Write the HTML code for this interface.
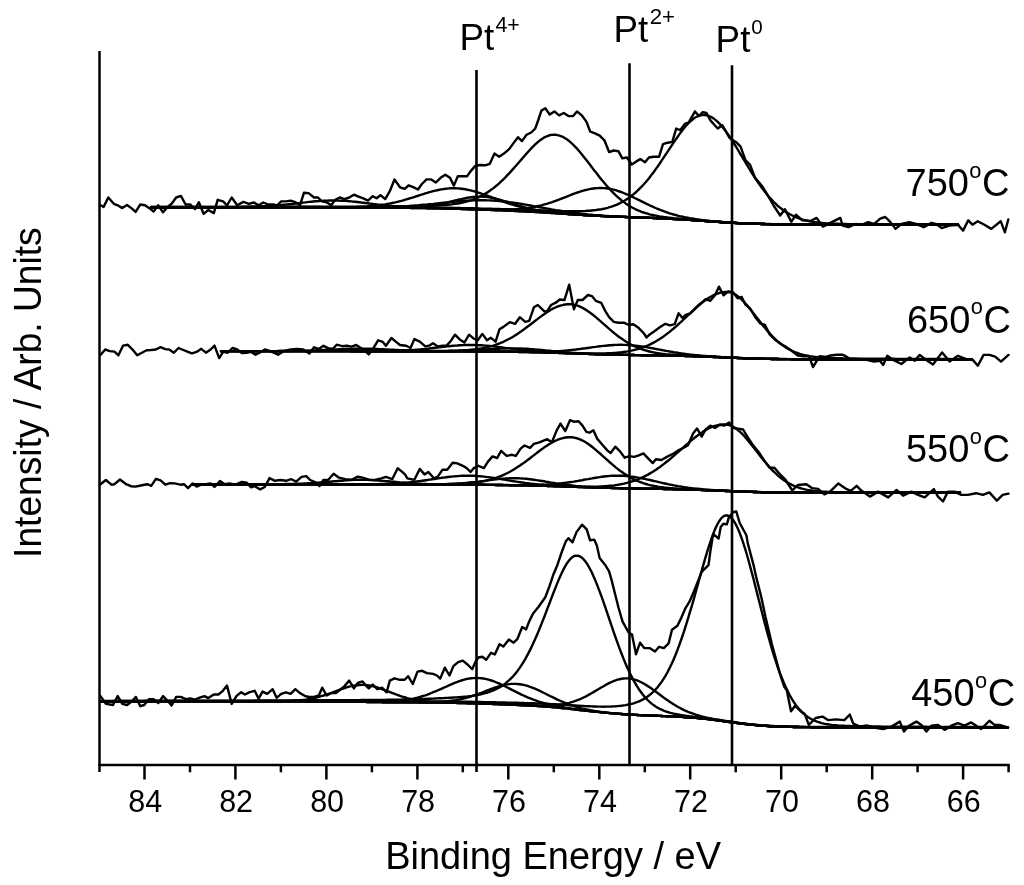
<!DOCTYPE html>
<html><head><meta charset="utf-8"><title>XPS Pt 4f</title>
<style>html,body{margin:0;padding:0;background:#fff;}svg{display:block;will-change:transform;}</style>
</head><body>
<svg width="1024" height="885" viewBox="0 0 1024 885">
<g stroke="#000" stroke-width="2.5" fill="none" stroke-linecap="butt">
<line x1="99.5" y1="51" x2="99.5" y2="772"/>
<line x1="98.3" y1="765" x2="1009.8" y2="765"/>
<line x1="144.5" y1="765" x2="144.5" y2="779.5"/>
<line x1="190.0" y1="765" x2="190.0" y2="772.3"/>
<line x1="235.4" y1="765" x2="235.4" y2="779.5"/>
<line x1="280.9" y1="765" x2="280.9" y2="772.3"/>
<line x1="326.4" y1="765" x2="326.4" y2="779.5"/>
<line x1="371.9" y1="765" x2="371.9" y2="772.3"/>
<line x1="417.4" y1="765" x2="417.4" y2="779.5"/>
<line x1="462.8" y1="765" x2="462.8" y2="772.3"/>
<line x1="508.3" y1="765" x2="508.3" y2="779.5"/>
<line x1="553.8" y1="765" x2="553.8" y2="772.3"/>
<line x1="599.3" y1="765" x2="599.3" y2="779.5"/>
<line x1="644.8" y1="765" x2="644.8" y2="772.3"/>
<line x1="690.2" y1="765" x2="690.2" y2="779.5"/>
<line x1="735.7" y1="765" x2="735.7" y2="772.3"/>
<line x1="781.2" y1="765" x2="781.2" y2="779.5"/>
<line x1="826.7" y1="765" x2="826.7" y2="772.3"/>
<line x1="872.2" y1="765" x2="872.2" y2="779.5"/>
<line x1="917.6" y1="765" x2="917.6" y2="772.3"/>
<line x1="963.1" y1="765" x2="963.1" y2="779.5"/>
<line x1="1008.6" y1="765" x2="1008.6" y2="772.3"/>
</g>
<g stroke="#000" stroke-width="2.6" fill="none">
<line x1="476.5" y1="70" x2="476.5" y2="772"/>
<line x1="629.5" y1="63.2" x2="629.5" y2="765"/>
<line x1="732" y1="65.2" x2="732" y2="765"/>
</g>
<g stroke="#000" stroke-width="2.4" fill="none" stroke-linejoin="round" stroke-linecap="round">
<polyline points="151.0,207.2 153.0,207.2 155.0,207.2 157.0,207.2 159.0,207.2 161.0,207.2 163.0,207.2 165.0,207.2 167.0,207.2 169.0,207.2 171.0,207.2 173.0,207.2 175.0,207.2 177.0,207.2 179.0,207.2 181.0,207.2 183.0,207.2 185.0,207.2 187.0,207.2 189.0,207.2 191.0,207.2 193.1,207.2 195.1,207.2 197.1,207.2 199.1,207.2 201.1,207.2 203.1,207.2 205.1,207.2 207.1,207.2 209.1,207.2 211.1,207.2 213.1,207.2 215.1,207.2 217.1,207.2 219.1,207.2 221.1,207.2 223.1,207.2 225.1,207.2 227.1,207.2 229.1,207.2 231.1,207.2 233.1,207.2 235.1,207.2 237.1,207.2 239.1,207.2 241.1,207.2 243.1,207.2 245.1,207.2 247.1,207.2 249.1,207.2 251.1,207.2 253.1,207.2 255.1,207.2 257.1,207.2 259.1,207.2 261.1,207.2 263.1,207.2 265.1,207.3 267.1,207.3 269.1,207.3 271.1,207.3 273.2,207.3 275.2,207.3 277.2,207.3 279.2,207.3 281.2,207.3 283.2,207.3 285.2,207.3 287.2,207.3 289.2,207.3 291.2,207.3 293.2,207.3 295.2,207.3 297.2,207.3 299.2,207.3 301.2,207.3 303.2,207.3 305.2,207.3 307.2,207.4 309.2,207.4 311.2,207.4 313.2,207.4 315.2,207.4 317.2,207.4 319.2,207.4 321.2,207.4 323.2,207.4 325.2,207.4 327.2,207.5 329.2,207.5 331.2,207.5 333.2,207.5 335.2,207.5 337.2,207.5 339.2,207.5 341.2,207.5 343.2,207.5 345.2,207.6 347.2,207.6 349.2,207.6 351.2,207.6 353.3,207.6 355.3,207.6 357.3,207.6 359.3,207.6 361.3,207.6 363.3,207.6 365.3,207.7 367.3,207.7 369.3,207.7 371.3,207.7 373.3,207.7 375.3,207.7 377.3,207.7 379.3,207.7 381.3,207.7 383.3,207.8 385.3,207.8 387.3,207.8 389.3,207.8 391.3,207.8 393.3,207.8 395.3,207.8 397.3,207.8 399.3,207.9 401.3,207.9 403.3,207.9 405.3,207.9 407.3,207.9 409.3,207.9 411.3,208.0 413.3,208.0 415.3,208.0 417.3,208.0 419.3,208.1 421.3,208.1 423.3,208.1 425.3,208.1 427.3,208.2 429.3,208.2 431.3,208.2 433.3,208.3 435.4,208.3 437.4,208.4 439.4,208.4 441.4,208.4 443.4,208.5 445.4,208.5 447.4,208.6 449.4,208.6 451.4,208.7 453.4,208.7 455.4,208.8 457.4,208.8 459.4,208.9 461.4,209.0 463.4,209.0 465.4,209.1 467.4,209.2 469.4,209.2 471.4,209.3 473.4,209.4 475.4,209.4 477.4,209.5 479.4,209.6 481.4,209.6 483.4,209.7 485.4,209.8 487.4,209.9 489.4,209.9 491.4,210.0 493.4,210.1 495.4,210.2 497.4,210.2 499.4,210.3 501.4,210.4 503.4,210.5 505.4,210.6 507.4,210.6 509.4,210.7 511.4,210.8 513.4,210.9 515.5,211.0 517.5,211.1 519.5,211.2 521.5,211.3 523.5,211.4 525.5,211.5 527.5,211.6 529.5,211.7 531.5,211.8 533.5,211.9 535.5,212.0 537.5,212.1 539.5,212.2 541.5,212.4 543.5,212.5 545.5,212.6 547.5,212.7 549.5,212.9 551.5,213.0 553.5,213.1 555.5,213.2 557.5,213.4 559.5,213.5 561.5,213.6 563.5,213.8 565.5,213.9 567.5,214.0 569.5,214.2 571.5,214.3 573.5,214.4 575.5,214.5 577.5,214.7 579.5,214.8 581.5,214.9 583.5,215.0 585.5,215.2 587.5,215.3 589.5,215.4 591.5,215.5 593.5,215.6 595.6,215.7 597.6,215.8 599.6,215.9 601.6,216.0 603.6,216.1 605.6,216.2 607.6,216.3 609.6,216.4 611.6,216.5 613.6,216.5 615.6,216.6 617.6,216.7 619.6,216.8 621.6,216.9 623.6,216.9 625.6,217.0 627.6,217.1 629.6,217.1 631.6,217.2 633.6,217.3 635.6,217.4 637.6,217.4 639.6,217.5 641.6,217.6 643.6,217.6 645.6,217.7 647.6,217.8 649.6,217.9 651.6,217.9 653.6,218.0 655.6,218.1 657.6,218.2 659.6,218.3 661.6,218.4 663.6,218.4 665.6,218.5 667.6,218.6 669.6,218.7 671.6,218.8 673.6,219.0 675.7,219.1 677.7,219.2 679.7,219.3 681.7,219.4 683.7,219.5 685.7,219.7 687.7,219.8 689.7,219.9 691.7,220.1 693.7,220.2 695.7,220.3 697.7,220.5 699.7,220.6 701.7,220.8 703.7,220.9 705.7,221.1 707.7,221.2 709.7,221.3 711.7,221.5 713.7,221.6 715.7,221.8 717.7,221.9 719.7,222.0 721.7,222.2 723.7,222.3 725.7,222.4 727.7,222.5 729.7,222.7 731.7,222.8 733.7,222.9 735.7,223.0 737.7,223.1 739.7,223.2 741.7,223.3 743.7,223.4 745.7,223.4 747.7,223.5 749.7,223.6 751.7,223.7 753.7,223.7 755.7,223.8 757.8,223.9 759.8,223.9 761.8,224.0 763.8,224.0 765.8,224.1 767.8,224.1 769.8,224.1 771.8,224.2 773.8,224.2 775.8,224.2 777.8,224.3 779.8,224.3 781.8,224.3 783.8,224.3 785.8,224.3 787.8,224.4 789.8,224.4 791.8,224.4 793.8,224.4 795.8,224.4 797.8,224.4 799.8,224.4 801.8,224.4 803.8,224.4 805.8,224.4 807.8,224.4 809.8,224.4 811.8,224.5 813.8,224.5 815.8,224.5 817.8,224.5 819.8,224.5 821.8,224.5 823.8,224.5 825.8,224.5 827.8,224.5 829.8,224.5 831.8,224.5 833.8,224.5 835.8,224.5 837.9,224.5 839.9,224.5 841.9,224.5 843.9,224.5 845.9,224.5 847.9,224.5 849.9,224.5 851.9,224.5 853.9,224.5 855.9,224.5 857.9,224.5 859.9,224.5 861.9,224.5 863.9,224.5 865.9,224.5 867.9,224.5 869.9,224.5 871.9,224.5 873.9,224.5 875.9,224.5 877.9,224.5 879.9,224.5 881.9,224.5 883.9,224.5 885.9,224.5 887.9,224.5 889.9,224.5 891.9,224.5 893.9,224.5 895.9,224.5 897.9,224.5 899.9,224.5 901.9,224.5 903.9,224.5 905.9,224.5 907.9,224.5 909.9,224.5 911.9,224.5 913.9,224.5 915.9,224.5 918.0,224.5 920.0,224.5 922.0,224.5 924.0,224.5 926.0,224.5 928.0,224.5 930.0,224.5 932.0,224.5 934.0,224.5 936.0,224.5 938.0,224.5 940.0,224.5 942.0,224.5 944.0,224.5 946.0,224.5 948.0,224.5 950.0,224.5 952.0,224.5 954.0,224.5 956.0,224.5 958.0,224.5"/>
<polyline points="151.0,207.0 153.0,207.0 155.0,207.0 157.0,207.0 159.0,207.0 161.0,207.0 163.0,207.0 165.0,207.0 167.0,207.0 169.0,207.0 171.0,207.0 173.0,207.0 175.0,207.0 177.0,207.0 179.0,207.0 181.0,207.0 183.0,207.0 185.0,207.0 187.0,207.0 189.0,207.0 191.0,207.0 193.1,207.0 195.1,207.0 197.1,207.0 199.1,207.0 201.1,207.0 203.1,207.0 205.1,207.0 207.1,207.0 209.1,207.0 211.1,207.0 213.1,207.0 215.1,207.0 217.1,207.0 219.1,207.0 221.1,207.0 223.1,207.0 225.1,207.0 227.1,207.0 229.1,207.0 231.1,207.0 233.1,207.0 235.1,207.0 237.1,207.0 239.1,207.0 241.1,207.0 243.1,207.0 245.1,207.0 247.1,207.0 249.1,207.0 251.1,207.0 253.1,207.0 255.1,207.0 257.1,207.0 259.1,207.0 261.1,207.0 263.1,207.0 265.1,207.0 267.1,207.0 269.1,207.0 271.1,207.0 273.2,207.0 275.2,207.0 277.2,207.0 279.2,207.0 281.2,207.0 283.2,207.0 285.2,207.0 287.2,207.0 289.2,207.0 291.2,207.0 293.2,207.0 295.2,207.0 297.2,207.0 299.2,207.0 301.2,207.0 303.2,207.0 305.2,207.0 307.2,207.0 309.2,207.0 311.2,207.0 313.2,207.0 315.2,207.0 317.2,207.0 319.2,207.0 321.2,207.0 323.2,207.1 325.2,207.1 327.2,207.1 329.2,207.1 331.2,207.1 333.2,207.1 335.2,207.1 337.2,207.1 339.2,207.1 341.2,207.1 343.2,207.1 345.2,207.1 347.2,207.1 349.2,207.1 351.2,207.1 353.3,207.2 355.3,207.2 357.3,207.2 359.3,207.2 361.3,207.2 363.3,207.2 365.3,207.2 367.3,207.2 369.3,207.2 371.3,207.2 373.3,207.2 375.3,207.2 377.3,207.2 379.3,207.2 381.3,207.2 383.3,207.2 385.3,207.2 387.3,207.2 389.3,207.2 391.3,207.2 393.3,207.2 395.3,207.3 397.3,207.3 399.3,207.3 401.3,207.3 403.3,207.3 405.3,207.3 407.3,207.3 409.3,207.3 411.3,207.3 413.3,207.3 415.3,207.4 417.3,207.4 419.3,207.4 421.3,207.4 423.3,207.4 425.3,207.4 427.3,207.5 429.3,207.5 431.3,207.5 433.3,207.5 435.4,207.6 437.4,207.6 439.4,207.6 441.4,207.7 443.4,207.7 445.4,207.7 447.4,207.8 449.4,207.8 451.4,207.8 453.4,207.9 455.4,207.9 457.4,208.0 459.4,208.0 461.4,208.1 463.4,208.1 465.4,208.1 467.4,208.2 469.4,208.2 471.4,208.3 473.4,208.3 475.4,208.4 477.4,208.5 479.4,208.5 481.4,208.6 483.4,208.6 485.4,208.7 487.4,208.7 489.4,208.8 491.4,208.8 493.4,208.9 495.4,208.9 497.4,209.0 499.4,209.0 501.4,209.1 503.4,209.2 505.4,209.2 507.4,209.3 509.4,209.3 511.4,209.4 513.4,209.5 515.5,209.5 517.5,209.6 519.5,209.6 521.5,209.7 523.5,209.8 525.5,209.8 527.5,209.9 529.5,210.0 531.5,210.0 533.5,210.1 535.5,210.2 537.5,210.3 539.5,210.3 541.5,210.4 543.5,210.5 545.5,210.5 547.5,210.6 549.5,210.7 551.5,210.8 553.5,210.8 555.5,210.9 557.5,211.0 559.5,211.0 561.5,211.1 563.5,211.1 565.5,211.2 567.5,211.2 569.5,211.2 571.5,211.2 573.5,211.2 575.5,211.2 577.5,211.2 579.5,211.2 581.5,211.1 583.5,211.1 585.5,211.0 587.5,210.8 589.5,210.7 591.5,210.5 593.5,210.3 595.6,210.1 597.6,209.8 599.6,209.5 601.6,209.2 603.6,208.8 605.6,208.3 607.6,207.8 609.6,207.2 611.6,206.6 613.6,205.9 615.6,205.1 617.6,204.3 619.6,203.4 621.6,202.3 623.6,201.2 625.6,200.0 627.6,198.7 629.6,197.3 631.6,195.8 633.6,194.2 635.6,192.5 637.6,190.7 639.6,188.7 641.6,186.7 643.6,184.5 645.6,182.3 647.6,179.9 649.6,177.4 651.6,174.8 653.6,172.2 655.6,169.4 657.6,166.6 659.6,163.7 661.6,160.7 663.6,157.7 665.6,154.7 667.6,151.7 669.6,148.6 671.6,145.6 673.6,142.6 675.7,139.6 677.7,136.7 679.7,133.9 681.7,131.2 683.7,128.6 685.7,126.2 687.7,124.0 689.7,122.0 691.7,120.2 693.7,118.6 695.7,117.3 697.7,116.3 699.7,115.5 701.7,115.1 703.7,114.9 705.7,115.1 707.7,115.6 709.7,116.3 711.7,117.3 713.7,118.6 715.7,120.1 717.7,121.9 719.7,123.9 721.7,126.1 723.7,128.5 725.7,131.1 727.7,133.9 729.7,136.8 731.7,139.8 733.7,143.0 735.7,146.2 737.7,149.5 739.7,152.8 741.7,156.2 743.7,159.5 745.7,162.9 747.7,166.2 749.7,169.5 751.7,172.8 753.7,175.9 755.7,179.0 757.8,182.0 759.8,184.9 761.8,187.7 763.8,190.4 765.8,193.0 767.8,195.4 769.8,197.7 771.8,199.9 773.8,202.0 775.8,203.9 777.8,205.8 779.8,207.5 781.8,209.0 783.8,210.5 785.8,211.9 787.8,213.1 789.8,214.2 791.8,215.3 793.8,216.3 795.8,217.1 797.8,217.9 799.8,218.6 801.8,219.3 803.8,219.9 805.8,220.4 807.8,220.8 809.8,221.3 811.8,221.6 813.8,222.0 815.8,222.2 817.8,222.5 819.8,222.7 821.8,222.9 823.8,223.1 825.8,223.3 827.8,223.4 829.8,223.5 831.8,223.6 833.8,223.7 835.8,223.8 837.9,223.8 839.9,223.9 841.9,224.0 843.9,224.0 845.9,224.0 847.9,224.1 849.9,224.1 851.9,224.1 853.9,224.1 855.9,224.2 857.9,224.2 859.9,224.2 861.9,224.2 863.9,224.2 865.9,224.2 867.9,224.2 869.9,224.2 871.9,224.3 873.9,224.3 875.9,224.3 877.9,224.3 879.9,224.3 881.9,224.3 883.9,224.3 885.9,224.3 887.9,224.3 889.9,224.3 891.9,224.3 893.9,224.3 895.9,224.3 897.9,224.3 899.9,224.3 901.9,224.3 903.9,224.3 905.9,224.3 907.9,224.3 909.9,224.3 911.9,224.3 913.9,224.3 915.9,224.4 918.0,224.4 920.0,224.4 922.0,224.4 924.0,224.4 926.0,224.4 928.0,224.4 930.0,224.4 932.0,224.4 934.0,224.4 936.0,224.4 938.0,224.4 940.0,224.4 942.0,224.4 944.0,224.4 946.0,224.4 948.0,224.4 950.0,224.4 952.0,224.4 954.0,224.4 956.0,224.4 958.0,224.4"/>
<polyline points="151.0,207.0 153.0,207.0 155.0,207.0 157.0,207.0 159.0,207.0 161.0,207.0 163.0,207.0 165.0,207.0 167.0,207.0 169.0,207.0 171.0,206.9 173.0,206.9 175.0,206.9 177.0,206.9 179.0,206.9 181.0,206.9 183.0,206.9 185.0,206.9 187.0,206.9 189.0,206.9 191.0,206.9 193.1,206.9 195.1,206.9 197.1,206.9 199.1,206.9 201.1,206.9 203.1,206.9 205.1,206.9 207.1,206.9 209.1,206.9 211.1,206.9 213.1,206.9 215.1,206.9 217.1,206.9 219.1,206.9 221.1,206.9 223.1,206.9 225.1,206.9 227.1,206.9 229.1,206.9 231.1,206.9 233.1,206.9 235.1,206.9 237.1,206.9 239.1,206.9 241.1,206.9 243.1,206.8 245.1,206.8 247.1,206.8 249.1,206.8 251.1,206.8 253.1,206.8 255.1,206.8 257.1,206.8 259.1,206.8 261.1,206.8 263.1,206.8 265.1,206.8 267.1,206.8 269.1,206.8 271.1,206.8 273.2,206.8 275.2,206.8 277.2,206.8 279.2,206.8 281.2,206.8 283.2,206.8 285.2,206.8 287.2,206.8 289.2,206.8 291.2,206.8 293.2,206.8 295.2,206.8 297.2,206.8 299.2,206.8 301.2,206.8 303.2,206.8 305.2,206.8 307.2,206.8 309.2,206.8 311.2,206.8 313.2,206.8 315.2,206.7 317.2,206.7 319.2,206.7 321.2,206.7 323.2,206.7 325.2,206.7 327.2,206.7 329.2,206.7 331.2,206.7 333.2,206.7 335.2,206.7 337.2,206.7 339.2,206.7 341.2,206.7 343.2,206.7 345.2,206.7 347.2,206.7 349.2,206.7 351.2,206.7 353.3,206.7 355.3,206.7 357.3,206.7 359.3,206.7 361.3,206.7 363.3,206.7 365.3,206.7 367.3,206.6 369.3,206.6 371.3,206.6 373.3,206.6 375.3,206.6 377.3,206.6 379.3,206.6 381.3,206.5 383.3,206.5 385.3,206.5 387.3,206.5 389.3,206.5 391.3,206.5 393.3,206.4 395.3,206.4 397.3,206.4 399.3,206.4 401.3,206.4 403.3,206.3 405.3,206.3 407.3,206.3 409.3,206.3 411.3,206.2 413.3,206.2 415.3,206.2 417.3,206.1 419.3,206.1 421.3,206.0 423.3,206.0 425.3,206.0 427.3,205.9 429.3,205.8 431.3,205.8 433.3,205.7 435.4,205.6 437.4,205.5 439.4,205.4 441.4,205.3 443.4,205.1 445.4,205.0 447.4,204.8 449.4,204.6 451.4,204.4 453.4,204.1 455.4,203.8 457.4,203.5 459.4,203.2 461.4,202.8 463.4,202.4 465.4,201.9 467.4,201.3 469.4,200.7 471.4,200.1 473.4,199.4 475.4,198.6 477.4,197.8 479.4,196.9 481.4,195.9 483.4,194.8 485.4,193.6 487.4,192.4 489.4,191.0 491.4,189.6 493.4,188.1 495.4,186.5 497.4,184.8 499.4,183.1 501.4,181.2 503.4,179.3 505.4,177.3 507.4,175.2 509.4,173.1 511.4,170.9 513.4,168.6 515.5,166.3 517.5,164.0 519.5,161.7 521.5,159.4 523.5,157.0 525.5,154.7 527.5,152.5 529.5,150.3 531.5,148.1 533.5,146.1 535.5,144.2 537.5,142.4 539.5,140.7 541.5,139.2 543.5,137.9 545.5,136.8 547.5,136.0 549.5,135.3 551.5,134.9 553.5,134.7 555.5,134.8 557.5,135.1 559.5,135.6 561.5,136.3 563.5,137.3 565.5,138.5 567.5,139.8 569.5,141.4 571.5,143.1 573.5,145.0 575.5,147.1 577.5,149.2 579.5,151.5 581.5,153.9 583.5,156.4 585.5,158.9 587.5,161.5 589.5,164.1 591.5,166.7 593.5,169.4 595.6,172.0 597.6,174.6 599.6,177.2 601.6,179.7 603.6,182.1 605.6,184.5 607.6,186.8 609.6,189.0 611.6,191.2 613.6,193.2 615.6,195.1 617.6,197.0 619.6,198.7 621.6,200.4 623.6,201.9 625.6,203.4 627.6,204.7 629.6,206.0 631.6,207.2 633.6,208.3 635.6,209.3 637.6,210.2 639.6,211.0 641.6,211.8 643.6,212.5 645.6,213.1 647.6,213.7 649.6,214.3 651.6,214.8 653.6,215.2 655.6,215.6 657.6,216.0 659.6,216.4 661.6,216.7 663.6,217.0 665.6,217.2 667.6,217.5 669.6,217.7 671.6,217.9 673.6,218.2 675.7,218.4 677.7,218.5 679.7,218.7 681.7,218.9 683.7,219.1 685.7,219.3 687.7,219.4 689.7,219.6 691.7,219.7 693.7,219.9 695.7,220.1 697.7,220.2 699.7,220.4 701.7,220.5 703.7,220.7 705.7,220.8 707.7,221.0 709.7,221.2 711.7,221.3 713.7,221.4 715.7,221.6 717.7,221.7 719.7,221.9 721.7,222.0 723.7,222.1 725.7,222.3 727.7,222.4 729.7,222.5 731.7,222.6 733.7,222.7 735.7,222.9 737.7,223.0 739.7,223.1 741.7,223.2 743.7,223.2 745.7,223.3 747.7,223.4 749.7,223.5 751.7,223.6 753.7,223.6 755.7,223.7 757.8,223.8 759.8,223.8 761.8,223.9 763.8,223.9 765.8,224.0 767.8,224.0 769.8,224.0 771.8,224.1 773.8,224.1 775.8,224.1 777.8,224.2 779.8,224.2 781.8,224.2 783.8,224.2 785.8,224.3 787.8,224.3 789.8,224.3 791.8,224.3 793.8,224.3 795.8,224.3 797.8,224.3 799.8,224.3 801.8,224.4 803.8,224.4 805.8,224.4 807.8,224.4 809.8,224.4 811.8,224.4 813.8,224.4 815.8,224.4 817.8,224.4 819.8,224.4 821.8,224.4 823.8,224.4 825.8,224.4 827.8,224.4 829.8,224.4 831.8,224.4 833.8,224.4 835.8,224.4 837.9,224.4 839.9,224.4 841.9,224.4 843.9,224.4 845.9,224.4 847.9,224.4 849.9,224.4 851.9,224.4 853.9,224.4 855.9,224.4 857.9,224.4 859.9,224.4 861.9,224.4 863.9,224.4 865.9,224.4 867.9,224.4 869.9,224.4 871.9,224.4 873.9,224.4 875.9,224.4 877.9,224.4 879.9,224.4 881.9,224.4 883.9,224.4 885.9,224.5 887.9,224.5 889.9,224.5 891.9,224.5 893.9,224.5 895.9,224.5 897.9,224.5 899.9,224.5 901.9,224.5 903.9,224.5 905.9,224.5 907.9,224.5 909.9,224.5 911.9,224.5 913.9,224.5 915.9,224.5 918.0,224.5 920.0,224.5 922.0,224.5 924.0,224.5 926.0,224.5 928.0,224.5 930.0,224.5 932.0,224.5 934.0,224.5 936.0,224.5 938.0,224.5 940.0,224.5 942.0,224.5 944.0,224.5 946.0,224.5 948.0,224.5 950.0,224.5 952.0,224.5 954.0,224.5 956.0,224.5 958.0,224.5"/>
<polyline points="151.0,207.2 153.0,207.2 155.0,207.2 157.0,207.2 159.0,207.2 161.0,207.2 163.0,207.2 165.0,207.2 167.0,207.2 169.0,207.2 171.0,207.2 173.0,207.2 175.0,207.2 177.0,207.2 179.0,207.2 181.0,207.2 183.0,207.2 185.0,207.2 187.0,207.2 189.0,207.2 191.0,207.2 193.1,207.2 195.1,207.2 197.1,207.2 199.1,207.2 201.1,207.2 203.1,207.2 205.1,207.2 207.1,207.2 209.1,207.2 211.1,207.2 213.1,207.2 215.1,207.2 217.1,207.2 219.1,207.2 221.1,207.2 223.1,207.2 225.1,207.2 227.1,207.2 229.1,207.2 231.1,207.2 233.1,207.2 235.1,207.2 237.1,207.2 239.1,207.2 241.1,207.2 243.1,207.2 245.1,207.2 247.1,207.2 249.1,207.2 251.1,207.2 253.1,207.2 255.1,207.2 257.1,207.2 259.1,207.2 261.1,207.2 263.1,207.2 265.1,207.3 267.1,207.3 269.1,207.3 271.1,207.3 273.2,207.3 275.2,207.3 277.2,207.3 279.2,207.3 281.2,207.3 283.2,207.3 285.2,207.3 287.2,207.3 289.2,207.3 291.2,207.3 293.2,207.3 295.2,207.3 297.2,207.3 299.2,207.3 301.2,207.3 303.2,207.3 305.2,207.3 307.2,207.4 309.2,207.4 311.2,207.4 313.2,207.4 315.2,207.4 317.2,207.4 319.2,207.4 321.2,207.4 323.2,207.4 325.2,207.4 327.2,207.5 329.2,207.5 331.2,207.5 333.2,207.5 335.2,207.5 337.2,207.5 339.2,207.5 341.2,207.5 343.2,207.5 345.2,207.6 347.2,207.6 349.2,207.6 351.2,207.6 353.3,207.6 355.3,207.6 357.3,207.6 359.3,207.6 361.3,207.6 363.3,207.6 365.3,207.7 367.3,207.7 369.3,207.7 371.3,207.7 373.3,207.7 375.3,207.7 377.3,207.7 379.3,207.7 381.3,207.7 383.3,207.8 385.3,207.8 387.3,207.8 389.3,207.8 391.3,207.8 393.3,207.8 395.3,207.8 397.3,207.8 399.3,207.9 401.3,207.9 403.3,207.9 405.3,207.9 407.3,207.9 409.3,207.9 411.3,208.0 413.3,208.0 415.3,208.0 417.3,208.0 419.3,208.1 421.3,208.1 423.3,208.1 425.3,208.1 427.3,208.2 429.3,208.2 431.3,208.2 433.3,208.3 435.4,208.3 437.4,208.4 439.4,208.4 441.4,208.4 443.4,208.5 445.4,208.5 447.4,208.6 449.4,208.6 451.4,208.7 453.4,208.7 455.4,208.8 457.4,208.8 459.4,208.9 461.4,208.9 463.4,209.0 465.4,209.1 467.4,209.1 469.4,209.2 471.4,209.2 473.4,209.3 475.4,209.3 477.4,209.4 479.4,209.5 481.4,209.5 483.4,209.6 485.4,209.6 487.4,209.6 489.4,209.7 491.4,209.7 493.4,209.7 495.4,209.7 497.4,209.7 499.4,209.7 501.4,209.7 503.4,209.7 505.4,209.7 507.4,209.6 509.4,209.6 511.4,209.5 513.4,209.4 515.5,209.3 517.5,209.1 519.5,209.0 521.5,208.8 523.5,208.6 525.5,208.3 527.5,208.1 529.5,207.8 531.5,207.4 533.5,207.1 535.5,206.7 537.5,206.2 539.5,205.8 541.5,205.3 543.5,204.7 545.5,204.2 547.5,203.6 549.5,202.9 551.5,202.3 553.5,201.6 555.5,200.9 557.5,200.1 559.5,199.4 561.5,198.6 563.5,197.8 565.5,197.1 567.5,196.3 569.5,195.5 571.5,194.7 573.5,193.9 575.5,193.2 577.5,192.5 579.5,191.8 581.5,191.2 583.5,190.6 585.5,190.0 587.5,189.6 589.5,189.1 591.5,188.8 593.5,188.5 595.6,188.2 597.6,188.1 599.6,188.0 601.6,188.0 603.6,188.1 605.6,188.3 607.6,188.5 609.6,188.8 611.6,189.2 613.6,189.7 615.6,190.2 617.6,190.8 619.6,191.5 621.6,192.2 623.6,193.0 625.6,193.8 627.6,194.7 629.6,195.6 631.6,196.5 633.6,197.5 635.6,198.5 637.6,199.4 639.6,200.4 641.6,201.4 643.6,202.4 645.6,203.4 647.6,204.3 649.6,205.3 651.6,206.2 653.6,207.1 655.6,208.0 657.6,208.8 659.6,209.7 661.6,210.4 663.6,211.2 665.6,211.9 667.6,212.6 669.6,213.3 671.6,213.9 673.6,214.5 675.7,215.0 677.7,215.6 679.7,216.1 681.7,216.5 683.7,217.0 685.7,217.4 687.7,217.8 689.7,218.2 691.7,218.5 693.7,218.8 695.7,219.1 697.7,219.4 699.7,219.7 701.7,220.0 703.7,220.2 705.7,220.5 707.7,220.7 709.7,220.9 711.7,221.1 713.7,221.3 715.7,221.5 717.7,221.7 719.7,221.8 721.7,222.0 723.7,222.2 725.7,222.3 727.7,222.4 729.7,222.6 731.7,222.7 733.7,222.8 735.7,222.9 737.7,223.1 739.7,223.2 741.7,223.3 743.7,223.3 745.7,223.4 747.7,223.5 749.7,223.6 751.7,223.7 753.7,223.7 755.7,223.8 757.8,223.9 759.8,223.9 761.8,224.0 763.8,224.0 765.8,224.1 767.8,224.1 769.8,224.1 771.8,224.2 773.8,224.2 775.8,224.2 777.8,224.3 779.8,224.3 781.8,224.3 783.8,224.3 785.8,224.3 787.8,224.4 789.8,224.4 791.8,224.4 793.8,224.4 795.8,224.4 797.8,224.4 799.8,224.4 801.8,224.4 803.8,224.4 805.8,224.4 807.8,224.4 809.8,224.4 811.8,224.5 813.8,224.5 815.8,224.5 817.8,224.5 819.8,224.5 821.8,224.5 823.8,224.5 825.8,224.5 827.8,224.5 829.8,224.5 831.8,224.5 833.8,224.5 835.8,224.5 837.9,224.5 839.9,224.5 841.9,224.5 843.9,224.5 845.9,224.5 847.9,224.5 849.9,224.5 851.9,224.5 853.9,224.5 855.9,224.5 857.9,224.5 859.9,224.5 861.9,224.5 863.9,224.5 865.9,224.5 867.9,224.5 869.9,224.5 871.9,224.5 873.9,224.5 875.9,224.5 877.9,224.5 879.9,224.5 881.9,224.5 883.9,224.5 885.9,224.5 887.9,224.5 889.9,224.5 891.9,224.5 893.9,224.5 895.9,224.5 897.9,224.5 899.9,224.5 901.9,224.5 903.9,224.5 905.9,224.5 907.9,224.5 909.9,224.5 911.9,224.5 913.9,224.5 915.9,224.5 918.0,224.5 920.0,224.5 922.0,224.5 924.0,224.5 926.0,224.5 928.0,224.5 930.0,224.5 932.0,224.5 934.0,224.5 936.0,224.5 938.0,224.5 940.0,224.5 942.0,224.5 944.0,224.5 946.0,224.5 948.0,224.5 950.0,224.5 952.0,224.5 954.0,224.5 956.0,224.5 958.0,224.5"/>
<polyline points="151.0,207.2 153.0,207.2 155.0,207.2 157.0,207.2 159.0,207.2 161.0,207.2 163.0,207.2 165.0,207.2 167.0,207.2 169.0,207.2 171.0,207.2 173.0,207.2 175.0,207.2 177.0,207.2 179.0,207.2 181.0,207.2 183.0,207.2 185.0,207.2 187.0,207.2 189.0,207.2 191.0,207.2 193.1,207.2 195.1,207.2 197.1,207.2 199.1,207.2 201.1,207.2 203.1,207.2 205.1,207.2 207.1,207.2 209.1,207.2 211.1,207.2 213.1,207.2 215.1,207.2 217.1,207.2 219.1,207.2 221.1,207.2 223.1,207.2 225.1,207.2 227.1,207.2 229.1,207.2 231.1,207.2 233.1,207.2 235.1,207.2 237.1,207.2 239.1,207.2 241.1,207.2 243.1,207.2 245.1,207.2 247.1,207.2 249.1,207.2 251.1,207.2 253.1,207.2 255.1,207.2 257.1,207.2 259.1,207.2 261.1,207.2 263.1,207.2 265.1,207.3 267.1,207.3 269.1,207.3 271.1,207.3 273.2,207.3 275.2,207.3 277.2,207.3 279.2,207.3 281.2,207.3 283.2,207.3 285.2,207.3 287.2,207.3 289.2,207.3 291.2,207.3 293.2,207.3 295.2,207.3 297.2,207.3 299.2,207.3 301.2,207.3 303.2,207.3 305.2,207.3 307.2,207.4 309.2,207.4 311.2,207.4 313.2,207.4 315.2,207.4 317.2,207.4 319.2,207.4 321.2,207.4 323.2,207.4 325.2,207.4 327.2,207.4 329.2,207.4 331.2,207.4 333.2,207.4 335.2,207.4 337.2,207.4 339.2,207.4 341.2,207.4 343.2,207.3 345.2,207.3 347.2,207.3 349.2,207.2 351.2,207.2 353.3,207.1 355.3,207.1 357.3,207.0 359.3,206.9 361.3,206.8 363.3,206.7 365.3,206.6 367.3,206.5 369.3,206.3 371.3,206.2 373.3,206.0 375.3,205.8 377.3,205.5 379.3,205.3 381.3,205.0 383.3,204.7 385.3,204.4 387.3,204.0 389.3,203.6 391.3,203.2 393.3,202.8 395.3,202.4 397.3,201.9 399.3,201.4 401.3,200.9 403.3,200.3 405.3,199.7 407.3,199.1 409.3,198.5 411.3,197.9 413.3,197.3 415.3,196.6 417.3,196.0 419.3,195.3 421.3,194.7 423.3,194.1 425.3,193.4 427.3,192.8 429.3,192.2 431.3,191.7 433.3,191.1 435.4,190.6 437.4,190.2 439.4,189.8 441.4,189.4 443.4,189.1 445.4,188.8 447.4,188.6 449.4,188.4 451.4,188.3 453.4,188.3 455.4,188.3 457.4,188.4 459.4,188.5 461.4,188.7 463.4,189.0 465.4,189.3 467.4,189.7 469.4,190.1 471.4,190.6 473.4,191.1 475.4,191.7 477.4,192.3 479.4,192.9 481.4,193.6 483.4,194.3 485.4,195.0 487.4,195.7 489.4,196.5 491.4,197.2 493.4,198.0 495.4,198.7 497.4,199.4 499.4,200.2 501.4,200.9 503.4,201.6 505.4,202.3 507.4,203.0 509.4,203.6 511.4,204.3 513.4,204.9 515.5,205.5 517.5,206.0 519.5,206.6 521.5,207.1 523.5,207.6 525.5,208.0 527.5,208.5 529.5,208.9 531.5,209.3 533.5,209.7 535.5,210.0 537.5,210.4 539.5,210.7 541.5,211.0 543.5,211.3 545.5,211.5 547.5,211.8 549.5,212.0 551.5,212.3 553.5,212.5 555.5,212.7 557.5,212.9 559.5,213.1 561.5,213.3 563.5,213.5 565.5,213.7 567.5,213.8 569.5,214.0 571.5,214.1 573.5,214.3 575.5,214.4 577.5,214.6 579.5,214.7 581.5,214.9 583.5,215.0 585.5,215.1 587.5,215.2 589.5,215.4 591.5,215.5 593.5,215.6 595.6,215.7 597.6,215.8 599.6,215.9 601.6,216.0 603.6,216.1 605.6,216.2 607.6,216.3 609.6,216.4 611.6,216.5 613.6,216.5 615.6,216.6 617.6,216.7 619.6,216.8 621.6,216.9 623.6,216.9 625.6,217.0 627.6,217.1 629.6,217.1 631.6,217.2 633.6,217.3 635.6,217.4 637.6,217.4 639.6,217.5 641.6,217.6 643.6,217.6 645.6,217.7 647.6,217.8 649.6,217.9 651.6,217.9 653.6,218.0 655.6,218.1 657.6,218.2 659.6,218.3 661.6,218.4 663.6,218.4 665.6,218.5 667.6,218.6 669.6,218.7 671.6,218.8 673.6,219.0 675.7,219.1 677.7,219.2 679.7,219.3 681.7,219.4 683.7,219.5 685.7,219.7 687.7,219.8 689.7,219.9 691.7,220.1 693.7,220.2 695.7,220.3 697.7,220.5 699.7,220.6 701.7,220.8 703.7,220.9 705.7,221.1 707.7,221.2 709.7,221.3 711.7,221.5 713.7,221.6 715.7,221.8 717.7,221.9 719.7,222.0 721.7,222.2 723.7,222.3 725.7,222.4 727.7,222.5 729.7,222.7 731.7,222.8 733.7,222.9 735.7,223.0 737.7,223.1 739.7,223.2 741.7,223.3 743.7,223.4 745.7,223.4 747.7,223.5 749.7,223.6 751.7,223.7 753.7,223.7 755.7,223.8 757.8,223.9 759.8,223.9 761.8,224.0 763.8,224.0 765.8,224.1 767.8,224.1 769.8,224.1 771.8,224.2 773.8,224.2 775.8,224.2 777.8,224.3 779.8,224.3 781.8,224.3 783.8,224.3 785.8,224.3 787.8,224.4 789.8,224.4 791.8,224.4 793.8,224.4 795.8,224.4 797.8,224.4 799.8,224.4 801.8,224.4 803.8,224.4 805.8,224.4 807.8,224.4 809.8,224.4 811.8,224.5 813.8,224.5 815.8,224.5 817.8,224.5 819.8,224.5 821.8,224.5 823.8,224.5 825.8,224.5 827.8,224.5 829.8,224.5 831.8,224.5 833.8,224.5 835.8,224.5 837.9,224.5 839.9,224.5 841.9,224.5 843.9,224.5 845.9,224.5 847.9,224.5 849.9,224.5 851.9,224.5 853.9,224.5 855.9,224.5 857.9,224.5 859.9,224.5 861.9,224.5 863.9,224.5 865.9,224.5 867.9,224.5 869.9,224.5 871.9,224.5 873.9,224.5 875.9,224.5 877.9,224.5 879.9,224.5 881.9,224.5 883.9,224.5 885.9,224.5 887.9,224.5 889.9,224.5 891.9,224.5 893.9,224.5 895.9,224.5 897.9,224.5 899.9,224.5 901.9,224.5 903.9,224.5 905.9,224.5 907.9,224.5 909.9,224.5 911.9,224.5 913.9,224.5 915.9,224.5 918.0,224.5 920.0,224.5 922.0,224.5 924.0,224.5 926.0,224.5 928.0,224.5 930.0,224.5 932.0,224.5 934.0,224.5 936.0,224.5 938.0,224.5 940.0,224.5 942.0,224.5 944.0,224.5 946.0,224.5 948.0,224.5 950.0,224.5 952.0,224.5 954.0,224.5 956.0,224.5 958.0,224.5"/>
<polyline points="151.0,207.2 153.0,207.2 155.0,207.2 157.0,207.2 159.0,207.2 161.0,207.2 163.0,207.2 165.0,207.2 167.0,207.2 169.0,207.2 171.0,207.2 173.0,207.2 175.0,207.2 177.0,207.2 179.0,207.2 181.0,207.2 183.0,207.2 185.0,207.2 187.0,207.2 189.0,207.2 191.0,207.2 193.1,207.2 195.1,207.2 197.1,207.2 199.1,207.2 201.1,207.2 203.1,207.2 205.1,207.2 207.1,207.2 209.1,207.2 211.1,207.2 213.1,207.2 215.1,207.2 217.1,207.2 219.1,207.2 221.1,207.2 223.1,207.2 225.1,207.2 227.1,207.2 229.1,207.2 231.1,207.2 233.1,207.2 235.1,207.2 237.1,207.2 239.1,207.2 241.1,207.2 243.1,207.2 245.1,207.2 247.1,207.2 249.1,207.2 251.1,207.2 253.1,207.2 255.1,207.2 257.1,207.2 259.1,207.2 261.1,207.2 263.1,207.2 265.1,207.3 267.1,207.3 269.1,207.3 271.1,207.3 273.2,207.3 275.2,207.3 277.2,207.3 279.2,207.3 281.2,207.3 283.2,207.3 285.2,207.3 287.2,207.3 289.2,207.3 291.2,207.3 293.2,207.3 295.2,207.3 297.2,207.3 299.2,207.3 301.2,207.3 303.2,207.3 305.2,207.3 307.2,207.4 309.2,207.4 311.2,207.4 313.2,207.4 315.2,207.4 317.2,207.4 319.2,207.4 321.2,207.4 323.2,207.4 325.2,207.4 327.2,207.5 329.2,207.5 331.2,207.5 333.2,207.5 335.2,207.5 337.2,207.5 339.2,207.5 341.2,207.5 343.2,207.5 345.2,207.6 347.2,207.6 349.2,207.6 351.2,207.6 353.3,207.6 355.3,207.6 357.3,207.6 359.3,207.6 361.3,207.6 363.3,207.6 365.3,207.7 367.3,207.7 369.3,207.7 371.3,207.7 373.3,207.7 375.3,207.7 377.3,207.7 379.3,207.7 381.3,207.7 383.3,207.7 385.3,207.7 387.3,207.7 389.3,207.7 391.3,207.7 393.3,207.7 395.3,207.7 397.3,207.7 399.3,207.7 401.3,207.7 403.3,207.6 405.3,207.6 407.3,207.5 409.3,207.5 411.3,207.4 413.3,207.3 415.3,207.2 417.3,207.1 419.3,207.0 421.3,206.8 423.3,206.7 425.3,206.5 427.3,206.2 429.3,206.0 431.3,205.7 433.3,205.4 435.4,205.1 437.4,204.7 439.4,204.3 441.4,203.9 443.4,203.5 445.4,203.0 447.4,202.5 449.4,202.0 451.4,201.5 453.4,201.0 455.4,200.5 457.4,200.0 459.4,199.5 461.4,199.1 463.4,198.6 465.4,198.2 467.4,197.8 469.4,197.5 471.4,197.2 473.4,197.0 475.4,196.8 477.4,196.7 479.4,196.6 481.4,196.6 483.4,196.7 485.4,196.9 487.4,197.1 489.4,197.4 491.4,197.7 493.4,198.1 495.4,198.6 497.4,199.1 499.4,199.6 501.4,200.2 503.4,200.8 505.4,201.4 507.4,202.0 509.4,202.7 511.4,203.3 513.4,204.0 515.5,204.6 517.5,205.3 519.5,205.9 521.5,206.5 523.5,207.0 525.5,207.6 527.5,208.1 529.5,208.6 531.5,209.1 533.5,209.5 535.5,209.9 537.5,210.3 539.5,210.7 541.5,211.0 543.5,211.3 545.5,211.6 547.5,211.9 549.5,212.1 551.5,212.4 553.5,212.6 555.5,212.8 557.5,213.0 559.5,213.2 561.5,213.4 563.5,213.6 565.5,213.8 567.5,213.9 569.5,214.1 571.5,214.2 573.5,214.4 575.5,214.5 577.5,214.6 579.5,214.8 581.5,214.9 583.5,215.0 585.5,215.1 587.5,215.3 589.5,215.4 591.5,215.5 593.5,215.6 595.6,215.7 597.6,215.8 599.6,215.9 601.6,216.0 603.6,216.1 605.6,216.2 607.6,216.3 609.6,216.4 611.6,216.5 613.6,216.5 615.6,216.6 617.6,216.7 619.6,216.8 621.6,216.9 623.6,216.9 625.6,217.0 627.6,217.1 629.6,217.1 631.6,217.2 633.6,217.3 635.6,217.4 637.6,217.4 639.6,217.5 641.6,217.6 643.6,217.6 645.6,217.7 647.6,217.8 649.6,217.9 651.6,217.9 653.6,218.0 655.6,218.1 657.6,218.2 659.6,218.3 661.6,218.4 663.6,218.4 665.6,218.5 667.6,218.6 669.6,218.7 671.6,218.8 673.6,219.0 675.7,219.1 677.7,219.2 679.7,219.3 681.7,219.4 683.7,219.5 685.7,219.7 687.7,219.8 689.7,219.9 691.7,220.1 693.7,220.2 695.7,220.3 697.7,220.5 699.7,220.6 701.7,220.8 703.7,220.9 705.7,221.1 707.7,221.2 709.7,221.3 711.7,221.5 713.7,221.6 715.7,221.8 717.7,221.9 719.7,222.0 721.7,222.2 723.7,222.3 725.7,222.4 727.7,222.5 729.7,222.7 731.7,222.8 733.7,222.9 735.7,223.0 737.7,223.1 739.7,223.2 741.7,223.3 743.7,223.4 745.7,223.4 747.7,223.5 749.7,223.6 751.7,223.7 753.7,223.7 755.7,223.8 757.8,223.9 759.8,223.9 761.8,224.0 763.8,224.0 765.8,224.1 767.8,224.1 769.8,224.1 771.8,224.2 773.8,224.2 775.8,224.2 777.8,224.3 779.8,224.3 781.8,224.3 783.8,224.3 785.8,224.3 787.8,224.4 789.8,224.4 791.8,224.4 793.8,224.4 795.8,224.4 797.8,224.4 799.8,224.4 801.8,224.4 803.8,224.4 805.8,224.4 807.8,224.4 809.8,224.4 811.8,224.5 813.8,224.5 815.8,224.5 817.8,224.5 819.8,224.5 821.8,224.5 823.8,224.5 825.8,224.5 827.8,224.5 829.8,224.5 831.8,224.5 833.8,224.5 835.8,224.5 837.9,224.5 839.9,224.5 841.9,224.5 843.9,224.5 845.9,224.5 847.9,224.5 849.9,224.5 851.9,224.5 853.9,224.5 855.9,224.5 857.9,224.5 859.9,224.5 861.9,224.5 863.9,224.5 865.9,224.5 867.9,224.5 869.9,224.5 871.9,224.5 873.9,224.5 875.9,224.5 877.9,224.5 879.9,224.5 881.9,224.5 883.9,224.5 885.9,224.5 887.9,224.5 889.9,224.5 891.9,224.5 893.9,224.5 895.9,224.5 897.9,224.5 899.9,224.5 901.9,224.5 903.9,224.5 905.9,224.5 907.9,224.5 909.9,224.5 911.9,224.5 913.9,224.5 915.9,224.5 918.0,224.5 920.0,224.5 922.0,224.5 924.0,224.5 926.0,224.5 928.0,224.5 930.0,224.5 932.0,224.5 934.0,224.5 936.0,224.5 938.0,224.5 940.0,224.5 942.0,224.5 944.0,224.5 946.0,224.5 948.0,224.5 950.0,224.5 952.0,224.5 954.0,224.5 956.0,224.5 958.0,224.5"/>
<polyline points="151.0,207.2 153.0,207.2 155.0,207.2 157.0,207.2 159.0,207.2 161.0,207.2 163.0,207.2 165.0,207.2 167.0,207.2 169.0,207.2 171.0,207.2 173.0,207.2 175.0,207.2 177.0,207.2 179.0,207.2 181.0,207.2 183.0,207.2 185.0,207.2 187.0,207.2 189.0,207.2 191.0,207.2 193.1,207.2 195.1,207.2 197.1,207.2 199.1,207.2 201.1,207.2 203.1,207.2 205.1,207.2 207.1,207.2 209.1,207.2 211.1,207.2 213.1,207.2 215.1,207.2 217.1,207.2 219.1,207.2 221.1,207.2 223.1,207.2 225.1,207.2 227.1,207.2 229.1,207.2 231.1,207.2 233.1,207.2 235.1,207.2 237.1,207.2 239.1,207.2 241.1,207.2 243.1,207.2 245.1,207.2 247.1,207.2 249.1,207.2 251.1,207.2 253.1,207.2 255.1,207.2 257.1,207.2 259.1,207.2 261.1,207.2 263.1,207.2 265.1,207.3 267.1,207.3 269.1,207.3 271.1,207.3 273.2,207.3 275.2,207.3 277.2,207.3 279.2,207.3 281.2,207.3 283.2,207.3 285.2,207.3 287.2,207.3 289.2,207.3 291.2,207.3 293.2,207.3 295.2,207.3 297.2,207.3 299.2,207.3 301.2,207.3 303.2,207.3 305.2,207.3 307.2,207.4 309.2,207.4 311.2,207.4 313.2,207.4 315.2,207.4 317.2,207.4 319.2,207.4 321.2,207.4 323.2,207.4 325.2,207.4 327.2,207.4 329.2,207.4 331.2,207.5 333.2,207.5 335.2,207.5 337.2,207.5 339.2,207.5 341.2,207.5 343.2,207.5 345.2,207.5 347.2,207.5 349.2,207.5 351.2,207.5 353.3,207.5 355.3,207.5 357.3,207.5 359.3,207.5 361.3,207.5 363.3,207.5 365.3,207.4 367.3,207.4 369.3,207.4 371.3,207.4 373.3,207.4 375.3,207.3 377.3,207.3 379.3,207.2 381.3,207.2 383.3,207.1 385.3,207.1 387.3,207.0 389.3,207.0 391.3,206.9 393.3,206.8 395.3,206.7 397.3,206.6 399.3,206.5 401.3,206.4 403.3,206.3 405.3,206.2 407.3,206.1 409.3,206.0 411.3,205.8 413.3,205.7 415.3,205.5 417.3,205.4 419.3,205.2 421.3,205.0 423.3,204.8 425.3,204.6 427.3,204.5 429.3,204.3 431.3,204.1 433.3,203.9 435.4,203.6 437.4,203.4 439.4,203.2 441.4,203.0 443.4,202.8 445.4,202.6 447.4,202.4 449.4,202.2 451.4,202.0 453.4,201.8 455.4,201.6 457.4,201.4 459.4,201.3 461.4,201.1 463.4,200.9 465.4,200.8 467.4,200.7 469.4,200.6 471.4,200.5 473.4,200.4 475.4,200.3 477.4,200.3 479.4,200.3 481.4,200.3 483.4,200.3 485.4,200.3 487.4,200.4 489.4,200.4 491.4,200.5 493.4,200.6 495.4,200.8 497.4,200.9 499.4,201.1 501.4,201.2 503.4,201.5 505.4,201.7 507.4,201.9 509.4,202.2 511.4,202.4 513.4,202.7 515.5,203.0 517.5,203.3 519.5,203.6 521.5,203.9 523.5,204.3 525.5,204.6 527.5,205.0 529.5,205.3 531.5,205.7 533.5,206.1 535.5,206.4 537.5,206.8 539.5,207.2 541.5,207.5 543.5,207.9 545.5,208.3 547.5,208.6 549.5,209.0 551.5,209.4 553.5,209.7 555.5,210.1 557.5,210.4 559.5,210.7 561.5,211.0 563.5,211.4 565.5,211.7 567.5,212.0 569.5,212.2 571.5,212.5 573.5,212.8 575.5,213.1 577.5,213.3 579.5,213.5 581.5,213.8 583.5,214.0 585.5,214.2 587.5,214.4 589.5,214.6 591.5,214.8 593.5,215.0 595.6,215.1 597.6,215.3 599.6,215.4 601.6,215.6 603.6,215.7 605.6,215.9 607.6,216.0 609.6,216.1 611.6,216.2 613.6,216.3 615.6,216.4 617.6,216.5 619.6,216.6 621.6,216.7 623.6,216.8 625.6,216.9 627.6,217.0 629.6,217.1 631.6,217.2 633.6,217.2 635.6,217.3 637.6,217.4 639.6,217.5 641.6,217.5 643.6,217.6 645.6,217.7 647.6,217.8 649.6,217.8 651.6,217.9 653.6,218.0 655.6,218.1 657.6,218.2 659.6,218.3 661.6,218.3 663.6,218.4 665.6,218.5 667.6,218.6 669.6,218.7 671.6,218.8 673.6,218.9 675.7,219.1 677.7,219.2 679.7,219.3 681.7,219.4 683.7,219.5 685.7,219.7 687.7,219.8 689.7,219.9 691.7,220.1 693.7,220.2 695.7,220.3 697.7,220.5 699.7,220.6 701.7,220.8 703.7,220.9 705.7,221.1 707.7,221.2 709.7,221.3 711.7,221.5 713.7,221.6 715.7,221.8 717.7,221.9 719.7,222.0 721.7,222.2 723.7,222.3 725.7,222.4 727.7,222.5 729.7,222.7 731.7,222.8 733.7,222.9 735.7,223.0 737.7,223.1 739.7,223.2 741.7,223.3 743.7,223.4 745.7,223.4 747.7,223.5 749.7,223.6 751.7,223.7 753.7,223.7 755.7,223.8 757.8,223.9 759.8,223.9 761.8,224.0 763.8,224.0 765.8,224.1 767.8,224.1 769.8,224.1 771.8,224.2 773.8,224.2 775.8,224.2 777.8,224.3 779.8,224.3 781.8,224.3 783.8,224.3 785.8,224.3 787.8,224.4 789.8,224.4 791.8,224.4 793.8,224.4 795.8,224.4 797.8,224.4 799.8,224.4 801.8,224.4 803.8,224.4 805.8,224.4 807.8,224.4 809.8,224.4 811.8,224.5 813.8,224.5 815.8,224.5 817.8,224.5 819.8,224.5 821.8,224.5 823.8,224.5 825.8,224.5 827.8,224.5 829.8,224.5 831.8,224.5 833.8,224.5 835.8,224.5 837.9,224.5 839.9,224.5 841.9,224.5 843.9,224.5 845.9,224.5 847.9,224.5 849.9,224.5 851.9,224.5 853.9,224.5 855.9,224.5 857.9,224.5 859.9,224.5 861.9,224.5 863.9,224.5 865.9,224.5 867.9,224.5 869.9,224.5 871.9,224.5 873.9,224.5 875.9,224.5 877.9,224.5 879.9,224.5 881.9,224.5 883.9,224.5 885.9,224.5 887.9,224.5 889.9,224.5 891.9,224.5 893.9,224.5 895.9,224.5 897.9,224.5 899.9,224.5 901.9,224.5 903.9,224.5 905.9,224.5 907.9,224.5 909.9,224.5 911.9,224.5 913.9,224.5 915.9,224.5 918.0,224.5 920.0,224.5 922.0,224.5 924.0,224.5 926.0,224.5 928.0,224.5 930.0,224.5 932.0,224.5 934.0,224.5 936.0,224.5 938.0,224.5 940.0,224.5 942.0,224.5 944.0,224.5 946.0,224.5 948.0,224.5 950.0,224.5 952.0,224.5 954.0,224.5 956.0,224.5 958.0,224.5"/>
<polyline points="151.0,207.2 153.0,207.2 155.0,207.2 157.0,207.2 159.0,207.2 161.0,207.2 163.0,207.2 165.0,207.2 167.0,207.2 169.0,207.2 171.0,207.2 173.0,207.2 175.0,207.2 177.0,207.2 179.0,207.2 181.0,207.2 183.0,207.2 185.0,207.2 187.0,207.2 189.0,207.2 191.0,207.2 193.1,207.2 195.1,207.2 197.1,207.2 199.1,207.2 201.1,207.2 203.1,207.2 205.1,207.2 207.1,207.2 209.1,207.2 211.1,207.2 213.1,207.2 215.1,207.2 217.1,207.2 219.1,207.2 221.1,207.2 223.1,207.2 225.1,207.2 227.1,207.2 229.1,207.1 231.1,207.1 233.1,207.1 235.1,207.1 237.1,207.1 239.1,207.1 241.1,207.0 243.1,207.0 245.1,207.0 247.1,206.9 249.1,206.9 251.1,206.8 253.1,206.8 255.1,206.7 257.1,206.6 259.1,206.5 261.1,206.4 263.1,206.3 265.1,206.2 267.1,206.1 269.1,206.0 271.1,205.9 273.2,205.7 275.2,205.6 277.2,205.4 279.2,205.2 281.2,205.0 283.2,204.8 285.2,204.6 287.2,204.4 289.2,204.2 291.2,204.0 293.2,203.8 295.2,203.5 297.2,203.3 299.2,203.1 301.2,202.8 303.2,202.6 305.2,202.4 307.2,202.1 309.2,201.9 311.2,201.7 313.2,201.5 315.2,201.3 317.2,201.2 319.2,201.0 321.2,200.9 323.2,200.8 325.2,200.7 327.2,200.6 329.2,200.5 331.2,200.5 333.2,200.5 335.2,200.5 337.2,200.5 339.2,200.6 341.2,200.7 343.2,200.8 345.2,200.9 347.2,201.0 349.2,201.2 351.2,201.4 353.3,201.6 355.3,201.8 357.3,202.0 359.3,202.2 361.3,202.5 363.3,202.7 365.3,203.0 367.3,203.2 369.3,203.5 371.3,203.7 373.3,204.0 375.3,204.2 377.3,204.5 379.3,204.7 381.3,204.9 383.3,205.2 385.3,205.4 387.3,205.6 389.3,205.8 391.3,206.0 393.3,206.1 395.3,206.3 397.3,206.5 399.3,206.6 401.3,206.8 403.3,206.9 405.3,207.0 407.3,207.1 409.3,207.2 411.3,207.3 413.3,207.4 415.3,207.5 417.3,207.6 419.3,207.7 421.3,207.8 423.3,207.8 425.3,207.9 427.3,208.0 429.3,208.0 431.3,208.1 433.3,208.2 435.4,208.2 437.4,208.3 439.4,208.3 441.4,208.4 443.4,208.4 445.4,208.5 447.4,208.5 449.4,208.6 451.4,208.7 453.4,208.7 455.4,208.8 457.4,208.8 459.4,208.9 461.4,209.0 463.4,209.0 465.4,209.1 467.4,209.1 469.4,209.2 471.4,209.3 473.4,209.4 475.4,209.4 477.4,209.5 479.4,209.6 481.4,209.6 483.4,209.7 485.4,209.8 487.4,209.9 489.4,209.9 491.4,210.0 493.4,210.1 495.4,210.2 497.4,210.2 499.4,210.3 501.4,210.4 503.4,210.5 505.4,210.6 507.4,210.6 509.4,210.7 511.4,210.8 513.4,210.9 515.5,211.0 517.5,211.1 519.5,211.2 521.5,211.3 523.5,211.4 525.5,211.5 527.5,211.6 529.5,211.7 531.5,211.8 533.5,211.9 535.5,212.0 537.5,212.1 539.5,212.2 541.5,212.4 543.5,212.5 545.5,212.6 547.5,212.7 549.5,212.9 551.5,213.0 553.5,213.1 555.5,213.2 557.5,213.4 559.5,213.5 561.5,213.6 563.5,213.8 565.5,213.9 567.5,214.0 569.5,214.2 571.5,214.3 573.5,214.4 575.5,214.5 577.5,214.7 579.5,214.8 581.5,214.9 583.5,215.0 585.5,215.2 587.5,215.3 589.5,215.4 591.5,215.5 593.5,215.6 595.6,215.7 597.6,215.8 599.6,215.9 601.6,216.0 603.6,216.1 605.6,216.2 607.6,216.3 609.6,216.4 611.6,216.5 613.6,216.5 615.6,216.6 617.6,216.7 619.6,216.8 621.6,216.9 623.6,216.9 625.6,217.0 627.6,217.1 629.6,217.1 631.6,217.2 633.6,217.3 635.6,217.4 637.6,217.4 639.6,217.5 641.6,217.6 643.6,217.6 645.6,217.7 647.6,217.8 649.6,217.9 651.6,217.9 653.6,218.0 655.6,218.1 657.6,218.2 659.6,218.3 661.6,218.4 663.6,218.4 665.6,218.5 667.6,218.6 669.6,218.7 671.6,218.8 673.6,219.0 675.7,219.1 677.7,219.2 679.7,219.3 681.7,219.4 683.7,219.5 685.7,219.7 687.7,219.8 689.7,219.9 691.7,220.1 693.7,220.2 695.7,220.3 697.7,220.5 699.7,220.6 701.7,220.8 703.7,220.9 705.7,221.1 707.7,221.2 709.7,221.3 711.7,221.5 713.7,221.6 715.7,221.8 717.7,221.9 719.7,222.0 721.7,222.2 723.7,222.3 725.7,222.4 727.7,222.5 729.7,222.7 731.7,222.8 733.7,222.9 735.7,223.0 737.7,223.1 739.7,223.2 741.7,223.3 743.7,223.4 745.7,223.4 747.7,223.5 749.7,223.6 751.7,223.7 753.7,223.7 755.7,223.8 757.8,223.9 759.8,223.9 761.8,224.0 763.8,224.0 765.8,224.1 767.8,224.1 769.8,224.1 771.8,224.2 773.8,224.2 775.8,224.2 777.8,224.3 779.8,224.3 781.8,224.3 783.8,224.3 785.8,224.3 787.8,224.4 789.8,224.4 791.8,224.4 793.8,224.4 795.8,224.4 797.8,224.4 799.8,224.4 801.8,224.4 803.8,224.4 805.8,224.4 807.8,224.4 809.8,224.4 811.8,224.5 813.8,224.5 815.8,224.5 817.8,224.5 819.8,224.5 821.8,224.5 823.8,224.5 825.8,224.5 827.8,224.5 829.8,224.5 831.8,224.5 833.8,224.5 835.8,224.5 837.9,224.5 839.9,224.5 841.9,224.5 843.9,224.5 845.9,224.5 847.9,224.5 849.9,224.5 851.9,224.5 853.9,224.5 855.9,224.5 857.9,224.5 859.9,224.5 861.9,224.5 863.9,224.5 865.9,224.5 867.9,224.5 869.9,224.5 871.9,224.5 873.9,224.5 875.9,224.5 877.9,224.5 879.9,224.5 881.9,224.5 883.9,224.5 885.9,224.5 887.9,224.5 889.9,224.5 891.9,224.5 893.9,224.5 895.9,224.5 897.9,224.5 899.9,224.5 901.9,224.5 903.9,224.5 905.9,224.5 907.9,224.5 909.9,224.5 911.9,224.5 913.9,224.5 915.9,224.5 918.0,224.5 920.0,224.5 922.0,224.5 924.0,224.5 926.0,224.5 928.0,224.5 930.0,224.5 932.0,224.5 934.0,224.5 936.0,224.5 938.0,224.5 940.0,224.5 942.0,224.5 944.0,224.5 946.0,224.5 948.0,224.5 950.0,224.5 952.0,224.5 954.0,224.5 956.0,224.5 958.0,224.5"/>
<polyline points="100.5,205.3 103.6,206.9 108.3,197.5 113.8,203.8 117.7,205.3 122.3,208.1 127.0,205.0 131.7,208.4 135.6,211.9 140.3,204.5 145.0,205.3 149.7,208.4 153.6,211.6 158.3,205.3 163.0,212.3 167.7,206.9 171.6,203.8 176.2,197.5 180.9,195.9 185.6,204.5 190.3,204.5 195.0,209.2 198.9,202.2 203.6,213.9 208.3,210.0 213.8,213.1 217.7,199.8 223.1,201.4 227.0,205.3 231.7,197.5 237.2,205.3 243.4,201.9 248.9,203.8 253.9,202.5 258.6,205.3 263.3,202.5 268.0,204.5 273.4,204.5 277.0,205.5 281.2,201.4 285.9,201.4 290.6,200.6 295.3,202.2 300.0,205.3 303.9,192.8 308.6,193.1 314.0,197.5 318.0,197.5 321.9,201.4 326.6,202.2 331.2,205.3 335.2,199.8 339.8,197.5 344.5,199.1 349.2,197.5 353.9,194.7 358.6,196.7 363.3,198.3 368.0,200.6 372.7,196.2 376.6,198.3 380.5,195.2 385.2,199.1 389.8,191.2 394.5,179.5 400.0,187.3 404.7,188.9 408.6,185.3 413.3,187.2 418.0,189.5 421.9,184.0 426.6,179.4 431.2,179.4 435.9,182.5 440.6,177.8 445.3,174.7 450.0,177.8 453.9,185.6 457.8,176.2 462.5,176.2 467.2,176.2 470.3,171.6 475.0,166.1 479.7,165.0 485.2,165.3 489.8,163.8 494.5,153.6 499.2,156.7 503.9,153.6 509.4,148.9 513.3,143.4 518.0,137.2 521.9,141.1 526.6,134.8 531.2,132.5 535.2,128.6 538.3,120.0 541.4,110.6 545.3,108.3 549.7,114.5 554.4,111.4 559.1,115.3 563.8,113.0 568.4,116.1 573.1,116.1 577.0,111.4 581.7,115.3 586.4,121.6 590.3,131.7 595.0,133.3 599.7,135.6 604.4,140.3 609.1,152.0 613.8,150.5 618.4,151.2 622.3,158.3 627.0,157.5 631.7,164.5 636.4,161.4 640.3,159.1 645.0,162.2 648.9,157.5 653.6,156.7 659.1,156.7 663.0,144.2 667.7,142.7 672.3,141.9 676.2,128.6 680.2,130.2 684.8,123.9 688.8,122.3 695.0,111.4 698.9,116.1 702.8,112.2 706.5,113.0 710.6,120.6 717.7,128.5 722.4,125.3 729.6,138.0 735.9,141.9 740.6,146.7 745.4,160.1 750.1,164.9 754.9,177.5 762.8,187.0 767.5,194.9 773.9,206.0 780.2,215.5 784.9,209.2 791.3,221.8 796.0,214.7 802.3,220.3 810.3,221.0 816.6,217.9 822.9,226.6 830.8,222.6 840.3,217.9 842.6,225.5 848.5,227.2 855.5,224.0 862.2,224.7 868.2,222.1 874.2,223.8 880.2,218.7 885.3,217.0 890.4,222.1 895.5,228.9 901.5,223.8 909.2,222.1 916.1,223.8 923.7,227.2 931.4,222.9 935.7,223.8 941.7,228.1 949.4,225.5 957.9,224.7 963.1,230.6 968.2,220.4 972.5,224.7 977.6,221.2 984.4,224.7 991.3,228.9 1000.7,221.2 1004.9,232.3 1008.3,219.5"/>
<polyline points="221.0,351.1 223.0,351.1 225.0,351.1 227.0,351.1 229.0,351.1 231.0,351.1 233.0,351.1 235.0,351.1 237.0,351.1 239.0,351.1 241.0,351.1 243.0,351.1 245.0,351.1 247.0,351.1 249.0,351.1 251.0,351.1 253.0,351.1 255.0,351.1 257.0,351.1 259.1,351.1 261.1,351.1 263.1,351.1 265.1,351.1 267.1,351.1 269.1,351.1 271.1,351.1 273.1,351.1 275.1,351.1 277.1,351.1 279.1,351.1 281.1,351.1 283.1,351.1 285.1,351.1 287.1,351.1 289.1,351.1 291.1,351.1 293.1,351.1 295.1,351.1 297.1,351.1 299.1,351.1 301.1,351.1 303.1,351.1 305.1,351.1 307.1,351.1 309.1,351.1 311.1,351.1 313.1,351.1 315.1,351.1 317.1,351.1 319.1,351.1 321.1,351.1 323.1,351.1 325.1,351.1 327.1,351.1 329.1,351.1 331.1,351.1 333.1,351.1 335.2,351.1 337.2,351.1 339.2,351.1 341.2,351.1 343.2,351.1 345.2,351.1 347.2,351.1 349.2,351.1 351.2,351.2 353.2,351.2 355.2,351.2 357.2,351.2 359.2,351.2 361.2,351.2 363.2,351.2 365.2,351.2 367.2,351.2 369.2,351.2 371.2,351.2 373.2,351.2 375.2,351.2 377.2,351.2 379.2,351.2 381.2,351.2 383.2,351.2 385.2,351.2 387.2,351.2 389.2,351.2 391.2,351.2 393.2,351.2 395.2,351.2 397.2,351.2 399.2,351.2 401.2,351.2 403.2,351.2 405.2,351.2 407.2,351.2 409.3,351.2 411.3,351.2 413.3,351.2 415.3,351.3 417.3,351.3 419.3,351.3 421.3,351.3 423.3,351.3 425.3,351.3 427.3,351.3 429.3,351.3 431.3,351.3 433.3,351.3 435.3,351.3 437.3,351.3 439.3,351.3 441.3,351.3 443.3,351.3 445.3,351.3 447.3,351.3 449.3,351.3 451.3,351.3 453.3,351.4 455.3,351.4 457.3,351.4 459.3,351.4 461.3,351.4 463.3,351.4 465.3,351.4 467.3,351.4 469.3,351.4 471.3,351.5 473.3,351.5 475.3,351.5 477.3,351.5 479.3,351.5 481.3,351.5 483.3,351.5 485.4,351.6 487.4,351.6 489.4,351.6 491.4,351.6 493.4,351.6 495.4,351.6 497.4,351.7 499.4,351.7 501.4,351.7 503.4,351.7 505.4,351.7 507.4,351.8 509.4,351.8 511.4,351.8 513.4,351.9 515.4,351.9 517.4,351.9 519.4,352.0 521.4,352.0 523.4,352.0 525.4,352.1 527.4,352.1 529.4,352.1 531.4,352.2 533.4,352.2 535.4,352.3 537.4,352.3 539.4,352.4 541.4,352.4 543.4,352.5 545.4,352.5 547.4,352.6 549.4,352.7 551.4,352.7 553.4,352.8 555.4,352.8 557.4,352.9 559.5,353.0 561.5,353.0 563.5,353.1 565.5,353.2 567.5,353.3 569.5,353.3 571.5,353.4 573.5,353.5 575.5,353.5 577.5,353.6 579.5,353.7 581.5,353.7 583.5,353.8 585.5,353.9 587.5,353.9 589.5,354.0 591.5,354.1 593.5,354.1 595.5,354.2 597.5,354.3 599.5,354.3 601.5,354.4 603.5,354.4 605.5,354.5 607.5,354.5 609.5,354.6 611.5,354.6 613.5,354.7 615.5,354.7 617.5,354.8 619.5,354.8 621.5,354.8 623.5,354.9 625.5,354.9 627.5,354.9 629.5,355.0 631.5,355.0 633.5,355.0 635.6,355.1 637.6,355.1 639.6,355.1 641.6,355.2 643.6,355.2 645.6,355.2 647.6,355.3 649.6,355.3 651.6,355.3 653.6,355.3 655.6,355.4 657.6,355.4 659.6,355.4 661.6,355.5 663.6,355.5 665.6,355.5 667.6,355.6 669.6,355.6 671.6,355.6 673.6,355.7 675.6,355.7 677.6,355.8 679.6,355.8 681.6,355.9 683.6,355.9 685.6,356.0 687.6,356.0 689.6,356.1 691.6,356.1 693.6,356.2 695.6,356.3 697.6,356.3 699.6,356.4 701.6,356.5 703.6,356.6 705.6,356.6 707.6,356.7 709.7,356.8 711.7,356.9 713.7,357.0 715.7,357.0 717.7,357.1 719.7,357.2 721.7,357.3 723.7,357.4 725.7,357.5 727.7,357.6 729.7,357.6 731.7,357.7 733.7,357.8 735.7,357.9 737.7,358.0 739.7,358.1 741.7,358.1 743.7,358.2 745.7,358.3 747.7,358.4 749.7,358.4 751.7,358.5 753.7,358.6 755.7,358.6 757.7,358.7 759.7,358.7 761.7,358.8 763.7,358.8 765.7,358.9 767.7,358.9 769.7,358.9 771.7,359.0 773.7,359.0 775.7,359.0 777.7,359.0 779.7,359.1 781.7,359.1 783.7,359.1 785.8,359.1 787.8,359.1 789.8,359.1 791.8,359.2 793.8,359.2 795.8,359.2 797.8,359.2 799.8,359.2 801.8,359.2 803.8,359.2 805.8,359.2 807.8,359.2 809.8,359.2 811.8,359.2 813.8,359.2 815.8,359.2 817.8,359.2 819.8,359.2 821.8,359.2 823.8,359.2 825.8,359.2 827.8,359.2 829.8,359.3 831.8,359.3 833.8,359.3 835.8,359.3 837.8,359.3 839.8,359.3 841.8,359.3 843.8,359.3 845.8,359.3 847.8,359.3 849.8,359.3 851.8,359.3 853.8,359.3 855.8,359.3 857.8,359.3 859.9,359.3 861.9,359.3 863.9,359.3 865.9,359.3 867.9,359.3 869.9,359.3 871.9,359.3 873.9,359.3 875.9,359.3 877.9,359.3 879.9,359.3 881.9,359.3 883.9,359.3 885.9,359.3 887.9,359.3 889.9,359.3 891.9,359.3 893.9,359.3 895.9,359.3 897.9,359.3 899.9,359.3 901.9,359.3 903.9,359.3 905.9,359.3 907.9,359.3 909.9,359.3 911.9,359.3 913.9,359.3 915.9,359.3 917.9,359.3 919.9,359.3 921.9,359.3 923.9,359.3 925.9,359.3 927.9,359.3 929.9,359.3 931.9,359.3 933.9,359.3 936.0,359.3 938.0,359.3 940.0,359.3 942.0,359.3 944.0,359.3 946.0,359.3 948.0,359.3 950.0,359.3 952.0,359.3 954.0,359.3 956.0,359.3 958.0,359.3 960.0,359.3 962.0,359.3 964.0,359.3 966.0,359.3 968.0,359.3 970.0,359.3 972.0,359.3"/>
<polyline points="221.0,351.1 223.0,351.1 225.0,351.1 227.0,351.1 229.0,351.1 231.0,351.1 233.0,351.1 235.0,351.1 237.0,351.1 239.0,351.1 241.0,351.1 243.0,351.1 245.0,351.1 247.0,351.1 249.0,351.1 251.0,351.1 253.0,351.1 255.0,351.1 257.0,351.1 259.1,351.1 261.1,351.1 263.1,351.1 265.1,351.1 267.1,351.1 269.1,351.1 271.1,351.1 273.1,351.1 275.1,351.1 277.1,351.1 279.1,351.1 281.1,351.1 283.1,351.1 285.1,351.1 287.1,351.1 289.1,351.1 291.1,351.1 293.1,351.1 295.1,351.1 297.1,351.1 299.1,351.1 301.1,351.1 303.1,351.1 305.1,351.1 307.1,351.1 309.1,351.1 311.1,351.1 313.1,351.1 315.1,351.1 317.1,351.1 319.1,351.1 321.1,351.1 323.1,351.1 325.1,351.1 327.1,351.1 329.1,351.1 331.1,351.1 333.1,351.1 335.2,351.1 337.2,351.1 339.2,351.1 341.2,351.1 343.2,351.1 345.2,351.1 347.2,351.1 349.2,351.1 351.2,351.1 353.2,351.1 355.2,351.1 357.2,351.1 359.2,351.1 361.2,351.1 363.2,351.1 365.2,351.1 367.2,351.1 369.2,351.1 371.2,351.1 373.2,351.1 375.2,351.1 377.2,351.1 379.2,351.1 381.2,351.1 383.2,351.1 385.2,351.1 387.2,351.2 389.2,351.2 391.2,351.2 393.2,351.2 395.2,351.2 397.2,351.2 399.2,351.2 401.2,351.2 403.2,351.2 405.2,351.2 407.2,351.2 409.3,351.2 411.3,351.2 413.3,351.2 415.3,351.2 417.3,351.2 419.3,351.2 421.3,351.2 423.3,351.2 425.3,351.2 427.3,351.2 429.3,351.2 431.3,351.2 433.3,351.2 435.3,351.2 437.3,351.2 439.3,351.2 441.3,351.2 443.3,351.2 445.3,351.2 447.3,351.2 449.3,351.2 451.3,351.3 453.3,351.3 455.3,351.3 457.3,351.3 459.3,351.3 461.3,351.3 463.3,351.3 465.3,351.3 467.3,351.3 469.3,351.3 471.3,351.3 473.3,351.4 475.3,351.4 477.3,351.4 479.3,351.4 481.3,351.4 483.3,351.4 485.4,351.4 487.4,351.4 489.4,351.5 491.4,351.5 493.4,351.5 495.4,351.5 497.4,351.5 499.4,351.5 501.4,351.6 503.4,351.6 505.4,351.6 507.4,351.6 509.4,351.7 511.4,351.7 513.4,351.7 515.4,351.7 517.4,351.8 519.4,351.8 521.4,351.8 523.4,351.9 525.4,351.9 527.4,351.9 529.4,352.0 531.4,352.0 533.4,352.0 535.4,352.1 537.4,352.1 539.4,352.2 541.4,352.2 543.4,352.3 545.4,352.3 547.4,352.4 549.4,352.4 551.4,352.5 553.4,352.5 555.4,352.6 557.4,352.7 559.5,352.7 561.5,352.8 563.5,352.8 565.5,352.9 567.5,353.0 569.5,353.0 571.5,353.1 573.5,353.1 575.5,353.2 577.5,353.2 579.5,353.3 581.5,353.3 583.5,353.4 585.5,353.4 587.5,353.5 589.5,353.5 591.5,353.5 593.5,353.5 595.5,353.5 597.5,353.5 599.5,353.5 601.5,353.5 603.5,353.4 605.5,353.4 607.5,353.3 609.5,353.2 611.5,353.1 613.5,353.0 615.5,352.9 617.5,352.7 619.5,352.5 621.5,352.3 623.5,352.0 625.5,351.7 627.5,351.4 629.5,351.0 631.5,350.6 633.5,350.1 635.6,349.6 637.6,349.1 639.6,348.5 641.6,347.8 643.6,347.1 645.6,346.3 647.6,345.5 649.6,344.6 651.6,343.6 653.6,342.6 655.6,341.5 657.6,340.3 659.6,339.1 661.6,337.8 663.6,336.4 665.6,334.9 667.6,333.4 669.6,331.9 671.6,330.2 673.6,328.5 675.6,326.8 677.6,325.0 679.6,323.2 681.6,321.4 683.6,319.5 685.6,317.6 687.6,315.7 689.6,313.8 691.6,312.0 693.6,310.1 695.6,308.3 697.6,306.5 699.6,304.8 701.6,303.1 703.6,301.5 705.6,300.0 707.6,298.6 709.7,297.4 711.7,296.2 713.7,295.1 715.7,294.2 717.7,293.5 719.7,292.8 721.7,292.4 723.7,292.1 725.7,291.9 727.7,292.0 729.7,292.2 731.7,292.8 733.7,293.6 735.7,294.8 737.7,296.1 739.7,297.8 741.7,299.6 743.7,301.6 745.7,303.8 747.7,306.1 749.7,308.5 751.7,311.0 753.7,313.6 755.7,316.2 757.7,318.8 759.7,321.3 761.7,323.9 763.7,326.4 765.7,328.8 767.7,331.2 769.7,333.4 771.7,335.6 773.7,337.6 775.7,339.5 777.7,341.4 779.7,343.0 781.7,344.6 783.7,346.1 785.8,347.4 787.8,348.6 789.8,349.7 791.8,350.8 793.8,351.7 795.8,352.5 797.8,353.2 799.8,353.9 801.8,354.5 803.8,355.0 805.8,355.4 807.8,355.8 809.8,356.2 811.8,356.5 813.8,356.8 815.8,357.0 817.8,357.2 819.8,357.4 821.8,357.5 823.8,357.7 825.8,357.8 827.8,357.9 829.8,358.0 831.8,358.0 833.8,358.1 835.8,358.2 837.8,358.2 839.8,358.3 841.8,358.3 843.8,358.4 845.8,358.4 847.8,358.4 849.8,358.5 851.8,358.5 853.8,358.5 855.8,358.5 857.8,358.6 859.9,358.6 861.9,358.6 863.9,358.6 865.9,358.6 867.9,358.7 869.9,358.7 871.9,358.7 873.9,358.7 875.9,358.7 877.9,358.7 879.9,358.8 881.9,358.8 883.9,358.8 885.9,358.8 887.9,358.8 889.9,358.8 891.9,358.8 893.9,358.8 895.9,358.9 897.9,358.9 899.9,358.9 901.9,358.9 903.9,358.9 905.9,358.9 907.9,358.9 909.9,358.9 911.9,358.9 913.9,358.9 915.9,358.9 917.9,359.0 919.9,359.0 921.9,359.0 923.9,359.0 925.9,359.0 927.9,359.0 929.9,359.0 931.9,359.0 933.9,359.0 936.0,359.0 938.0,359.0 940.0,359.0 942.0,359.0 944.0,359.0 946.0,359.0 948.0,359.0 950.0,359.0 952.0,359.1 954.0,359.1 956.0,359.1 958.0,359.1 960.0,359.1 962.0,359.1 964.0,359.1 966.0,359.1 968.0,359.1 970.0,359.1 972.0,359.1"/>
<polyline points="221.0,351.1 223.0,351.1 225.0,351.1 227.0,351.1 229.0,351.1 231.0,351.1 233.0,351.1 235.0,351.1 237.0,351.1 239.0,351.1 241.0,351.1 243.0,351.1 245.0,351.1 247.0,351.1 249.0,351.1 251.0,351.1 253.0,351.1 255.0,351.1 257.0,351.1 259.1,351.1 261.1,351.1 263.1,351.1 265.1,351.1 267.1,351.1 269.1,351.1 271.1,351.1 273.1,351.1 275.1,351.1 277.1,351.1 279.1,351.0 281.1,351.0 283.1,351.0 285.1,351.0 287.1,351.0 289.1,351.0 291.1,351.0 293.1,351.0 295.1,351.0 297.1,351.0 299.1,351.0 301.1,351.0 303.1,351.0 305.1,351.0 307.1,351.0 309.1,351.0 311.1,351.0 313.1,351.0 315.1,351.0 317.1,351.0 319.1,351.0 321.1,351.0 323.1,351.0 325.1,351.0 327.1,351.0 329.1,351.0 331.1,351.0 333.1,351.0 335.2,351.0 337.2,351.0 339.2,351.1 341.2,351.1 343.2,351.1 345.2,351.1 347.2,351.1 349.2,351.1 351.2,351.1 353.2,351.1 355.2,351.1 357.2,351.1 359.2,351.1 361.2,351.1 363.2,351.1 365.2,351.1 367.2,351.1 369.2,351.1 371.2,351.1 373.2,351.1 375.2,351.1 377.2,351.1 379.2,351.1 381.2,351.1 383.2,351.1 385.2,351.1 387.2,351.1 389.2,351.1 391.2,351.1 393.2,351.1 395.2,351.1 397.2,351.1 399.2,351.1 401.2,351.1 403.2,351.1 405.2,351.1 407.2,351.1 409.3,351.1 411.3,351.1 413.3,351.1 415.3,351.1 417.3,351.1 419.3,351.1 421.3,351.1 423.3,351.0 425.3,351.0 427.3,351.0 429.3,351.0 431.3,351.0 433.3,351.0 435.3,351.0 437.3,351.0 439.3,351.0 441.3,350.9 443.3,350.9 445.3,350.9 447.3,350.9 449.3,350.8 451.3,350.8 453.3,350.7 455.3,350.7 457.3,350.6 459.3,350.5 461.3,350.4 463.3,350.3 465.3,350.2 467.3,350.1 469.3,349.9 471.3,349.7 473.3,349.5 475.3,349.3 477.3,349.0 479.3,348.7 481.3,348.4 483.3,348.0 485.4,347.6 487.4,347.2 489.4,346.7 491.4,346.2 493.4,345.6 495.4,344.9 497.4,344.2 499.4,343.5 501.4,342.6 503.4,341.8 505.4,340.8 507.4,339.8 509.4,338.8 511.4,337.7 513.4,336.5 515.4,335.2 517.4,333.9 519.4,332.6 521.4,331.2 523.4,329.8 525.4,328.3 527.4,326.8 529.4,325.3 531.4,323.7 533.4,322.2 535.4,320.6 537.4,319.1 539.4,317.6 541.4,316.1 543.4,314.7 545.4,313.3 547.4,311.9 549.4,310.7 551.4,309.5 553.4,308.4 555.4,307.5 557.4,306.6 559.5,305.9 561.5,305.3 563.5,304.8 565.5,304.5 567.5,304.3 569.5,304.2 571.5,304.3 573.5,304.6 575.5,305.1 577.5,305.7 579.5,306.4 581.5,307.3 583.5,308.4 585.5,309.6 587.5,310.9 589.5,312.3 591.5,313.7 593.5,315.3 595.5,316.9 597.5,318.6 599.5,320.4 601.5,322.1 603.5,323.9 605.5,325.6 607.5,327.4 609.5,329.1 611.5,330.8 613.5,332.5 615.5,334.1 617.5,335.7 619.5,337.2 621.5,338.6 623.5,340.0 625.5,341.3 627.5,342.5 629.5,343.7 631.5,344.8 633.5,345.8 635.6,346.7 637.6,347.6 639.6,348.4 641.6,349.1 643.6,349.8 645.6,350.4 647.6,351.0 649.6,351.5 651.6,352.0 653.6,352.4 655.6,352.8 657.6,353.1 659.6,353.4 661.6,353.7 663.6,353.9 665.6,354.2 667.6,354.4 669.6,354.5 671.6,354.7 673.6,354.8 675.6,355.0 677.6,355.1 679.6,355.2 681.6,355.3 683.6,355.4 685.6,355.5 687.6,355.6 689.6,355.7 691.6,355.8 693.6,355.9 695.6,356.0 697.6,356.1 699.6,356.2 701.6,356.2 703.6,356.3 705.6,356.4 707.6,356.5 709.7,356.6 711.7,356.7 713.7,356.8 715.7,356.8 717.7,356.9 719.7,357.0 721.7,357.1 723.7,357.2 725.7,357.3 727.7,357.4 729.7,357.5 731.7,357.6 733.7,357.7 735.7,357.8 737.7,357.8 739.7,357.9 741.7,358.0 743.7,358.1 745.7,358.2 747.7,358.2 749.7,358.3 751.7,358.4 753.7,358.4 755.7,358.5 757.7,358.6 759.7,358.6 761.7,358.7 763.7,358.7 765.7,358.8 767.7,358.8 769.7,358.8 771.7,358.9 773.7,358.9 775.7,358.9 777.7,359.0 779.7,359.0 781.7,359.0 783.7,359.0 785.8,359.0 787.8,359.1 789.8,359.1 791.8,359.1 793.8,359.1 795.8,359.1 797.8,359.1 799.8,359.1 801.8,359.1 803.8,359.1 805.8,359.1 807.8,359.1 809.8,359.2 811.8,359.2 813.8,359.2 815.8,359.2 817.8,359.2 819.8,359.2 821.8,359.2 823.8,359.2 825.8,359.2 827.8,359.2 829.8,359.2 831.8,359.2 833.8,359.2 835.8,359.2 837.8,359.2 839.8,359.2 841.8,359.2 843.8,359.2 845.8,359.2 847.8,359.2 849.8,359.2 851.8,359.2 853.8,359.2 855.8,359.2 857.8,359.2 859.9,359.2 861.9,359.2 863.9,359.2 865.9,359.2 867.9,359.2 869.9,359.2 871.9,359.2 873.9,359.2 875.9,359.2 877.9,359.2 879.9,359.2 881.9,359.2 883.9,359.2 885.9,359.2 887.9,359.2 889.9,359.2 891.9,359.2 893.9,359.2 895.9,359.2 897.9,359.2 899.9,359.2 901.9,359.2 903.9,359.2 905.9,359.3 907.9,359.3 909.9,359.3 911.9,359.3 913.9,359.3 915.9,359.3 917.9,359.3 919.9,359.3 921.9,359.3 923.9,359.3 925.9,359.3 927.9,359.3 929.9,359.3 931.9,359.3 933.9,359.3 936.0,359.3 938.0,359.3 940.0,359.3 942.0,359.3 944.0,359.3 946.0,359.3 948.0,359.3 950.0,359.3 952.0,359.3 954.0,359.3 956.0,359.3 958.0,359.3 960.0,359.3 962.0,359.3 964.0,359.3 966.0,359.3 968.0,359.3 970.0,359.3 972.0,359.3"/>
<polyline points="221.0,351.1 223.0,351.1 225.0,351.1 227.0,351.1 229.0,351.1 231.0,351.1 233.0,351.1 235.0,351.1 237.0,351.1 239.0,351.1 241.0,351.1 243.0,351.1 245.0,351.1 247.0,351.1 249.0,351.1 251.0,351.1 253.0,351.1 255.0,351.1 257.0,351.1 259.1,351.1 261.1,351.1 263.1,351.1 265.1,351.1 267.1,351.1 269.1,351.1 271.1,351.1 273.1,351.1 275.1,351.1 277.1,351.1 279.1,351.1 281.1,351.1 283.1,351.1 285.1,351.1 287.1,351.1 289.1,351.1 291.1,351.1 293.1,351.1 295.1,351.1 297.1,351.1 299.1,351.1 301.1,351.1 303.1,351.1 305.1,351.1 307.1,351.1 309.1,351.1 311.1,351.1 313.1,351.1 315.1,351.1 317.1,351.1 319.1,351.1 321.1,351.1 323.1,351.1 325.1,351.1 327.1,351.1 329.1,351.1 331.1,351.1 333.1,351.1 335.2,351.1 337.2,351.1 339.2,351.1 341.2,351.1 343.2,351.1 345.2,351.1 347.2,351.1 349.2,351.1 351.2,351.2 353.2,351.2 355.2,351.2 357.2,351.2 359.2,351.2 361.2,351.2 363.2,351.2 365.2,351.2 367.2,351.2 369.2,351.2 371.2,351.2 373.2,351.2 375.2,351.2 377.2,351.2 379.2,351.2 381.2,351.2 383.2,351.2 385.2,351.2 387.2,351.2 389.2,351.2 391.2,351.2 393.2,351.2 395.2,351.2 397.2,351.2 399.2,351.2 401.2,351.2 403.2,351.2 405.2,351.2 407.2,351.2 409.3,351.2 411.3,351.2 413.3,351.2 415.3,351.3 417.3,351.3 419.3,351.3 421.3,351.3 423.3,351.3 425.3,351.3 427.3,351.3 429.3,351.3 431.3,351.3 433.3,351.3 435.3,351.3 437.3,351.3 439.3,351.3 441.3,351.3 443.3,351.3 445.3,351.3 447.3,351.3 449.3,351.3 451.3,351.3 453.3,351.4 455.3,351.4 457.3,351.4 459.3,351.4 461.3,351.4 463.3,351.4 465.3,351.4 467.3,351.4 469.3,351.4 471.3,351.5 473.3,351.5 475.3,351.5 477.3,351.5 479.3,351.5 481.3,351.5 483.3,351.5 485.4,351.5 487.4,351.6 489.4,351.6 491.4,351.6 493.4,351.6 495.4,351.6 497.4,351.6 499.4,351.7 501.4,351.7 503.4,351.7 505.4,351.7 507.4,351.7 509.4,351.7 511.4,351.8 513.4,351.8 515.4,351.8 517.4,351.8 519.4,351.8 521.4,351.8 523.4,351.8 525.4,351.9 527.4,351.9 529.4,351.9 531.4,351.9 533.4,351.9 535.4,351.8 537.4,351.8 539.4,351.8 541.4,351.8 543.4,351.7 545.4,351.7 547.4,351.6 549.4,351.6 551.4,351.5 553.4,351.4 555.4,351.3 557.4,351.2 559.5,351.1 561.5,350.9 563.5,350.8 565.5,350.6 567.5,350.4 569.5,350.2 571.5,350.0 573.5,349.8 575.5,349.6 577.5,349.3 579.5,349.1 581.5,348.8 583.5,348.5 585.5,348.3 587.5,348.0 589.5,347.7 591.5,347.4 593.5,347.1 595.5,346.9 597.5,346.6 599.5,346.3 601.5,346.1 603.5,345.9 605.5,345.7 607.5,345.5 609.5,345.3 611.5,345.2 613.5,345.0 615.5,344.9 617.5,344.9 619.5,344.8 621.5,344.8 623.5,344.9 625.5,344.9 627.5,345.0 629.5,345.2 631.5,345.3 633.5,345.5 635.6,345.7 637.6,345.9 639.6,346.2 641.6,346.5 643.6,346.8 645.6,347.1 647.6,347.4 649.6,347.8 651.6,348.1 653.6,348.5 655.6,348.9 657.6,349.3 659.6,349.6 661.6,350.0 663.6,350.4 665.6,350.8 667.6,351.1 669.6,351.5 671.6,351.8 673.6,352.2 675.6,352.5 677.6,352.8 679.6,353.1 681.6,353.4 683.6,353.7 685.6,354.0 687.6,354.2 689.6,354.5 691.6,354.7 693.6,354.9 695.6,355.1 697.6,355.3 699.6,355.5 701.6,355.7 703.6,355.9 705.6,356.0 707.6,356.2 709.7,356.3 711.7,356.5 713.7,356.6 715.7,356.7 717.7,356.9 719.7,357.0 721.7,357.1 723.7,357.2 725.7,357.3 727.7,357.4 729.7,357.5 731.7,357.6 733.7,357.7 735.7,357.8 737.7,357.9 739.7,358.0 741.7,358.1 743.7,358.2 745.7,358.3 747.7,358.3 749.7,358.4 751.7,358.5 753.7,358.5 755.7,358.6 757.7,358.7 759.7,358.7 761.7,358.8 763.7,358.8 765.7,358.9 767.7,358.9 769.7,358.9 771.7,359.0 773.7,359.0 775.7,359.0 777.7,359.0 779.7,359.1 781.7,359.1 783.7,359.1 785.8,359.1 787.8,359.1 789.8,359.1 791.8,359.2 793.8,359.2 795.8,359.2 797.8,359.2 799.8,359.2 801.8,359.2 803.8,359.2 805.8,359.2 807.8,359.2 809.8,359.2 811.8,359.2 813.8,359.2 815.8,359.2 817.8,359.2 819.8,359.2 821.8,359.2 823.8,359.2 825.8,359.2 827.8,359.2 829.8,359.3 831.8,359.3 833.8,359.3 835.8,359.3 837.8,359.3 839.8,359.3 841.8,359.3 843.8,359.3 845.8,359.3 847.8,359.3 849.8,359.3 851.8,359.3 853.8,359.3 855.8,359.3 857.8,359.3 859.9,359.3 861.9,359.3 863.9,359.3 865.9,359.3 867.9,359.3 869.9,359.3 871.9,359.3 873.9,359.3 875.9,359.3 877.9,359.3 879.9,359.3 881.9,359.3 883.9,359.3 885.9,359.3 887.9,359.3 889.9,359.3 891.9,359.3 893.9,359.3 895.9,359.3 897.9,359.3 899.9,359.3 901.9,359.3 903.9,359.3 905.9,359.3 907.9,359.3 909.9,359.3 911.9,359.3 913.9,359.3 915.9,359.3 917.9,359.3 919.9,359.3 921.9,359.3 923.9,359.3 925.9,359.3 927.9,359.3 929.9,359.3 931.9,359.3 933.9,359.3 936.0,359.3 938.0,359.3 940.0,359.3 942.0,359.3 944.0,359.3 946.0,359.3 948.0,359.3 950.0,359.3 952.0,359.3 954.0,359.3 956.0,359.3 958.0,359.3 960.0,359.3 962.0,359.3 964.0,359.3 966.0,359.3 968.0,359.3 970.0,359.3 972.0,359.3"/>
<polyline points="221.0,351.1 223.0,351.1 225.0,351.1 227.0,351.1 229.0,351.1 231.0,351.1 233.0,351.1 235.0,351.1 237.0,351.1 239.0,351.1 241.0,351.1 243.0,351.1 245.0,351.1 247.0,351.1 249.0,351.1 251.0,351.1 253.0,351.1 255.0,351.1 257.0,351.1 259.1,351.1 261.1,351.1 263.1,351.1 265.1,351.1 267.1,351.1 269.1,351.1 271.1,351.1 273.1,351.1 275.1,351.1 277.1,351.1 279.1,351.1 281.1,351.1 283.1,351.1 285.1,351.1 287.1,351.1 289.1,351.1 291.1,351.1 293.1,351.1 295.1,351.1 297.1,351.1 299.1,351.1 301.1,351.1 303.1,351.1 305.1,351.1 307.1,351.1 309.1,351.1 311.1,351.1 313.1,351.1 315.1,351.1 317.1,351.1 319.1,351.1 321.1,351.1 323.1,351.1 325.1,351.1 327.1,351.1 329.1,351.1 331.1,351.1 333.1,351.1 335.2,351.1 337.2,351.1 339.2,351.1 341.2,351.1 343.2,351.1 345.2,351.1 347.2,351.1 349.2,351.1 351.2,351.1 353.2,351.1 355.2,351.1 357.2,351.1 359.2,351.1 361.2,351.1 363.2,351.1 365.2,351.1 367.2,351.1 369.2,351.1 371.2,351.1 373.2,351.1 375.2,351.1 377.2,351.1 379.2,351.1 381.2,351.1 383.2,351.0 385.2,351.0 387.2,351.0 389.2,350.9 391.2,350.9 393.2,350.8 395.2,350.8 397.2,350.7 399.2,350.7 401.2,350.6 403.2,350.5 405.2,350.4 407.2,350.3 409.3,350.2 411.3,350.1 413.3,349.9 415.3,349.8 417.3,349.6 419.3,349.4 421.3,349.3 423.3,349.1 425.3,348.9 427.3,348.7 429.3,348.5 431.3,348.2 433.3,348.0 435.3,347.8 437.3,347.6 439.3,347.3 441.3,347.1 443.3,346.9 445.3,346.6 447.3,346.4 449.3,346.2 451.3,346.0 453.3,345.8 455.3,345.6 457.3,345.5 459.3,345.3 461.3,345.2 463.3,345.1 465.3,345.0 467.3,345.0 469.3,345.0 471.3,345.0 473.3,345.0 475.3,345.0 477.3,345.1 479.3,345.2 481.3,345.3 483.3,345.4 485.4,345.6 487.4,345.7 489.4,345.9 491.4,346.1 493.4,346.4 495.4,346.6 497.4,346.8 499.4,347.1 501.4,347.3 503.4,347.6 505.4,347.9 507.4,348.1 509.4,348.4 511.4,348.6 513.4,348.9 515.4,349.1 517.4,349.4 519.4,349.6 521.4,349.9 523.4,350.1 525.4,350.3 527.4,350.5 529.4,350.7 531.4,350.9 533.4,351.1 535.4,351.3 537.4,351.4 539.4,351.6 541.4,351.7 543.4,351.9 545.4,352.0 547.4,352.1 549.4,352.2 551.4,352.4 553.4,352.5 555.4,352.6 557.4,352.7 559.5,352.8 561.5,352.9 563.5,353.0 565.5,353.1 567.5,353.2 569.5,353.2 571.5,353.3 573.5,353.4 575.5,353.5 577.5,353.6 579.5,353.6 581.5,353.7 583.5,353.8 585.5,353.9 587.5,353.9 589.5,354.0 591.5,354.1 593.5,354.1 595.5,354.2 597.5,354.3 599.5,354.3 601.5,354.4 603.5,354.4 605.5,354.5 607.5,354.5 609.5,354.6 611.5,354.6 613.5,354.7 615.5,354.7 617.5,354.8 619.5,354.8 621.5,354.8 623.5,354.9 625.5,354.9 627.5,354.9 629.5,355.0 631.5,355.0 633.5,355.0 635.6,355.1 637.6,355.1 639.6,355.1 641.6,355.2 643.6,355.2 645.6,355.2 647.6,355.3 649.6,355.3 651.6,355.3 653.6,355.3 655.6,355.4 657.6,355.4 659.6,355.4 661.6,355.5 663.6,355.5 665.6,355.5 667.6,355.6 669.6,355.6 671.6,355.6 673.6,355.7 675.6,355.7 677.6,355.8 679.6,355.8 681.6,355.9 683.6,355.9 685.6,356.0 687.6,356.0 689.6,356.1 691.6,356.1 693.6,356.2 695.6,356.3 697.6,356.3 699.6,356.4 701.6,356.5 703.6,356.6 705.6,356.6 707.6,356.7 709.7,356.8 711.7,356.9 713.7,357.0 715.7,357.0 717.7,357.1 719.7,357.2 721.7,357.3 723.7,357.4 725.7,357.5 727.7,357.6 729.7,357.6 731.7,357.7 733.7,357.8 735.7,357.9 737.7,358.0 739.7,358.1 741.7,358.1 743.7,358.2 745.7,358.3 747.7,358.4 749.7,358.4 751.7,358.5 753.7,358.6 755.7,358.6 757.7,358.7 759.7,358.7 761.7,358.8 763.7,358.8 765.7,358.9 767.7,358.9 769.7,358.9 771.7,359.0 773.7,359.0 775.7,359.0 777.7,359.0 779.7,359.1 781.7,359.1 783.7,359.1 785.8,359.1 787.8,359.1 789.8,359.1 791.8,359.2 793.8,359.2 795.8,359.2 797.8,359.2 799.8,359.2 801.8,359.2 803.8,359.2 805.8,359.2 807.8,359.2 809.8,359.2 811.8,359.2 813.8,359.2 815.8,359.2 817.8,359.2 819.8,359.2 821.8,359.2 823.8,359.2 825.8,359.2 827.8,359.2 829.8,359.3 831.8,359.3 833.8,359.3 835.8,359.3 837.8,359.3 839.8,359.3 841.8,359.3 843.8,359.3 845.8,359.3 847.8,359.3 849.8,359.3 851.8,359.3 853.8,359.3 855.8,359.3 857.8,359.3 859.9,359.3 861.9,359.3 863.9,359.3 865.9,359.3 867.9,359.3 869.9,359.3 871.9,359.3 873.9,359.3 875.9,359.3 877.9,359.3 879.9,359.3 881.9,359.3 883.9,359.3 885.9,359.3 887.9,359.3 889.9,359.3 891.9,359.3 893.9,359.3 895.9,359.3 897.9,359.3 899.9,359.3 901.9,359.3 903.9,359.3 905.9,359.3 907.9,359.3 909.9,359.3 911.9,359.3 913.9,359.3 915.9,359.3 917.9,359.3 919.9,359.3 921.9,359.3 923.9,359.3 925.9,359.3 927.9,359.3 929.9,359.3 931.9,359.3 933.9,359.3 936.0,359.3 938.0,359.3 940.0,359.3 942.0,359.3 944.0,359.3 946.0,359.3 948.0,359.3 950.0,359.3 952.0,359.3 954.0,359.3 956.0,359.3 958.0,359.3 960.0,359.3 962.0,359.3 964.0,359.3 966.0,359.3 968.0,359.3 970.0,359.3 972.0,359.3"/>
<polyline points="221.0,351.1 223.0,351.1 225.0,351.1 227.0,351.1 229.0,351.1 231.0,351.1 233.0,351.1 235.0,351.1 237.0,351.1 239.0,351.1 241.0,351.1 243.0,351.1 245.0,351.1 247.0,351.1 249.0,351.1 251.0,351.1 253.0,351.1 255.0,351.1 257.0,351.1 259.1,351.1 261.1,351.1 263.1,351.1 265.1,351.1 267.1,351.1 269.1,351.1 271.1,351.1 273.1,351.1 275.1,351.1 277.1,351.1 279.1,351.1 281.1,351.1 283.1,351.1 285.1,351.1 287.1,351.1 289.1,351.1 291.1,351.1 293.1,351.1 295.1,351.1 297.1,351.1 299.1,351.1 301.1,351.1 303.1,351.1 305.1,351.1 307.1,351.1 309.1,351.1 311.1,351.1 313.1,351.1 315.1,351.1 317.1,351.1 319.1,351.1 321.1,351.1 323.1,351.1 325.1,351.1 327.1,351.1 329.1,351.1 331.1,351.1 333.1,351.1 335.2,351.1 337.2,351.1 339.2,351.1 341.2,351.1 343.2,351.1 345.2,351.1 347.2,351.1 349.2,351.1 351.2,351.2 353.2,351.2 355.2,351.2 357.2,351.2 359.2,351.2 361.2,351.2 363.2,351.2 365.2,351.2 367.2,351.2 369.2,351.2 371.2,351.2 373.2,351.2 375.2,351.2 377.2,351.2 379.2,351.2 381.2,351.2 383.2,351.2 385.2,351.2 387.2,351.2 389.2,351.2 391.2,351.2 393.2,351.2 395.2,351.2 397.2,351.2 399.2,351.2 401.2,351.2 403.2,351.2 405.2,351.2 407.2,351.2 409.3,351.2 411.3,351.2 413.3,351.2 415.3,351.2 417.3,351.2 419.3,351.2 421.3,351.2 423.3,351.2 425.3,351.2 427.3,351.2 429.3,351.2 431.3,351.2 433.3,351.2 435.3,351.2 437.3,351.2 439.3,351.2 441.3,351.2 443.3,351.1 445.3,351.1 447.3,351.1 449.3,351.0 451.3,351.0 453.3,351.0 455.3,350.9 457.3,350.9 459.3,350.8 461.3,350.7 463.3,350.7 465.3,350.6 467.3,350.5 469.3,350.4 471.3,350.3 473.3,350.2 475.3,350.1 477.3,350.0 479.3,349.8 481.3,349.7 483.3,349.6 485.4,349.5 487.4,349.4 489.4,349.2 491.4,349.1 493.4,349.0 495.4,348.9 497.4,348.8 499.4,348.7 501.4,348.6 503.4,348.5 505.4,348.5 507.4,348.4 509.4,348.4 511.4,348.4 513.4,348.4 515.4,348.4 517.4,348.4 519.4,348.5 521.4,348.5 523.4,348.6 525.4,348.7 527.4,348.8 529.4,349.0 531.4,349.1 533.4,349.3 535.4,349.4 537.4,349.6 539.4,349.8 541.4,350.0 543.4,350.2 545.4,350.4 547.4,350.6 549.4,350.8 551.4,351.0 553.4,351.2 555.4,351.4 557.4,351.6 559.5,351.8 561.5,351.9 563.5,352.1 565.5,352.3 567.5,352.4 569.5,352.6 571.5,352.8 573.5,352.9 575.5,353.0 577.5,353.2 579.5,353.3 581.5,353.4 583.5,353.5 585.5,353.6 587.5,353.7 589.5,353.8 591.5,353.9 593.5,354.0 595.5,354.1 597.5,354.2 599.5,354.2 601.5,354.3 603.5,354.4 605.5,354.4 607.5,354.5 609.5,354.6 611.5,354.6 613.5,354.7 615.5,354.7 617.5,354.7 619.5,354.8 621.5,354.8 623.5,354.9 625.5,354.9 627.5,354.9 629.5,355.0 631.5,355.0 633.5,355.0 635.6,355.1 637.6,355.1 639.6,355.1 641.6,355.2 643.6,355.2 645.6,355.2 647.6,355.3 649.6,355.3 651.6,355.3 653.6,355.3 655.6,355.4 657.6,355.4 659.6,355.4 661.6,355.5 663.6,355.5 665.6,355.5 667.6,355.6 669.6,355.6 671.6,355.6 673.6,355.7 675.6,355.7 677.6,355.8 679.6,355.8 681.6,355.9 683.6,355.9 685.6,356.0 687.6,356.0 689.6,356.1 691.6,356.1 693.6,356.2 695.6,356.3 697.6,356.3 699.6,356.4 701.6,356.5 703.6,356.6 705.6,356.6 707.6,356.7 709.7,356.8 711.7,356.9 713.7,357.0 715.7,357.0 717.7,357.1 719.7,357.2 721.7,357.3 723.7,357.4 725.7,357.5 727.7,357.6 729.7,357.6 731.7,357.7 733.7,357.8 735.7,357.9 737.7,358.0 739.7,358.1 741.7,358.1 743.7,358.2 745.7,358.3 747.7,358.4 749.7,358.4 751.7,358.5 753.7,358.6 755.7,358.6 757.7,358.7 759.7,358.7 761.7,358.8 763.7,358.8 765.7,358.9 767.7,358.9 769.7,358.9 771.7,359.0 773.7,359.0 775.7,359.0 777.7,359.0 779.7,359.1 781.7,359.1 783.7,359.1 785.8,359.1 787.8,359.1 789.8,359.1 791.8,359.2 793.8,359.2 795.8,359.2 797.8,359.2 799.8,359.2 801.8,359.2 803.8,359.2 805.8,359.2 807.8,359.2 809.8,359.2 811.8,359.2 813.8,359.2 815.8,359.2 817.8,359.2 819.8,359.2 821.8,359.2 823.8,359.2 825.8,359.2 827.8,359.2 829.8,359.3 831.8,359.3 833.8,359.3 835.8,359.3 837.8,359.3 839.8,359.3 841.8,359.3 843.8,359.3 845.8,359.3 847.8,359.3 849.8,359.3 851.8,359.3 853.8,359.3 855.8,359.3 857.8,359.3 859.9,359.3 861.9,359.3 863.9,359.3 865.9,359.3 867.9,359.3 869.9,359.3 871.9,359.3 873.9,359.3 875.9,359.3 877.9,359.3 879.9,359.3 881.9,359.3 883.9,359.3 885.9,359.3 887.9,359.3 889.9,359.3 891.9,359.3 893.9,359.3 895.9,359.3 897.9,359.3 899.9,359.3 901.9,359.3 903.9,359.3 905.9,359.3 907.9,359.3 909.9,359.3 911.9,359.3 913.9,359.3 915.9,359.3 917.9,359.3 919.9,359.3 921.9,359.3 923.9,359.3 925.9,359.3 927.9,359.3 929.9,359.3 931.9,359.3 933.9,359.3 936.0,359.3 938.0,359.3 940.0,359.3 942.0,359.3 944.0,359.3 946.0,359.3 948.0,359.3 950.0,359.3 952.0,359.3 954.0,359.3 956.0,359.3 958.0,359.3 960.0,359.3 962.0,359.3 964.0,359.3 966.0,359.3 968.0,359.3 970.0,359.3 972.0,359.3"/>
<polyline points="221.0,351.1 223.0,351.1 225.0,351.1 227.0,351.1 229.0,351.1 231.0,351.1 233.0,351.1 235.0,351.1 237.0,351.1 239.0,351.1 241.0,351.1 243.0,351.1 245.0,351.1 247.0,351.1 249.0,351.1 251.0,351.1 253.0,351.1 255.0,351.1 257.0,351.1 259.1,351.1 261.1,351.1 263.1,351.1 265.1,351.1 267.1,351.1 269.1,351.1 271.1,351.1 273.1,351.1 275.1,351.1 277.1,351.1 279.1,351.0 281.1,351.0 283.1,351.0 285.1,351.0 287.1,351.0 289.1,351.0 291.1,351.0 293.1,350.9 295.1,350.9 297.1,350.9 299.1,350.8 301.1,350.8 303.1,350.7 305.1,350.7 307.1,350.6 309.1,350.6 311.1,350.5 313.1,350.4 315.1,350.4 317.1,350.3 319.1,350.2 321.1,350.1 323.1,350.0 325.1,349.9 327.1,349.8 329.1,349.8 331.1,349.7 333.1,349.6 335.2,349.5 337.2,349.4 339.2,349.3 341.2,349.2 343.2,349.1 345.2,349.0 347.2,348.9 349.2,348.9 351.2,348.8 353.2,348.8 355.2,348.7 357.2,348.7 359.2,348.7 361.2,348.7 363.2,348.7 365.2,348.7 367.2,348.7 369.2,348.8 371.2,348.8 373.2,348.9 375.2,348.9 377.2,349.0 379.2,349.1 381.2,349.2 383.2,349.3 385.2,349.4 387.2,349.5 389.2,349.6 391.2,349.7 393.2,349.8 395.2,349.9 397.2,350.0 399.2,350.1 401.2,350.2 403.2,350.3 405.2,350.4 407.2,350.4 409.3,350.5 411.3,350.6 413.3,350.7 415.3,350.7 417.3,350.8 419.3,350.9 421.3,350.9 423.3,351.0 425.3,351.0 427.3,351.0 429.3,351.1 431.3,351.1 433.3,351.1 435.3,351.2 437.3,351.2 439.3,351.2 441.3,351.2 443.3,351.3 445.3,351.3 447.3,351.3 449.3,351.3 451.3,351.3 453.3,351.3 455.3,351.3 457.3,351.4 459.3,351.4 461.3,351.4 463.3,351.4 465.3,351.4 467.3,351.4 469.3,351.4 471.3,351.4 473.3,351.5 475.3,351.5 477.3,351.5 479.3,351.5 481.3,351.5 483.3,351.5 485.4,351.6 487.4,351.6 489.4,351.6 491.4,351.6 493.4,351.6 495.4,351.6 497.4,351.7 499.4,351.7 501.4,351.7 503.4,351.7 505.4,351.7 507.4,351.8 509.4,351.8 511.4,351.8 513.4,351.9 515.4,351.9 517.4,351.9 519.4,352.0 521.4,352.0 523.4,352.0 525.4,352.1 527.4,352.1 529.4,352.1 531.4,352.2 533.4,352.2 535.4,352.3 537.4,352.3 539.4,352.4 541.4,352.4 543.4,352.5 545.4,352.5 547.4,352.6 549.4,352.7 551.4,352.7 553.4,352.8 555.4,352.8 557.4,352.9 559.5,353.0 561.5,353.0 563.5,353.1 565.5,353.2 567.5,353.3 569.5,353.3 571.5,353.4 573.5,353.5 575.5,353.5 577.5,353.6 579.5,353.7 581.5,353.7 583.5,353.8 585.5,353.9 587.5,353.9 589.5,354.0 591.5,354.1 593.5,354.1 595.5,354.2 597.5,354.3 599.5,354.3 601.5,354.4 603.5,354.4 605.5,354.5 607.5,354.5 609.5,354.6 611.5,354.6 613.5,354.7 615.5,354.7 617.5,354.8 619.5,354.8 621.5,354.8 623.5,354.9 625.5,354.9 627.5,354.9 629.5,355.0 631.5,355.0 633.5,355.0 635.6,355.1 637.6,355.1 639.6,355.1 641.6,355.2 643.6,355.2 645.6,355.2 647.6,355.3 649.6,355.3 651.6,355.3 653.6,355.3 655.6,355.4 657.6,355.4 659.6,355.4 661.6,355.5 663.6,355.5 665.6,355.5 667.6,355.6 669.6,355.6 671.6,355.6 673.6,355.7 675.6,355.7 677.6,355.8 679.6,355.8 681.6,355.9 683.6,355.9 685.6,356.0 687.6,356.0 689.6,356.1 691.6,356.1 693.6,356.2 695.6,356.3 697.6,356.3 699.6,356.4 701.6,356.5 703.6,356.6 705.6,356.6 707.6,356.7 709.7,356.8 711.7,356.9 713.7,357.0 715.7,357.0 717.7,357.1 719.7,357.2 721.7,357.3 723.7,357.4 725.7,357.5 727.7,357.6 729.7,357.6 731.7,357.7 733.7,357.8 735.7,357.9 737.7,358.0 739.7,358.1 741.7,358.1 743.7,358.2 745.7,358.3 747.7,358.4 749.7,358.4 751.7,358.5 753.7,358.6 755.7,358.6 757.7,358.7 759.7,358.7 761.7,358.8 763.7,358.8 765.7,358.9 767.7,358.9 769.7,358.9 771.7,359.0 773.7,359.0 775.7,359.0 777.7,359.0 779.7,359.1 781.7,359.1 783.7,359.1 785.8,359.1 787.8,359.1 789.8,359.1 791.8,359.2 793.8,359.2 795.8,359.2 797.8,359.2 799.8,359.2 801.8,359.2 803.8,359.2 805.8,359.2 807.8,359.2 809.8,359.2 811.8,359.2 813.8,359.2 815.8,359.2 817.8,359.2 819.8,359.2 821.8,359.2 823.8,359.2 825.8,359.2 827.8,359.2 829.8,359.3 831.8,359.3 833.8,359.3 835.8,359.3 837.8,359.3 839.8,359.3 841.8,359.3 843.8,359.3 845.8,359.3 847.8,359.3 849.8,359.3 851.8,359.3 853.8,359.3 855.8,359.3 857.8,359.3 859.9,359.3 861.9,359.3 863.9,359.3 865.9,359.3 867.9,359.3 869.9,359.3 871.9,359.3 873.9,359.3 875.9,359.3 877.9,359.3 879.9,359.3 881.9,359.3 883.9,359.3 885.9,359.3 887.9,359.3 889.9,359.3 891.9,359.3 893.9,359.3 895.9,359.3 897.9,359.3 899.9,359.3 901.9,359.3 903.9,359.3 905.9,359.3 907.9,359.3 909.9,359.3 911.9,359.3 913.9,359.3 915.9,359.3 917.9,359.3 919.9,359.3 921.9,359.3 923.9,359.3 925.9,359.3 927.9,359.3 929.9,359.3 931.9,359.3 933.9,359.3 936.0,359.3 938.0,359.3 940.0,359.3 942.0,359.3 944.0,359.3 946.0,359.3 948.0,359.3 950.0,359.3 952.0,359.3 954.0,359.3 956.0,359.3 958.0,359.3 960.0,359.3 962.0,359.3 964.0,359.3 966.0,359.3 968.0,359.3 970.0,359.3 972.0,359.3"/>
<polyline points="100.5,355.0 105.2,349.5 109.8,351.1 114.5,351.6 118.4,355.3 123.1,345.6 127.8,344.8 132.5,349.5 137.2,355.3 141.9,352.7 146.6,350.3 151.2,350.0 155.9,349.5 160.6,347.2 165.3,349.1 169.2,349.5 173.9,352.7 178.6,348.0 183.3,350.0 188.0,351.9 191.9,353.4 196.6,351.9 201.2,348.8 205.9,352.7 210.6,349.5 214.5,345.6 219.2,358.1 223.1,351.9 227.8,352.7 232.5,348.0 237.2,349.5 241.9,353.1 246.6,352.7 251.2,351.9 255.5,354.7 260.0,352.5 264.8,349.4 270.3,351.2 278.1,354.7 283.6,351.2 290.6,349.4 296.9,348.9 303.1,349.4 309.4,353.6 314.0,347.3 318.8,348.9 323.4,345.8 328.1,348.1 332.8,348.9 336.7,344.7 342.2,346.2 346.9,345.8 351.6,346.6 356.2,345.0 362.5,348.9 368.8,354.4 373.4,348.1 378.1,340.3 382.8,341.9 385.9,345.8 391.4,338.0 396.1,341.9 400.0,345.0 406.2,345.8 410.5,348.0 414.4,339.1 419.8,341.7 425.3,346.4 429.2,345.6 433.1,343.3 437.8,346.4 442.5,345.6 446.5,345.6 450.3,341.7 455.0,334.7 459.7,339.4 464.4,342.5 469.1,334.7 473.8,338.6 477.7,340.2 482.3,333.9 487.0,340.2 490.9,337.8 495.6,341.7 499.5,329.2 503.4,326.9 509.7,322.2 515.2,323.8 519.8,317.2 525.3,321.9 529.2,320.9 533.9,307.3 537.8,305.0 544.1,311.2 547.2,311.2 551.1,305.0 555.8,302.7 559.7,299.5 564.5,300.0 569.2,284.7 573.9,309.4 577.8,300.0 582.5,300.0 588.0,295.0 591.9,296.1 595.8,300.8 601.2,302.8 605.2,310.9 609.1,317.2 613.8,321.9 618.4,322.7 623.9,322.7 628.6,325.0 633.3,324.2 638.8,328.1 643.4,332.8 646.6,337.5 649.7,334.4 654.4,331.2 659.8,327.3 665.3,323.8 670.0,325.3 674.7,324.2 678.6,313.3 682.5,318.0 685.6,314.8 690.3,313.3 695.0,308.6 698.9,304.7 702.8,301.6 705.6,299.2 710.3,300.8 715.0,295.3 718.9,286.7 723.6,295.3 728.3,291.4 733.0,292.2 737.7,298.4 741.6,296.9 745.5,304.7 750.2,308.6 754.8,316.4 760.3,323.4 765.0,325.0 769.7,334.4 775.2,339.8 780.6,343.8 786.1,346.9 790.8,350.0 797.8,355.5 803.3,356.2 809.0,356.2 813.0,367.0 819.7,356.2 825.9,357.0 830.6,355.5 836.9,354.7 842.3,354.7 845.0,355.8 851.6,359.9 858.0,359.0 866.6,359.9 874.0,361.6 879.9,360.7 883.2,364.9 887.3,355.8 893.1,359.9 901.4,364.0 909.7,357.4 914.7,360.7 919.7,354.9 926.3,359.9 933.0,364.5 942.1,352.4 949.6,361.6 957.9,355.8 966.2,359.1 972.8,359.9 977.8,365.7 983.6,354.9 989.4,354.9 995.2,356.6 1001.0,361.6 1008.5,354.9"/>
<polyline points="192.0,484.2 194.0,484.2 196.0,484.2 198.0,484.2 200.0,484.2 202.0,484.2 204.0,484.2 206.0,484.2 208.0,484.2 210.0,484.2 212.0,484.2 214.0,484.2 216.0,484.2 218.0,484.2 220.0,484.2 222.0,484.2 224.0,484.2 226.0,484.2 228.0,484.2 230.0,484.2 232.0,484.2 234.0,484.2 236.0,484.2 238.0,484.2 240.0,484.2 242.0,484.2 244.0,484.2 246.0,484.2 248.0,484.2 250.0,484.2 252.0,484.2 254.0,484.2 256.0,484.2 258.0,484.2 260.0,484.2 262.0,484.2 264.0,484.2 266.0,484.2 268.0,484.2 270.0,484.2 272.0,484.2 274.0,484.2 276.0,484.2 278.0,484.2 280.0,484.2 282.0,484.2 284.0,484.2 286.0,484.2 288.0,484.2 290.0,484.2 292.0,484.2 294.0,484.2 296.0,484.2 298.0,484.2 300.0,484.2 302.0,484.2 304.0,484.2 306.0,484.2 308.0,484.2 310.0,484.2 312.0,484.2 314.0,484.2 316.0,484.2 318.0,484.2 320.0,484.2 322.0,484.2 324.0,484.2 326.0,484.2 328.0,484.2 330.0,484.2 332.0,484.2 334.0,484.2 336.0,484.2 338.0,484.2 340.0,484.3 342.0,484.3 344.0,484.3 346.0,484.3 348.0,484.3 350.0,484.3 352.0,484.3 354.0,484.3 356.0,484.3 358.0,484.3 360.0,484.3 362.0,484.3 364.0,484.3 366.0,484.3 368.0,484.3 370.0,484.3 372.0,484.3 374.0,484.3 376.0,484.4 378.0,484.4 380.0,484.4 382.0,484.4 384.0,484.4 386.0,484.4 388.0,484.4 390.0,484.4 392.0,484.4 394.0,484.4 396.0,484.4 398.0,484.4 400.0,484.4 402.0,484.4 404.0,484.4 406.0,484.4 408.0,484.4 410.0,484.4 412.0,484.4 414.0,484.4 416.0,484.4 418.0,484.4 420.0,484.5 422.0,484.5 424.0,484.5 426.0,484.5 428.0,484.5 430.0,484.5 432.0,484.5 434.0,484.5 436.0,484.5 438.0,484.5 440.0,484.5 442.0,484.5 444.0,484.5 446.0,484.6 448.0,484.6 450.0,484.6 452.0,484.6 454.0,484.6 456.0,484.6 458.0,484.6 460.0,484.6 462.0,484.6 464.0,484.7 466.0,484.7 468.0,484.7 470.0,484.7 472.0,484.7 474.0,484.7 476.0,484.8 478.0,484.8 480.0,484.8 482.0,484.8 484.0,484.8 486.0,484.9 488.0,484.9 490.0,484.9 492.0,484.9 494.0,484.9 496.0,485.0 498.0,485.0 500.0,485.0 502.0,485.0 504.0,485.1 506.0,485.1 508.0,485.1 510.0,485.2 512.0,485.2 514.0,485.2 516.0,485.3 518.0,485.3 520.0,485.3 522.0,485.4 524.0,485.4 526.0,485.4 528.0,485.5 530.0,485.5 532.0,485.6 534.0,485.6 536.0,485.7 538.0,485.7 540.0,485.8 542.0,485.8 544.0,485.9 546.0,485.9 548.0,486.0 550.0,486.0 552.0,486.1 554.0,486.2 556.0,486.2 558.0,486.3 560.0,486.4 562.0,486.4 564.0,486.5 566.0,486.6 568.0,486.6 570.0,486.7 572.0,486.8 574.0,486.8 576.0,486.9 578.0,487.0 580.0,487.0 582.0,487.1 584.0,487.2 586.0,487.2 588.0,487.3 590.0,487.4 592.0,487.4 594.0,487.5 596.0,487.6 598.0,487.6 600.0,487.7 602.0,487.7 604.0,487.8 606.0,487.8 608.0,487.9 610.0,487.9 612.0,488.0 614.0,488.0 616.0,488.1 618.0,488.1 620.0,488.2 622.0,488.2 624.0,488.2 626.0,488.3 628.0,488.3 630.0,488.4 632.0,488.4 634.0,488.4 636.0,488.5 638.0,488.5 640.0,488.5 642.0,488.6 644.0,488.6 646.0,488.6 648.0,488.7 650.0,488.7 652.0,488.7 654.0,488.8 656.0,488.8 658.0,488.8 660.0,488.9 662.0,488.9 664.0,489.0 666.0,489.0 668.0,489.0 670.0,489.1 672.0,489.1 674.0,489.2 676.0,489.2 678.0,489.3 680.0,489.3 682.0,489.4 684.0,489.4 686.0,489.5 688.0,489.5 690.0,489.6 692.0,489.7 694.0,489.7 696.0,489.8 698.0,489.9 700.0,489.9 702.0,490.0 704.0,490.1 706.0,490.2 708.0,490.2 710.0,490.3 712.0,490.4 714.0,490.5 716.0,490.6 718.0,490.6 720.0,490.7 722.0,490.8 724.0,490.9 726.0,491.0 728.0,491.0 730.0,491.1 732.0,491.2 734.0,491.3 736.0,491.4 738.0,491.4 740.0,491.5 742.0,491.6 744.0,491.7 746.0,491.7 748.0,491.8 750.0,491.9 752.0,491.9 754.0,492.0 756.0,492.0 758.0,492.1 760.0,492.1 762.0,492.2 764.0,492.2 766.0,492.2 768.0,492.3 770.0,492.3 772.0,492.3 774.0,492.4 776.0,492.4 778.0,492.4 780.0,492.4 782.0,492.5 784.0,492.5 786.0,492.5 788.0,492.5 790.0,492.5 792.0,492.5 794.0,492.5 796.0,492.5 798.0,492.5 800.0,492.5 802.0,492.5 804.0,492.6 806.0,492.6 808.0,492.6 810.0,492.6 812.0,492.6 814.0,492.6 816.0,492.6 818.0,492.6 820.0,492.6 822.0,492.6 824.0,492.6 826.0,492.6 828.0,492.6 830.0,492.6 832.0,492.6 834.0,492.6 836.0,492.6 838.0,492.6 840.0,492.6 842.0,492.6 844.0,492.6 846.0,492.6 848.0,492.6 850.0,492.6 852.0,492.6 854.0,492.6 856.0,492.6 858.0,492.6 860.0,492.6 862.0,492.6 864.0,492.6 866.0,492.6 868.0,492.6 870.0,492.6 872.0,492.6 874.0,492.6 876.0,492.6 878.0,492.6 880.0,492.6 882.0,492.6 884.0,492.6 886.0,492.6 888.0,492.6 890.0,492.6 892.0,492.6 894.0,492.6 896.0,492.6 898.0,492.6 900.0,492.6 902.0,492.6 904.0,492.6 906.0,492.6 908.0,492.6 910.0,492.6 912.0,492.6 914.0,492.6 916.0,492.6 918.0,492.6 920.0,492.6 922.0,492.6 924.0,492.6 926.0,492.6 928.0,492.6 930.0,492.6 932.0,492.6 934.0,492.6 936.0,492.6 938.0,492.6 940.0,492.6 942.0,492.6 944.0,492.6 946.0,492.6 948.0,492.6 950.0,492.6 952.0,492.6 954.0,492.6 956.0,492.6 958.0,492.6 960.0,492.6"/>
<polyline points="192.0,484.2 194.0,484.2 196.0,484.2 198.0,484.2 200.0,484.2 202.0,484.2 204.0,484.2 206.0,484.2 208.0,484.2 210.0,484.2 212.0,484.2 214.0,484.2 216.0,484.2 218.0,484.2 220.0,484.2 222.0,484.2 224.0,484.2 226.0,484.2 228.0,484.2 230.0,484.2 232.0,484.2 234.0,484.2 236.0,484.2 238.0,484.2 240.0,484.2 242.0,484.2 244.0,484.2 246.0,484.2 248.0,484.2 250.0,484.2 252.0,484.2 254.0,484.2 256.0,484.2 258.0,484.2 260.0,484.2 262.0,484.2 264.0,484.2 266.0,484.2 268.0,484.2 270.0,484.2 272.0,484.2 274.0,484.2 276.0,484.2 278.0,484.2 280.0,484.2 282.0,484.2 284.0,484.2 286.0,484.2 288.0,484.2 290.0,484.2 292.0,484.2 294.0,484.2 296.0,484.2 298.0,484.2 300.0,484.2 302.0,484.2 304.0,484.2 306.0,484.2 308.0,484.2 310.0,484.2 312.0,484.2 314.0,484.2 316.0,484.2 318.0,484.2 320.0,484.2 322.0,484.2 324.0,484.2 326.0,484.2 328.0,484.2 330.0,484.2 332.0,484.2 334.0,484.2 336.0,484.2 338.0,484.2 340.0,484.3 342.0,484.3 344.0,484.3 346.0,484.3 348.0,484.3 350.0,484.3 352.0,484.3 354.0,484.3 356.0,484.3 358.0,484.3 360.0,484.3 362.0,484.3 364.0,484.3 366.0,484.3 368.0,484.3 370.0,484.3 372.0,484.3 374.0,484.3 376.0,484.4 378.0,484.4 380.0,484.4 382.0,484.4 384.0,484.4 386.0,484.4 388.0,484.4 390.0,484.4 392.0,484.4 394.0,484.4 396.0,484.4 398.0,484.4 400.0,484.4 402.0,484.4 404.0,484.4 406.0,484.4 408.0,484.4 410.0,484.4 412.0,484.4 414.0,484.4 416.0,484.4 418.0,484.4 420.0,484.5 422.0,484.5 424.0,484.5 426.0,484.5 428.0,484.5 430.0,484.5 432.0,484.5 434.0,484.5 436.0,484.5 438.0,484.5 440.0,484.5 442.0,484.5 444.0,484.5 446.0,484.6 448.0,484.6 450.0,484.6 452.0,484.6 454.0,484.6 456.0,484.6 458.0,484.6 460.0,484.6 462.0,484.6 464.0,484.7 466.0,484.7 468.0,484.7 470.0,484.7 472.0,484.7 474.0,484.7 476.0,484.8 478.0,484.8 480.0,484.8 482.0,484.8 484.0,484.8 486.0,484.9 488.0,484.9 490.0,484.9 492.0,484.9 494.0,484.9 496.0,485.0 498.0,485.0 500.0,485.0 502.0,485.0 504.0,485.1 506.0,485.1 508.0,485.1 510.0,485.2 512.0,485.2 514.0,485.2 516.0,485.2 518.0,485.3 520.0,485.3 522.0,485.4 524.0,485.4 526.0,485.4 528.0,485.5 530.0,485.5 532.0,485.6 534.0,485.6 536.0,485.7 538.0,485.7 540.0,485.8 542.0,485.8 544.0,485.9 546.0,485.9 548.0,486.0 550.0,486.0 552.0,486.1 554.0,486.1 556.0,486.2 558.0,486.3 560.0,486.3 562.0,486.4 564.0,486.4 566.0,486.5 568.0,486.5 570.0,486.6 572.0,486.6 574.0,486.7 576.0,486.7 578.0,486.7 580.0,486.8 582.0,486.8 584.0,486.8 586.0,486.8 588.0,486.8 590.0,486.8 592.0,486.8 594.0,486.7 596.0,486.7 598.0,486.6 600.0,486.5 602.0,486.4 604.0,486.3 606.0,486.2 608.0,486.0 610.0,485.8 612.0,485.6 614.0,485.4 616.0,485.1 618.0,484.8 620.0,484.4 622.0,484.0 624.0,483.6 626.0,483.1 628.0,482.6 630.0,482.1 632.0,481.4 634.0,480.8 636.0,480.1 638.0,479.3 640.0,478.5 642.0,477.6 644.0,476.6 646.0,475.6 648.0,474.6 650.0,473.4 652.0,472.3 654.0,471.0 656.0,469.7 658.0,468.3 660.0,466.9 662.0,465.4 664.0,463.9 666.0,462.3 668.0,460.7 670.0,459.1 672.0,457.4 674.0,455.7 676.0,453.9 678.0,452.1 680.0,450.4 682.0,448.6 684.0,446.8 686.0,445.0 688.0,443.3 690.0,441.6 692.0,439.9 694.0,438.3 696.0,436.7 698.0,435.2 700.0,433.7 702.0,432.4 704.0,431.1 706.0,429.9 708.0,428.8 710.0,427.8 712.0,427.0 714.0,426.2 716.0,425.6 718.0,425.1 720.0,424.7 722.0,424.5 724.0,424.4 726.0,424.5 728.0,424.8 730.0,425.3 732.0,426.1 734.0,427.2 736.0,428.5 738.0,430.1 740.0,431.8 742.0,433.7 744.0,435.8 746.0,438.1 748.0,440.4 750.0,442.9 752.0,445.4 754.0,447.9 756.0,450.5 758.0,453.1 760.0,455.7 762.0,458.2 764.0,460.7 766.0,463.1 768.0,465.4 770.0,467.7 772.0,469.8 774.0,471.8 776.0,473.7 778.0,475.6 780.0,477.2 782.0,478.8 784.0,480.3 786.0,481.6 788.0,482.8 790.0,483.9 792.0,484.9 794.0,485.8 796.0,486.6 798.0,487.4 800.0,488.0 802.0,488.6 804.0,489.1 806.0,489.6 808.0,490.0 810.0,490.3 812.0,490.6 814.0,490.9 816.0,491.1 818.0,491.3 820.0,491.4 822.0,491.6 824.0,491.7 826.0,491.8 828.0,491.9 830.0,492.0 832.0,492.0 834.0,492.1 836.0,492.1 838.0,492.2 840.0,492.2 842.0,492.2 844.0,492.2 846.0,492.3 848.0,492.3 850.0,492.3 852.0,492.3 854.0,492.3 856.0,492.3 858.0,492.3 860.0,492.3 862.0,492.4 864.0,492.4 866.0,492.4 868.0,492.4 870.0,492.4 872.0,492.4 874.0,492.4 876.0,492.4 878.0,492.4 880.0,492.4 882.0,492.4 884.0,492.4 886.0,492.4 888.0,492.4 890.0,492.4 892.0,492.4 894.0,492.4 896.0,492.4 898.0,492.4 900.0,492.5 902.0,492.5 904.0,492.5 906.0,492.5 908.0,492.5 910.0,492.5 912.0,492.5 914.0,492.5 916.0,492.5 918.0,492.5 920.0,492.5 922.0,492.5 924.0,492.5 926.0,492.5 928.0,492.5 930.0,492.5 932.0,492.5 934.0,492.5 936.0,492.5 938.0,492.5 940.0,492.5 942.0,492.5 944.0,492.5 946.0,492.5 948.0,492.5 950.0,492.5 952.0,492.5 954.0,492.5 956.0,492.5 958.0,492.5 960.0,492.5"/>
<polyline points="192.0,484.2 194.0,484.2 196.0,484.2 198.0,484.2 200.0,484.2 202.0,484.2 204.0,484.2 206.0,484.2 208.0,484.2 210.0,484.2 212.0,484.2 214.0,484.2 216.0,484.2 218.0,484.2 220.0,484.2 222.0,484.2 224.0,484.2 226.0,484.2 228.0,484.2 230.0,484.2 232.0,484.2 234.0,484.2 236.0,484.2 238.0,484.2 240.0,484.2 242.0,484.2 244.0,484.2 246.0,484.2 248.0,484.2 250.0,484.2 252.0,484.2 254.0,484.2 256.0,484.2 258.0,484.2 260.0,484.2 262.0,484.2 264.0,484.2 266.0,484.2 268.0,484.2 270.0,484.2 272.0,484.1 274.0,484.1 276.0,484.1 278.0,484.1 280.0,484.1 282.0,484.1 284.0,484.1 286.0,484.1 288.0,484.1 290.0,484.1 292.0,484.1 294.0,484.1 296.0,484.1 298.0,484.1 300.0,484.1 302.0,484.1 304.0,484.1 306.0,484.1 308.0,484.1 310.0,484.1 312.0,484.1 314.0,484.1 316.0,484.1 318.0,484.1 320.0,484.1 322.0,484.1 324.0,484.1 326.0,484.2 328.0,484.2 330.0,484.2 332.0,484.2 334.0,484.2 336.0,484.2 338.0,484.2 340.0,484.2 342.0,484.2 344.0,484.2 346.0,484.2 348.0,484.2 350.0,484.2 352.0,484.2 354.0,484.2 356.0,484.2 358.0,484.2 360.0,484.2 362.0,484.2 364.0,484.2 366.0,484.2 368.0,484.2 370.0,484.2 372.0,484.2 374.0,484.2 376.0,484.2 378.0,484.2 380.0,484.2 382.0,484.2 384.0,484.2 386.0,484.2 388.0,484.2 390.0,484.2 392.0,484.2 394.0,484.2 396.0,484.3 398.0,484.3 400.0,484.3 402.0,484.3 404.0,484.3 406.0,484.3 408.0,484.3 410.0,484.3 412.0,484.3 414.0,484.3 416.0,484.2 418.0,484.2 420.0,484.2 422.0,484.2 424.0,484.2 426.0,484.2 428.0,484.2 430.0,484.2 432.0,484.2 434.0,484.2 436.0,484.2 438.0,484.2 440.0,484.2 442.0,484.1 444.0,484.1 446.0,484.1 448.0,484.1 450.0,484.0 452.0,484.0 454.0,483.9 456.0,483.9 458.0,483.8 460.0,483.7 462.0,483.6 464.0,483.5 466.0,483.4 468.0,483.2 470.0,483.0 472.0,482.9 474.0,482.6 476.0,482.4 478.0,482.1 480.0,481.8 482.0,481.5 484.0,481.1 486.0,480.7 488.0,480.2 490.0,479.7 492.0,479.2 494.0,478.5 496.0,477.9 498.0,477.2 500.0,476.4 502.0,475.6 504.0,474.7 506.0,473.7 508.0,472.7 510.0,471.7 512.0,470.5 514.0,469.4 516.0,468.1 518.0,466.8 520.0,465.5 522.0,464.1 524.0,462.7 526.0,461.2 528.0,459.7 530.0,458.2 532.0,456.6 534.0,455.1 536.0,453.6 538.0,452.0 540.0,450.5 542.0,449.1 544.0,447.6 546.0,446.3 548.0,444.9 550.0,443.7 552.0,442.5 554.0,441.5 556.0,440.5 558.0,439.7 560.0,438.9 562.0,438.3 564.0,437.8 566.0,437.5 568.0,437.3 570.0,437.2 572.0,437.3 574.0,437.6 576.0,438.0 578.0,438.6 580.0,439.4 582.0,440.3 584.0,441.3 586.0,442.5 588.0,443.8 590.0,445.3 592.0,446.8 594.0,448.4 596.0,450.1 598.0,451.8 600.0,453.5 602.0,455.3 604.0,457.1 606.0,458.9 608.0,460.7 610.0,462.5 612.0,464.2 614.0,465.9 616.0,467.6 618.0,469.1 620.0,470.7 622.0,472.1 624.0,473.5 626.0,474.8 628.0,476.1 630.0,477.3 632.0,478.4 634.0,479.4 636.0,480.3 638.0,481.2 640.0,482.0 642.0,482.7 644.0,483.4 646.0,484.0 648.0,484.6 650.0,485.1 652.0,485.5 654.0,486.0 656.0,486.3 658.0,486.7 660.0,487.0 662.0,487.2 664.0,487.5 666.0,487.7 668.0,487.9 670.0,488.1 672.0,488.2 674.0,488.4 676.0,488.5 678.0,488.6 680.0,488.8 682.0,488.9 684.0,489.0 686.0,489.1 688.0,489.2 690.0,489.3 692.0,489.3 694.0,489.4 696.0,489.5 698.0,489.6 700.0,489.7 702.0,489.8 704.0,489.9 706.0,489.9 708.0,490.0 710.0,490.1 712.0,490.2 714.0,490.3 716.0,490.4 718.0,490.5 720.0,490.5 722.0,490.6 724.0,490.7 726.0,490.8 728.0,490.9 730.0,491.0 732.0,491.1 734.0,491.1 736.0,491.2 738.0,491.3 740.0,491.4 742.0,491.5 744.0,491.5 746.0,491.6 748.0,491.7 750.0,491.7 752.0,491.8 754.0,491.9 756.0,491.9 758.0,492.0 760.0,492.0 762.0,492.1 764.0,492.1 766.0,492.1 768.0,492.2 770.0,492.2 772.0,492.2 774.0,492.3 776.0,492.3 778.0,492.3 780.0,492.3 782.0,492.4 784.0,492.4 786.0,492.4 788.0,492.4 790.0,492.4 792.0,492.4 794.0,492.4 796.0,492.5 798.0,492.5 800.0,492.5 802.0,492.5 804.0,492.5 806.0,492.5 808.0,492.5 810.0,492.5 812.0,492.5 814.0,492.5 816.0,492.5 818.0,492.5 820.0,492.5 822.0,492.5 824.0,492.5 826.0,492.5 828.0,492.5 830.0,492.5 832.0,492.5 834.0,492.5 836.0,492.5 838.0,492.5 840.0,492.5 842.0,492.5 844.0,492.5 846.0,492.5 848.0,492.5 850.0,492.5 852.0,492.5 854.0,492.5 856.0,492.5 858.0,492.5 860.0,492.5 862.0,492.5 864.0,492.5 866.0,492.5 868.0,492.5 870.0,492.5 872.0,492.5 874.0,492.5 876.0,492.5 878.0,492.6 880.0,492.6 882.0,492.6 884.0,492.6 886.0,492.6 888.0,492.6 890.0,492.6 892.0,492.6 894.0,492.6 896.0,492.6 898.0,492.6 900.0,492.6 902.0,492.6 904.0,492.6 906.0,492.6 908.0,492.6 910.0,492.6 912.0,492.6 914.0,492.6 916.0,492.6 918.0,492.6 920.0,492.6 922.0,492.6 924.0,492.6 926.0,492.6 928.0,492.6 930.0,492.6 932.0,492.6 934.0,492.6 936.0,492.6 938.0,492.6 940.0,492.6 942.0,492.6 944.0,492.6 946.0,492.6 948.0,492.6 950.0,492.6 952.0,492.6 954.0,492.6 956.0,492.6 958.0,492.6 960.0,492.6"/>
<polyline points="192.0,484.2 194.0,484.2 196.0,484.2 198.0,484.2 200.0,484.2 202.0,484.2 204.0,484.2 206.0,484.2 208.0,484.2 210.0,484.2 212.0,484.2 214.0,484.2 216.0,484.2 218.0,484.2 220.0,484.2 222.0,484.2 224.0,484.2 226.0,484.2 228.0,484.2 230.0,484.2 232.0,484.2 234.0,484.2 236.0,484.2 238.0,484.2 240.0,484.2 242.0,484.2 244.0,484.2 246.0,484.2 248.0,484.2 250.0,484.2 252.0,484.2 254.0,484.2 256.0,484.2 258.0,484.2 260.0,484.2 262.0,484.2 264.0,484.2 266.0,484.2 268.0,484.2 270.0,484.2 272.0,484.2 274.0,484.2 276.0,484.2 278.0,484.2 280.0,484.2 282.0,484.2 284.0,484.2 286.0,484.2 288.0,484.2 290.0,484.2 292.0,484.2 294.0,484.2 296.0,484.2 298.0,484.2 300.0,484.2 302.0,484.2 304.0,484.2 306.0,484.2 308.0,484.2 310.0,484.2 312.0,484.2 314.0,484.2 316.0,484.2 318.0,484.2 320.0,484.2 322.0,484.2 324.0,484.2 326.0,484.2 328.0,484.2 330.0,484.2 332.0,484.2 334.0,484.2 336.0,484.2 338.0,484.2 340.0,484.3 342.0,484.3 344.0,484.3 346.0,484.3 348.0,484.3 350.0,484.3 352.0,484.3 354.0,484.3 356.0,484.3 358.0,484.3 360.0,484.3 362.0,484.3 364.0,484.3 366.0,484.3 368.0,484.3 370.0,484.3 372.0,484.3 374.0,484.3 376.0,484.4 378.0,484.4 380.0,484.4 382.0,484.4 384.0,484.4 386.0,484.4 388.0,484.4 390.0,484.4 392.0,484.4 394.0,484.4 396.0,484.4 398.0,484.4 400.0,484.4 402.0,484.4 404.0,484.4 406.0,484.4 408.0,484.4 410.0,484.4 412.0,484.4 414.0,484.4 416.0,484.4 418.0,484.4 420.0,484.5 422.0,484.5 424.0,484.5 426.0,484.5 428.0,484.5 430.0,484.5 432.0,484.5 434.0,484.5 436.0,484.5 438.0,484.5 440.0,484.5 442.0,484.5 444.0,484.5 446.0,484.6 448.0,484.6 450.0,484.6 452.0,484.6 454.0,484.6 456.0,484.6 458.0,484.6 460.0,484.6 462.0,484.6 464.0,484.7 466.0,484.7 468.0,484.7 470.0,484.7 472.0,484.7 474.0,484.7 476.0,484.8 478.0,484.8 480.0,484.8 482.0,484.8 484.0,484.8 486.0,484.8 488.0,484.9 490.0,484.9 492.0,484.9 494.0,484.9 496.0,484.9 498.0,485.0 500.0,485.0 502.0,485.0 504.0,485.0 506.0,485.0 508.0,485.0 510.0,485.1 512.0,485.1 514.0,485.1 516.0,485.1 518.0,485.1 520.0,485.1 522.0,485.1 524.0,485.1 526.0,485.1 528.0,485.1 530.0,485.1 532.0,485.0 534.0,485.0 536.0,485.0 538.0,484.9 540.0,484.9 542.0,484.8 544.0,484.7 546.0,484.6 548.0,484.5 550.0,484.4 552.0,484.2 554.0,484.1 556.0,483.9 558.0,483.7 560.0,483.5 562.0,483.3 564.0,483.0 566.0,482.8 568.0,482.5 570.0,482.2 572.0,481.9 574.0,481.6 576.0,481.2 578.0,480.9 580.0,480.5 582.0,480.2 584.0,479.8 586.0,479.4 588.0,479.1 590.0,478.7 592.0,478.4 594.0,478.0 596.0,477.7 598.0,477.4 600.0,477.1 602.0,476.8 604.0,476.5 606.0,476.3 608.0,476.1 610.0,475.9 612.0,475.8 614.0,475.7 616.0,475.7 618.0,475.6 620.0,475.7 622.0,475.7 624.0,475.8 626.0,476.0 628.0,476.1 630.0,476.4 632.0,476.6 634.0,476.9 636.0,477.2 638.0,477.6 640.0,477.9 642.0,478.3 644.0,478.7 646.0,479.2 648.0,479.6 650.0,480.0 652.0,480.5 654.0,481.0 656.0,481.4 658.0,481.9 660.0,482.4 662.0,482.8 664.0,483.3 666.0,483.7 668.0,484.2 670.0,484.6 672.0,485.0 674.0,485.4 676.0,485.7 678.0,486.1 680.0,486.4 682.0,486.8 684.0,487.1 686.0,487.4 688.0,487.7 690.0,487.9 692.0,488.2 694.0,488.4 696.0,488.6 698.0,488.8 700.0,489.0 702.0,489.2 704.0,489.4 706.0,489.6 708.0,489.7 710.0,489.9 712.0,490.0 714.0,490.1 716.0,490.3 718.0,490.4 720.0,490.5 722.0,490.6 724.0,490.7 726.0,490.8 728.0,490.9 730.0,491.0 732.0,491.1 734.0,491.2 736.0,491.3 738.0,491.4 740.0,491.5 742.0,491.6 744.0,491.6 746.0,491.7 748.0,491.8 750.0,491.8 752.0,491.9 754.0,492.0 756.0,492.0 758.0,492.1 760.0,492.1 762.0,492.2 764.0,492.2 766.0,492.2 768.0,492.3 770.0,492.3 772.0,492.3 774.0,492.4 776.0,492.4 778.0,492.4 780.0,492.4 782.0,492.4 784.0,492.5 786.0,492.5 788.0,492.5 790.0,492.5 792.0,492.5 794.0,492.5 796.0,492.5 798.0,492.5 800.0,492.5 802.0,492.5 804.0,492.6 806.0,492.6 808.0,492.6 810.0,492.6 812.0,492.6 814.0,492.6 816.0,492.6 818.0,492.6 820.0,492.6 822.0,492.6 824.0,492.6 826.0,492.6 828.0,492.6 830.0,492.6 832.0,492.6 834.0,492.6 836.0,492.6 838.0,492.6 840.0,492.6 842.0,492.6 844.0,492.6 846.0,492.6 848.0,492.6 850.0,492.6 852.0,492.6 854.0,492.6 856.0,492.6 858.0,492.6 860.0,492.6 862.0,492.6 864.0,492.6 866.0,492.6 868.0,492.6 870.0,492.6 872.0,492.6 874.0,492.6 876.0,492.6 878.0,492.6 880.0,492.6 882.0,492.6 884.0,492.6 886.0,492.6 888.0,492.6 890.0,492.6 892.0,492.6 894.0,492.6 896.0,492.6 898.0,492.6 900.0,492.6 902.0,492.6 904.0,492.6 906.0,492.6 908.0,492.6 910.0,492.6 912.0,492.6 914.0,492.6 916.0,492.6 918.0,492.6 920.0,492.6 922.0,492.6 924.0,492.6 926.0,492.6 928.0,492.6 930.0,492.6 932.0,492.6 934.0,492.6 936.0,492.6 938.0,492.6 940.0,492.6 942.0,492.6 944.0,492.6 946.0,492.6 948.0,492.6 950.0,492.6 952.0,492.6 954.0,492.6 956.0,492.6 958.0,492.6 960.0,492.6"/>
<polyline points="192.0,484.2 194.0,484.2 196.0,484.2 198.0,484.2 200.0,484.2 202.0,484.2 204.0,484.2 206.0,484.2 208.0,484.2 210.0,484.2 212.0,484.2 214.0,484.2 216.0,484.2 218.0,484.2 220.0,484.2 222.0,484.2 224.0,484.2 226.0,484.2 228.0,484.2 230.0,484.2 232.0,484.2 234.0,484.2 236.0,484.2 238.0,484.2 240.0,484.2 242.0,484.2 244.0,484.2 246.0,484.2 248.0,484.2 250.0,484.2 252.0,484.2 254.0,484.2 256.0,484.2 258.0,484.2 260.0,484.2 262.0,484.2 264.0,484.2 266.0,484.2 268.0,484.2 270.0,484.2 272.0,484.2 274.0,484.2 276.0,484.2 278.0,484.2 280.0,484.2 282.0,484.2 284.0,484.2 286.0,484.2 288.0,484.2 290.0,484.2 292.0,484.2 294.0,484.2 296.0,484.2 298.0,484.2 300.0,484.2 302.0,484.2 304.0,484.2 306.0,484.2 308.0,484.2 310.0,484.2 312.0,484.2 314.0,484.2 316.0,484.2 318.0,484.2 320.0,484.2 322.0,484.2 324.0,484.2 326.0,484.2 328.0,484.2 330.0,484.2 332.0,484.2 334.0,484.2 336.0,484.2 338.0,484.2 340.0,484.2 342.0,484.2 344.0,484.2 346.0,484.2 348.0,484.2 350.0,484.2 352.0,484.2 354.0,484.2 356.0,484.2 358.0,484.2 360.0,484.2 362.0,484.2 364.0,484.2 366.0,484.2 368.0,484.2 370.0,484.2 372.0,484.1 374.0,484.1 376.0,484.1 378.0,484.1 380.0,484.0 382.0,484.0 384.0,483.9 386.0,483.8 388.0,483.8 390.0,483.7 392.0,483.6 394.0,483.5 396.0,483.4 398.0,483.3 400.0,483.1 402.0,483.0 404.0,482.8 406.0,482.6 408.0,482.5 410.0,482.3 412.0,482.0 414.0,481.8 416.0,481.6 418.0,481.3 420.0,481.1 422.0,480.8 424.0,480.5 426.0,480.2 428.0,479.9 430.0,479.6 432.0,479.3 434.0,479.0 436.0,478.7 438.0,478.4 440.0,478.1 442.0,477.8 444.0,477.6 446.0,477.3 448.0,477.0 450.0,476.8 452.0,476.6 454.0,476.4 456.0,476.2 458.0,476.1 460.0,475.9 462.0,475.8 464.0,475.8 466.0,475.7 468.0,475.7 470.0,475.7 472.0,475.8 474.0,475.8 476.0,475.9 478.0,476.1 480.0,476.2 482.0,476.4 484.0,476.6 486.0,476.9 488.0,477.1 490.0,477.4 492.0,477.7 494.0,478.0 496.0,478.3 498.0,478.6 500.0,478.9 502.0,479.3 504.0,479.6 506.0,479.9 508.0,480.3 510.0,480.6 512.0,481.0 514.0,481.3 516.0,481.6 518.0,481.9 520.0,482.2 522.0,482.5 524.0,482.8 526.0,483.1 528.0,483.3 530.0,483.6 532.0,483.8 534.0,484.0 536.0,484.2 538.0,484.4 540.0,484.6 542.0,484.8 544.0,485.0 546.0,485.1 548.0,485.3 550.0,485.4 552.0,485.6 554.0,485.7 556.0,485.8 558.0,485.9 560.0,486.1 562.0,486.2 564.0,486.3 566.0,486.4 568.0,486.5 570.0,486.6 572.0,486.7 574.0,486.7 576.0,486.8 578.0,486.9 580.0,487.0 582.0,487.1 584.0,487.1 586.0,487.2 588.0,487.3 590.0,487.4 592.0,487.4 594.0,487.5 596.0,487.5 598.0,487.6 600.0,487.7 602.0,487.7 604.0,487.8 606.0,487.8 608.0,487.9 610.0,487.9 612.0,488.0 614.0,488.0 616.0,488.1 618.0,488.1 620.0,488.2 622.0,488.2 624.0,488.2 626.0,488.3 628.0,488.3 630.0,488.4 632.0,488.4 634.0,488.4 636.0,488.5 638.0,488.5 640.0,488.5 642.0,488.6 644.0,488.6 646.0,488.6 648.0,488.7 650.0,488.7 652.0,488.7 654.0,488.8 656.0,488.8 658.0,488.8 660.0,488.9 662.0,488.9 664.0,489.0 666.0,489.0 668.0,489.0 670.0,489.1 672.0,489.1 674.0,489.2 676.0,489.2 678.0,489.3 680.0,489.3 682.0,489.4 684.0,489.4 686.0,489.5 688.0,489.5 690.0,489.6 692.0,489.7 694.0,489.7 696.0,489.8 698.0,489.9 700.0,489.9 702.0,490.0 704.0,490.1 706.0,490.2 708.0,490.2 710.0,490.3 712.0,490.4 714.0,490.5 716.0,490.6 718.0,490.6 720.0,490.7 722.0,490.8 724.0,490.9 726.0,491.0 728.0,491.0 730.0,491.1 732.0,491.2 734.0,491.3 736.0,491.4 738.0,491.4 740.0,491.5 742.0,491.6 744.0,491.7 746.0,491.7 748.0,491.8 750.0,491.9 752.0,491.9 754.0,492.0 756.0,492.0 758.0,492.1 760.0,492.1 762.0,492.2 764.0,492.2 766.0,492.2 768.0,492.3 770.0,492.3 772.0,492.3 774.0,492.4 776.0,492.4 778.0,492.4 780.0,492.4 782.0,492.5 784.0,492.5 786.0,492.5 788.0,492.5 790.0,492.5 792.0,492.5 794.0,492.5 796.0,492.5 798.0,492.5 800.0,492.5 802.0,492.5 804.0,492.6 806.0,492.6 808.0,492.6 810.0,492.6 812.0,492.6 814.0,492.6 816.0,492.6 818.0,492.6 820.0,492.6 822.0,492.6 824.0,492.6 826.0,492.6 828.0,492.6 830.0,492.6 832.0,492.6 834.0,492.6 836.0,492.6 838.0,492.6 840.0,492.6 842.0,492.6 844.0,492.6 846.0,492.6 848.0,492.6 850.0,492.6 852.0,492.6 854.0,492.6 856.0,492.6 858.0,492.6 860.0,492.6 862.0,492.6 864.0,492.6 866.0,492.6 868.0,492.6 870.0,492.6 872.0,492.6 874.0,492.6 876.0,492.6 878.0,492.6 880.0,492.6 882.0,492.6 884.0,492.6 886.0,492.6 888.0,492.6 890.0,492.6 892.0,492.6 894.0,492.6 896.0,492.6 898.0,492.6 900.0,492.6 902.0,492.6 904.0,492.6 906.0,492.6 908.0,492.6 910.0,492.6 912.0,492.6 914.0,492.6 916.0,492.6 918.0,492.6 920.0,492.6 922.0,492.6 924.0,492.6 926.0,492.6 928.0,492.6 930.0,492.6 932.0,492.6 934.0,492.6 936.0,492.6 938.0,492.6 940.0,492.6 942.0,492.6 944.0,492.6 946.0,492.6 948.0,492.6 950.0,492.6 952.0,492.6 954.0,492.6 956.0,492.6 958.0,492.6 960.0,492.6"/>
<polyline points="192.0,484.2 194.0,484.2 196.0,484.2 198.0,484.2 200.0,484.2 202.0,484.2 204.0,484.2 206.0,484.2 208.0,484.2 210.0,484.2 212.0,484.2 214.0,484.2 216.0,484.2 218.0,484.2 220.0,484.2 222.0,484.2 224.0,484.2 226.0,484.2 228.0,484.2 230.0,484.2 232.0,484.2 234.0,484.2 236.0,484.2 238.0,484.2 240.0,484.2 242.0,484.2 244.0,484.2 246.0,484.2 248.0,484.2 250.0,484.2 252.0,484.2 254.0,484.2 256.0,484.2 258.0,484.2 260.0,484.2 262.0,484.2 264.0,484.2 266.0,484.2 268.0,484.2 270.0,484.2 272.0,484.2 274.0,484.2 276.0,484.2 278.0,484.2 280.0,484.2 282.0,484.2 284.0,484.2 286.0,484.2 288.0,484.2 290.0,484.2 292.0,484.2 294.0,484.2 296.0,484.2 298.0,484.2 300.0,484.2 302.0,484.2 304.0,484.2 306.0,484.2 308.0,484.2 310.0,484.2 312.0,484.2 314.0,484.2 316.0,484.2 318.0,484.2 320.0,484.2 322.0,484.2 324.0,484.2 326.0,484.2 328.0,484.2 330.0,484.2 332.0,484.2 334.0,484.2 336.0,484.2 338.0,484.2 340.0,484.3 342.0,484.3 344.0,484.3 346.0,484.3 348.0,484.3 350.0,484.3 352.0,484.3 354.0,484.3 356.0,484.3 358.0,484.3 360.0,484.3 362.0,484.3 364.0,484.3 366.0,484.3 368.0,484.3 370.0,484.3 372.0,484.3 374.0,484.3 376.0,484.4 378.0,484.4 380.0,484.4 382.0,484.4 384.0,484.4 386.0,484.4 388.0,484.4 390.0,484.4 392.0,484.4 394.0,484.4 396.0,484.4 398.0,484.4 400.0,484.4 402.0,484.4 404.0,484.4 406.0,484.4 408.0,484.4 410.0,484.4 412.0,484.4 414.0,484.4 416.0,484.4 418.0,484.4 420.0,484.4 422.0,484.4 424.0,484.4 426.0,484.4 428.0,484.4 430.0,484.4 432.0,484.4 434.0,484.3 436.0,484.3 438.0,484.3 440.0,484.2 442.0,484.2 444.0,484.1 446.0,484.1 448.0,484.0 450.0,484.0 452.0,483.9 454.0,483.8 456.0,483.7 458.0,483.5 460.0,483.4 462.0,483.3 464.0,483.1 466.0,482.9 468.0,482.7 470.0,482.5 472.0,482.3 474.0,482.1 476.0,481.9 478.0,481.6 480.0,481.4 482.0,481.1 484.0,480.9 486.0,480.6 488.0,480.3 490.0,480.1 492.0,479.8 494.0,479.6 496.0,479.4 498.0,479.1 500.0,478.9 502.0,478.8 504.0,478.6 506.0,478.5 508.0,478.4 510.0,478.3 512.0,478.2 514.0,478.2 516.0,478.3 518.0,478.3 520.0,478.4 522.0,478.5 524.0,478.6 526.0,478.8 528.0,479.0 530.0,479.2 532.0,479.5 534.0,479.8 536.0,480.1 538.0,480.4 540.0,480.7 542.0,481.0 544.0,481.3 546.0,481.7 548.0,482.0 550.0,482.4 552.0,482.7 554.0,483.0 556.0,483.4 558.0,483.7 560.0,484.0 562.0,484.3 564.0,484.5 566.0,484.8 568.0,485.1 570.0,485.3 572.0,485.5 574.0,485.8 576.0,486.0 578.0,486.1 580.0,486.3 582.0,486.5 584.0,486.6 586.0,486.8 588.0,486.9 590.0,487.0 592.0,487.2 594.0,487.3 596.0,487.4 598.0,487.5 600.0,487.5 602.0,487.6 604.0,487.7 606.0,487.8 608.0,487.8 610.0,487.9 612.0,487.9 614.0,488.0 616.0,488.1 618.0,488.1 620.0,488.2 622.0,488.2 624.0,488.2 626.0,488.3 628.0,488.3 630.0,488.4 632.0,488.4 634.0,488.4 636.0,488.5 638.0,488.5 640.0,488.5 642.0,488.6 644.0,488.6 646.0,488.6 648.0,488.7 650.0,488.7 652.0,488.7 654.0,488.8 656.0,488.8 658.0,488.8 660.0,488.9 662.0,488.9 664.0,489.0 666.0,489.0 668.0,489.0 670.0,489.1 672.0,489.1 674.0,489.2 676.0,489.2 678.0,489.3 680.0,489.3 682.0,489.4 684.0,489.4 686.0,489.5 688.0,489.5 690.0,489.6 692.0,489.7 694.0,489.7 696.0,489.8 698.0,489.9 700.0,489.9 702.0,490.0 704.0,490.1 706.0,490.2 708.0,490.2 710.0,490.3 712.0,490.4 714.0,490.5 716.0,490.6 718.0,490.6 720.0,490.7 722.0,490.8 724.0,490.9 726.0,491.0 728.0,491.0 730.0,491.1 732.0,491.2 734.0,491.3 736.0,491.4 738.0,491.4 740.0,491.5 742.0,491.6 744.0,491.7 746.0,491.7 748.0,491.8 750.0,491.9 752.0,491.9 754.0,492.0 756.0,492.0 758.0,492.1 760.0,492.1 762.0,492.2 764.0,492.2 766.0,492.2 768.0,492.3 770.0,492.3 772.0,492.3 774.0,492.4 776.0,492.4 778.0,492.4 780.0,492.4 782.0,492.5 784.0,492.5 786.0,492.5 788.0,492.5 790.0,492.5 792.0,492.5 794.0,492.5 796.0,492.5 798.0,492.5 800.0,492.5 802.0,492.5 804.0,492.6 806.0,492.6 808.0,492.6 810.0,492.6 812.0,492.6 814.0,492.6 816.0,492.6 818.0,492.6 820.0,492.6 822.0,492.6 824.0,492.6 826.0,492.6 828.0,492.6 830.0,492.6 832.0,492.6 834.0,492.6 836.0,492.6 838.0,492.6 840.0,492.6 842.0,492.6 844.0,492.6 846.0,492.6 848.0,492.6 850.0,492.6 852.0,492.6 854.0,492.6 856.0,492.6 858.0,492.6 860.0,492.6 862.0,492.6 864.0,492.6 866.0,492.6 868.0,492.6 870.0,492.6 872.0,492.6 874.0,492.6 876.0,492.6 878.0,492.6 880.0,492.6 882.0,492.6 884.0,492.6 886.0,492.6 888.0,492.6 890.0,492.6 892.0,492.6 894.0,492.6 896.0,492.6 898.0,492.6 900.0,492.6 902.0,492.6 904.0,492.6 906.0,492.6 908.0,492.6 910.0,492.6 912.0,492.6 914.0,492.6 916.0,492.6 918.0,492.6 920.0,492.6 922.0,492.6 924.0,492.6 926.0,492.6 928.0,492.6 930.0,492.6 932.0,492.6 934.0,492.6 936.0,492.6 938.0,492.6 940.0,492.6 942.0,492.6 944.0,492.6 946.0,492.6 948.0,492.6 950.0,492.6 952.0,492.6 954.0,492.6 956.0,492.6 958.0,492.6 960.0,492.6"/>
<polyline points="192.0,484.2 194.0,484.2 196.0,484.2 198.0,484.2 200.0,484.2 202.0,484.2 204.0,484.2 206.0,484.2 208.0,484.2 210.0,484.2 212.0,484.2 214.0,484.2 216.0,484.2 218.0,484.2 220.0,484.2 222.0,484.2 224.0,484.2 226.0,484.2 228.0,484.2 230.0,484.2 232.0,484.2 234.0,484.2 236.0,484.2 238.0,484.2 240.0,484.2 242.0,484.2 244.0,484.2 246.0,484.2 248.0,484.2 250.0,484.2 252.0,484.2 254.0,484.2 256.0,484.2 258.0,484.2 260.0,484.2 262.0,484.2 264.0,484.2 266.0,484.2 268.0,484.2 270.0,484.2 272.0,484.2 274.0,484.1 276.0,484.1 278.0,484.1 280.0,484.1 282.0,484.1 284.0,484.1 286.0,484.0 288.0,484.0 290.0,484.0 292.0,483.9 294.0,483.9 296.0,483.8 298.0,483.7 300.0,483.7 302.0,483.6 304.0,483.5 306.0,483.4 308.0,483.3 310.0,483.2 312.0,483.1 314.0,483.0 316.0,482.8 318.0,482.7 320.0,482.5 322.0,482.4 324.0,482.2 326.0,482.0 328.0,481.9 330.0,481.7 332.0,481.5 334.0,481.3 336.0,481.2 338.0,481.0 340.0,480.8 342.0,480.7 344.0,480.5 346.0,480.4 348.0,480.2 350.0,480.1 352.0,480.0 354.0,479.9 356.0,479.9 358.0,479.8 360.0,479.8 362.0,479.8 364.0,479.8 366.0,479.9 368.0,479.9 370.0,480.0 372.0,480.1 374.0,480.2 376.0,480.3 378.0,480.5 380.0,480.6 382.0,480.8 384.0,480.9 386.0,481.1 388.0,481.3 390.0,481.5 392.0,481.7 394.0,481.8 396.0,482.0 398.0,482.2 400.0,482.4 402.0,482.6 404.0,482.7 406.0,482.9 408.0,483.0 410.0,483.2 412.0,483.3 414.0,483.4 416.0,483.6 418.0,483.7 420.0,483.8 422.0,483.9 424.0,483.9 426.0,484.0 428.0,484.1 430.0,484.1 432.0,484.2 434.0,484.2 436.0,484.3 438.0,484.3 440.0,484.4 442.0,484.4 444.0,484.4 446.0,484.5 448.0,484.5 450.0,484.5 452.0,484.5 454.0,484.6 456.0,484.6 458.0,484.6 460.0,484.6 462.0,484.6 464.0,484.6 466.0,484.7 468.0,484.7 470.0,484.7 472.0,484.7 474.0,484.7 476.0,484.8 478.0,484.8 480.0,484.8 482.0,484.8 484.0,484.8 486.0,484.9 488.0,484.9 490.0,484.9 492.0,484.9 494.0,484.9 496.0,485.0 498.0,485.0 500.0,485.0 502.0,485.0 504.0,485.1 506.0,485.1 508.0,485.1 510.0,485.2 512.0,485.2 514.0,485.2 516.0,485.3 518.0,485.3 520.0,485.3 522.0,485.4 524.0,485.4 526.0,485.4 528.0,485.5 530.0,485.5 532.0,485.6 534.0,485.6 536.0,485.7 538.0,485.7 540.0,485.8 542.0,485.8 544.0,485.9 546.0,485.9 548.0,486.0 550.0,486.0 552.0,486.1 554.0,486.2 556.0,486.2 558.0,486.3 560.0,486.4 562.0,486.4 564.0,486.5 566.0,486.6 568.0,486.6 570.0,486.7 572.0,486.8 574.0,486.8 576.0,486.9 578.0,487.0 580.0,487.0 582.0,487.1 584.0,487.2 586.0,487.2 588.0,487.3 590.0,487.4 592.0,487.4 594.0,487.5 596.0,487.6 598.0,487.6 600.0,487.7 602.0,487.7 604.0,487.8 606.0,487.8 608.0,487.9 610.0,487.9 612.0,488.0 614.0,488.0 616.0,488.1 618.0,488.1 620.0,488.2 622.0,488.2 624.0,488.2 626.0,488.3 628.0,488.3 630.0,488.4 632.0,488.4 634.0,488.4 636.0,488.5 638.0,488.5 640.0,488.5 642.0,488.6 644.0,488.6 646.0,488.6 648.0,488.7 650.0,488.7 652.0,488.7 654.0,488.8 656.0,488.8 658.0,488.8 660.0,488.9 662.0,488.9 664.0,489.0 666.0,489.0 668.0,489.0 670.0,489.1 672.0,489.1 674.0,489.2 676.0,489.2 678.0,489.3 680.0,489.3 682.0,489.4 684.0,489.4 686.0,489.5 688.0,489.5 690.0,489.6 692.0,489.7 694.0,489.7 696.0,489.8 698.0,489.9 700.0,489.9 702.0,490.0 704.0,490.1 706.0,490.2 708.0,490.2 710.0,490.3 712.0,490.4 714.0,490.5 716.0,490.6 718.0,490.6 720.0,490.7 722.0,490.8 724.0,490.9 726.0,491.0 728.0,491.0 730.0,491.1 732.0,491.2 734.0,491.3 736.0,491.4 738.0,491.4 740.0,491.5 742.0,491.6 744.0,491.7 746.0,491.7 748.0,491.8 750.0,491.9 752.0,491.9 754.0,492.0 756.0,492.0 758.0,492.1 760.0,492.1 762.0,492.2 764.0,492.2 766.0,492.2 768.0,492.3 770.0,492.3 772.0,492.3 774.0,492.4 776.0,492.4 778.0,492.4 780.0,492.4 782.0,492.5 784.0,492.5 786.0,492.5 788.0,492.5 790.0,492.5 792.0,492.5 794.0,492.5 796.0,492.5 798.0,492.5 800.0,492.5 802.0,492.5 804.0,492.6 806.0,492.6 808.0,492.6 810.0,492.6 812.0,492.6 814.0,492.6 816.0,492.6 818.0,492.6 820.0,492.6 822.0,492.6 824.0,492.6 826.0,492.6 828.0,492.6 830.0,492.6 832.0,492.6 834.0,492.6 836.0,492.6 838.0,492.6 840.0,492.6 842.0,492.6 844.0,492.6 846.0,492.6 848.0,492.6 850.0,492.6 852.0,492.6 854.0,492.6 856.0,492.6 858.0,492.6 860.0,492.6 862.0,492.6 864.0,492.6 866.0,492.6 868.0,492.6 870.0,492.6 872.0,492.6 874.0,492.6 876.0,492.6 878.0,492.6 880.0,492.6 882.0,492.6 884.0,492.6 886.0,492.6 888.0,492.6 890.0,492.6 892.0,492.6 894.0,492.6 896.0,492.6 898.0,492.6 900.0,492.6 902.0,492.6 904.0,492.6 906.0,492.6 908.0,492.6 910.0,492.6 912.0,492.6 914.0,492.6 916.0,492.6 918.0,492.6 920.0,492.6 922.0,492.6 924.0,492.6 926.0,492.6 928.0,492.6 930.0,492.6 932.0,492.6 934.0,492.6 936.0,492.6 938.0,492.6 940.0,492.6 942.0,492.6 944.0,492.6 946.0,492.6 948.0,492.6 950.0,492.6 952.0,492.6 954.0,492.6 956.0,492.6 958.0,492.6 960.0,492.6"/>
<polyline points="100.5,484.2 105.9,480.0 111.4,484.7 114.5,484.2 120.0,479.5 125.5,483.8 130.9,486.2 135.6,486.6 141.9,485.3 147.3,484.2 151.2,485.8 155.9,478.8 160.6,480.3 165.3,484.7 170.0,483.1 174.7,483.4 180.2,484.7 184.0,484.2 188.0,488.1 192.7,483.4 196.6,486.6 201.2,484.7 205.9,484.2 210.6,483.4 214.5,486.9 220.0,481.1 224.7,484.2 229.4,483.4 235.6,484.7 241.9,481.9 246.6,482.7 251.2,487.3 254.7,486.2 260.2,489.4 264.8,487.0 269.5,478.1 275.0,480.8 280.5,480.0 285.9,480.8 291.4,479.2 296.1,481.6 301.6,476.9 306.2,476.1 310.2,480.0 315.6,482.3 319.5,486.2 323.4,480.0 328.1,480.0 333.6,473.8 339.0,477.7 345.3,479.2 351.6,479.7 357.8,476.6 362.5,477.7 368.8,479.7 375.0,480.0 381.2,478.4 385.9,476.9 392.2,479.2 397.7,468.3 401.6,471.4 405.0,474.4 407.3,478.3 414.4,479.8 419.8,468.9 424.5,474.4 428.4,472.0 433.9,478.3 437.8,476.7 442.5,469.7 447.2,469.7 452.7,462.7 457.3,463.4 462.8,465.8 466.7,468.1 470.6,472.0 473.8,468.1 478.4,465.8 483.9,468.1 487.8,461.9 492.5,456.4 497.2,458.0 501.1,450.9 506.6,455.9 512.0,454.8 515.9,455.9 520.6,448.6 524.5,445.5 530.0,447.8 533.9,443.9 539.4,442.3 547.2,439.2 551.9,442.3 556.6,430.6 560.5,423.6 565.3,431.1 570.0,420.2 573.9,421.7 578.6,421.2 582.5,425.6 586.4,431.9 589.5,432.7 593.4,430.3 597.3,438.9 602.8,445.2 607.5,450.6 610.6,453.0 615.3,446.7 620.0,451.4 624.7,457.7 629.4,456.1 634.1,456.9 638.8,455.3 643.4,453.4 648.1,458.4 652.8,463.1 655.9,459.2 661.4,460.0 666.9,456.9 673.1,453.8 679.4,449.8 684.1,447.5 688.0,445.2 693.1,433.4 697.0,428.4 701.7,436.6 705.6,429.5 710.3,425.6 715.0,428.0 719.7,424.8 724.4,425.6 729.1,422.5 733.8,428.0 738.4,428.8 743.1,429.5 747.8,437.3 752.5,444.4 758.8,452.2 765.0,461.6 769.7,467.8 774.4,467.8 779.1,473.3 785.3,479.5 792.3,490.5 797.8,485.0 806.4,484.2 811.9,488.1 818.1,488.9 824.4,494.4 830.6,491.2 838.4,483.4 846.2,488.9 850.8,490.8 856.6,485.8 861.6,490.8 869.9,496.6 878.2,491.6 888.2,497.4 896.5,489.9 903.1,495.7 911.4,491.6 918.0,494.9 924.7,497.4 933.8,489.1 938.0,496.6 943.0,501.5 947.9,491.6 954.6,491.6 961.2,494.9 967.8,494.9 976.1,493.2 982.8,494.9 989.4,492.4 996.9,500.7 1002.7,494.9 1008.5,493.6"/>
<polyline points="101.0,701.3 103.0,701.3 105.0,701.3 107.0,701.3 109.0,701.3 111.0,701.3 113.0,701.3 115.0,701.3 117.0,701.3 119.0,701.3 121.0,701.3 123.0,701.3 125.0,701.3 127.0,701.3 129.0,701.3 131.0,701.3 133.0,701.3 135.0,701.3 137.0,701.3 139.0,701.3 141.0,701.3 143.0,701.3 145.0,701.3 147.1,701.3 149.1,701.3 151.1,701.3 153.1,701.3 155.1,701.3 157.1,701.3 159.1,701.3 161.1,701.3 163.1,701.3 165.1,701.3 167.1,701.3 169.1,701.3 171.1,701.3 173.1,701.3 175.1,701.3 177.1,701.3 179.1,701.3 181.1,701.3 183.1,701.3 185.1,701.3 187.1,701.3 189.1,701.3 191.1,701.3 193.1,701.3 195.1,701.3 197.1,701.3 199.1,701.4 201.1,701.4 203.1,701.4 205.1,701.4 207.1,701.4 209.1,701.4 211.1,701.4 213.1,701.4 215.1,701.4 217.1,701.4 219.1,701.4 221.1,701.4 223.1,701.4 225.1,701.4 227.1,701.4 229.1,701.4 231.1,701.4 233.1,701.4 235.1,701.4 237.2,701.4 239.2,701.4 241.2,701.4 243.2,701.4 245.2,701.4 247.2,701.4 249.2,701.4 251.2,701.4 253.2,701.4 255.2,701.4 257.2,701.4 259.2,701.4 261.2,701.4 263.2,701.4 265.2,701.4 267.2,701.4 269.2,701.4 271.2,701.4 273.2,701.4 275.2,701.4 277.2,701.4 279.2,701.4 281.2,701.4 283.2,701.4 285.2,701.4 287.2,701.4 289.2,701.4 291.2,701.4 293.2,701.4 295.2,701.4 297.2,701.4 299.2,701.4 301.2,701.4 303.2,701.4 305.2,701.5 307.2,701.5 309.2,701.5 311.2,701.5 313.2,701.5 315.2,701.5 317.2,701.5 319.2,701.5 321.2,701.5 323.2,701.5 325.2,701.5 327.2,701.5 329.3,701.6 331.3,701.6 333.3,701.6 335.3,701.6 337.3,701.6 339.3,701.6 341.3,701.7 343.3,701.7 345.3,701.7 347.3,701.7 349.3,701.7 351.3,701.8 353.3,701.8 355.3,701.8 357.3,701.8 359.3,701.9 361.3,701.9 363.3,701.9 365.3,701.9 367.3,702.0 369.3,702.0 371.3,702.0 373.3,702.0 375.3,702.1 377.3,702.1 379.3,702.1 381.3,702.1 383.3,702.2 385.3,702.2 387.3,702.2 389.3,702.2 391.3,702.2 393.3,702.3 395.3,702.3 397.3,702.3 399.3,702.3 401.3,702.3 403.3,702.3 405.3,702.4 407.3,702.4 409.3,702.4 411.3,702.4 413.3,702.4 415.3,702.4 417.3,702.4 419.4,702.5 421.4,702.5 423.4,702.5 425.4,702.5 427.4,702.5 429.4,702.5 431.4,702.6 433.4,702.6 435.4,702.6 437.4,702.6 439.4,702.7 441.4,702.7 443.4,702.7 445.4,702.7 447.4,702.8 449.4,702.8 451.4,702.8 453.4,702.9 455.4,702.9 457.4,703.0 459.4,703.0 461.4,703.0 463.4,703.1 465.4,703.1 467.4,703.2 469.4,703.2 471.4,703.3 473.4,703.3 475.4,703.4 477.4,703.5 479.4,703.5 481.4,703.6 483.4,703.7 485.4,703.7 487.4,703.8 489.4,703.9 491.4,703.9 493.4,704.0 495.4,704.1 497.4,704.1 499.4,704.2 501.4,704.3 503.4,704.4 505.4,704.4 507.4,704.5 509.5,704.6 511.5,704.7 513.5,704.8 515.5,704.9 517.5,705.0 519.5,705.1 521.5,705.2 523.5,705.3 525.5,705.4 527.5,705.5 529.5,705.6 531.5,705.7 533.5,705.8 535.5,705.9 537.5,706.1 539.5,706.2 541.5,706.3 543.5,706.5 545.5,706.6 547.5,706.8 549.5,706.9 551.5,707.1 553.5,707.3 555.5,707.4 557.5,707.6 559.5,707.8 561.5,708.0 563.5,708.2 565.5,708.4 567.5,708.6 569.5,708.8 571.5,709.1 573.5,709.3 575.5,709.5 577.5,709.7 579.5,710.0 581.5,710.2 583.5,710.4 585.5,710.6 587.5,710.9 589.5,711.1 591.5,711.3 593.5,711.5 595.5,711.7 597.5,711.9 599.5,712.1 601.6,712.3 603.6,712.5 605.6,712.7 607.6,712.9 609.6,713.1 611.6,713.3 613.6,713.4 615.6,713.6 617.6,713.7 619.6,713.9 621.6,714.0 623.6,714.2 625.6,714.3 627.6,714.4 629.6,714.5 631.6,714.6 633.6,714.8 635.6,714.9 637.6,715.0 639.6,715.1 641.6,715.2 643.6,715.2 645.6,715.3 647.6,715.4 649.6,715.5 651.6,715.6 653.6,715.7 655.6,715.7 657.6,715.8 659.6,715.9 661.6,716.0 663.6,716.1 665.6,716.1 667.6,716.2 669.6,716.3 671.6,716.4 673.6,716.5 675.6,716.6 677.6,716.7 679.6,716.8 681.6,716.9 683.6,717.0 685.6,717.2 687.6,717.3 689.6,717.5 691.7,717.6 693.7,717.8 695.7,717.9 697.7,718.1 699.7,718.3 701.7,718.5 703.7,718.7 705.7,718.9 707.7,719.1 709.7,719.4 711.7,719.6 713.7,719.9 715.7,720.1 717.7,720.4 719.7,720.6 721.7,720.9 723.7,721.2 725.7,721.5 727.7,721.7 729.7,722.0 731.7,722.3 733.7,722.6 735.7,722.8 737.7,723.1 739.7,723.3 741.7,723.6 743.7,723.8 745.7,724.1 747.7,724.3 749.7,724.5 751.7,724.7 753.7,724.9 755.7,725.1 757.7,725.3 759.7,725.5 761.7,725.6 763.7,725.8 765.7,725.9 767.7,726.0 769.7,726.2 771.7,726.3 773.7,726.4 775.7,726.5 777.7,726.5 779.7,726.6 781.8,726.7 783.8,726.7 785.8,726.8 787.8,726.8 789.8,726.9 791.8,726.9 793.8,727.0 795.8,727.0 797.8,727.0 799.8,727.1 801.8,727.1 803.8,727.1 805.8,727.1 807.8,727.1 809.8,727.1 811.8,727.2 813.8,727.2 815.8,727.2 817.8,727.2 819.8,727.2 821.8,727.2 823.8,727.2 825.8,727.2 827.8,727.2 829.8,727.2 831.8,727.2 833.8,727.2 835.8,727.2 837.8,727.2 839.8,727.2 841.8,727.2 843.8,727.2 845.8,727.2 847.8,727.2 849.8,727.2 851.8,727.2 853.8,727.2 855.8,727.2 857.8,727.2 859.8,727.2 861.8,727.2 863.8,727.2 865.8,727.2 867.8,727.3 869.8,727.3 871.8,727.3 873.9,727.3 875.9,727.3 877.9,727.3 879.9,727.3 881.9,727.3 883.9,727.3 885.9,727.3 887.9,727.3 889.9,727.3 891.9,727.3 893.9,727.3 895.9,727.3 897.9,727.3 899.9,727.3 901.9,727.3 903.9,727.3 905.9,727.3 907.9,727.3 909.9,727.3 911.9,727.3 913.9,727.3 915.9,727.3 917.9,727.3 919.9,727.3 921.9,727.3 923.9,727.3 925.9,727.3 927.9,727.3 929.9,727.3 931.9,727.3 933.9,727.3 935.9,727.3 937.9,727.3 939.9,727.3 941.9,727.3 943.9,727.3 945.9,727.3 947.9,727.3 949.9,727.3 951.9,727.3 953.9,727.3 955.9,727.3 957.9,727.3 959.9,727.3 961.9,727.3 964.0,727.3 966.0,727.3 968.0,727.3 970.0,727.3 972.0,727.3 974.0,727.3 976.0,727.3 978.0,727.3 980.0,727.3 982.0,727.3 984.0,727.3 986.0,727.3 988.0,727.3 990.0,727.3 992.0,727.3 994.0,727.3 996.0,727.3 998.0,727.3 1000.0,727.3 1002.0,727.3 1004.0,727.3 1006.0,727.3 1008.0,727.3"/>
<polyline points="101.0,701.1 103.0,701.1 105.0,701.1 107.0,701.1 109.0,701.1 111.0,701.1 113.0,701.0 115.0,701.0 117.0,701.0 119.0,701.0 121.0,701.0 123.0,701.0 125.0,701.0 127.0,701.0 129.0,701.0 131.0,701.0 133.0,701.0 135.0,701.0 137.0,701.0 139.0,701.0 141.0,701.0 143.0,701.0 145.0,701.0 147.1,701.0 149.1,701.0 151.1,701.0 153.1,701.0 155.1,701.0 157.1,701.0 159.1,701.0 161.1,701.0 163.1,701.0 165.1,701.0 167.1,701.0 169.1,701.0 171.1,701.0 173.1,701.0 175.1,701.0 177.1,701.0 179.1,701.0 181.1,701.0 183.1,701.0 185.1,701.0 187.1,701.0 189.1,701.0 191.1,701.0 193.1,701.0 195.1,701.0 197.1,701.0 199.1,701.0 201.1,701.0 203.1,701.0 205.1,701.0 207.1,701.0 209.1,701.0 211.1,701.0 213.1,701.0 215.1,701.0 217.1,701.0 219.1,701.0 221.1,701.0 223.1,701.0 225.1,701.0 227.1,701.0 229.1,701.0 231.1,701.0 233.1,701.0 235.1,701.0 237.2,701.0 239.2,701.0 241.2,701.0 243.2,701.0 245.2,701.0 247.2,701.0 249.2,701.0 251.2,701.0 253.2,701.0 255.2,701.0 257.2,701.0 259.2,701.0 261.2,701.0 263.2,701.0 265.2,701.0 267.2,700.9 269.2,700.9 271.2,700.9 273.2,700.9 275.2,700.9 277.2,700.9 279.2,700.9 281.2,700.9 283.2,700.9 285.2,700.9 287.2,700.9 289.2,700.9 291.2,700.9 293.2,700.9 295.2,700.9 297.2,700.9 299.2,700.9 301.2,700.9 303.2,700.9 305.2,700.9 307.2,700.9 309.2,700.9 311.2,700.9 313.2,700.9 315.2,700.9 317.2,700.9 319.2,700.9 321.2,700.9 323.2,700.9 325.2,700.9 327.2,700.9 329.3,700.9 331.3,701.0 333.3,701.0 335.3,701.0 337.3,701.0 339.3,701.0 341.3,701.0 343.3,701.0 345.3,701.0 347.3,701.1 349.3,701.1 351.3,701.1 353.3,701.1 355.3,701.1 357.3,701.1 359.3,701.2 361.3,701.2 363.3,701.2 365.3,701.2 367.3,701.2 369.3,701.2 371.3,701.3 373.3,701.3 375.3,701.3 377.3,701.3 379.3,701.3 381.3,701.3 383.3,701.4 385.3,701.4 387.3,701.4 389.3,701.4 391.3,701.4 393.3,701.4 395.3,701.4 397.3,701.4 399.3,701.4 401.3,701.4 403.3,701.4 405.3,701.4 407.3,701.4 409.3,701.4 411.3,701.4 413.3,701.4 415.3,701.4 417.3,701.4 419.4,701.4 421.4,701.5 423.4,701.5 425.4,701.5 427.4,701.5 429.4,701.5 431.4,701.5 433.4,701.5 435.4,701.5 437.4,701.5 439.4,701.5 441.4,701.5 443.4,701.5 445.4,701.5 447.4,701.6 449.4,701.6 451.4,701.6 453.4,701.6 455.4,701.6 457.4,701.7 459.4,701.7 461.4,701.7 463.4,701.7 465.4,701.8 467.4,701.8 469.4,701.8 471.4,701.8 473.4,701.9 475.4,701.9 477.4,701.9 479.4,702.0 481.4,702.0 483.4,702.1 485.4,702.1 487.4,702.1 489.4,702.2 491.4,702.2 493.4,702.3 495.4,702.3 497.4,702.4 499.4,702.4 501.4,702.4 503.4,702.5 505.4,702.5 507.4,702.6 509.5,702.6 511.5,702.7 513.5,702.7 515.5,702.8 517.5,702.8 519.5,702.9 521.5,702.9 523.5,703.0 525.5,703.1 527.5,703.1 529.5,703.2 531.5,703.3 533.5,703.3 535.5,703.4 537.5,703.5 539.5,703.5 541.5,703.6 543.5,703.7 545.5,703.8 547.5,703.9 549.5,704.0 551.5,704.1 553.5,704.2 555.5,704.3 557.5,704.4 559.5,704.5 561.5,704.7 563.5,704.8 565.5,704.9 567.5,705.0 569.5,705.2 571.5,705.3 573.5,705.4 575.5,705.5 577.5,705.7 579.5,705.8 581.5,705.9 583.5,706.0 585.5,706.1 587.5,706.2 589.5,706.3 591.5,706.4 593.5,706.5 595.5,706.5 597.5,706.6 599.5,706.6 601.6,706.6 603.6,706.7 605.6,706.6 607.6,706.6 609.6,706.6 611.6,706.5 613.6,706.4 615.6,706.3 617.6,706.1 619.6,705.9 621.6,705.7 623.6,705.4 625.6,705.1 627.6,704.7 629.6,704.3 631.6,703.8 633.6,703.3 635.6,702.6 637.6,701.9 639.6,701.1 641.6,700.1 643.6,699.1 645.6,697.9 647.6,696.5 649.6,695.0 651.6,693.4 653.6,691.5 655.6,689.4 657.6,687.2 659.6,684.6 661.6,681.9 663.6,678.8 665.6,675.6 667.6,672.0 669.6,668.1 671.6,663.9 673.6,659.5 675.6,654.7 677.6,649.6 679.6,644.2 681.6,638.5 683.6,632.6 685.6,626.3 687.6,619.9 689.6,613.2 691.7,606.3 693.7,599.3 695.7,592.2 697.7,585.0 699.7,577.8 701.7,570.6 703.7,563.6 705.7,556.7 707.7,550.1 709.7,543.8 711.7,538.0 713.7,532.6 715.7,527.8 717.7,523.7 719.7,520.4 721.7,517.8 723.7,516.1 725.7,515.4 727.7,515.5 729.7,516.5 731.7,518.3 733.7,520.8 735.7,524.2 737.7,528.3 739.7,533.0 741.7,538.4 743.7,544.3 745.7,550.7 747.7,557.5 749.7,564.7 751.7,572.2 753.7,579.8 755.7,587.7 757.7,595.6 759.7,603.5 761.7,611.3 763.7,619.1 765.7,626.7 767.7,634.1 769.7,641.2 771.7,648.2 773.7,654.8 775.7,661.0 777.7,667.0 779.7,672.6 781.8,677.8 783.8,682.7 785.8,687.3 787.8,691.4 789.8,695.3 791.8,698.8 793.8,702.0 795.8,704.9 797.8,707.5 799.8,709.8 801.8,711.9 803.8,713.8 805.8,715.4 807.8,716.9 809.8,718.2 811.8,719.3 813.8,720.3 815.8,721.2 817.8,721.9 819.8,722.5 821.8,723.1 823.8,723.6 825.8,724.0 827.8,724.3 829.8,724.6 831.8,724.9 833.8,725.1 835.8,725.3 837.8,725.5 839.8,725.6 841.8,725.7 843.8,725.8 845.8,725.9 847.8,726.0 849.8,726.0 851.8,726.1 853.8,726.2 855.8,726.2 857.8,726.2 859.8,726.3 861.8,726.3 863.8,726.4 865.8,726.4 867.8,726.4 869.8,726.4 871.8,726.5 873.9,726.5 875.9,726.5 877.9,726.5 879.9,726.5 881.9,726.6 883.9,726.6 885.9,726.6 887.9,726.6 889.9,726.6 891.9,726.6 893.9,726.7 895.9,726.7 897.9,726.7 899.9,726.7 901.9,726.7 903.9,726.7 905.9,726.7 907.9,726.8 909.9,726.8 911.9,726.8 913.9,726.8 915.9,726.8 917.9,726.8 919.9,726.8 921.9,726.8 923.9,726.8 925.9,726.8 927.9,726.9 929.9,726.9 931.9,726.9 933.9,726.9 935.9,726.9 937.9,726.9 939.9,726.9 941.9,726.9 943.9,726.9 945.9,726.9 947.9,726.9 949.9,726.9 951.9,726.9 953.9,727.0 955.9,727.0 957.9,727.0 959.9,727.0 961.9,727.0 964.0,727.0 966.0,727.0 968.0,727.0 970.0,727.0 972.0,727.0 974.0,727.0 976.0,727.0 978.0,727.0 980.0,727.0 982.0,727.0 984.0,727.0 986.0,727.0 988.0,727.0 990.0,727.0 992.0,727.1 994.0,727.1 996.0,727.1 998.0,727.1 1000.0,727.1 1002.0,727.1 1004.0,727.1 1006.0,727.1 1008.0,727.1"/>
<polyline points="101.0,700.9 103.0,700.9 105.0,700.9 107.0,700.9 109.0,700.9 111.0,700.9 113.0,700.9 115.0,700.9 117.0,700.9 119.0,700.9 121.0,700.9 123.0,700.9 125.0,700.9 127.0,700.9 129.0,700.9 131.0,700.9 133.0,700.9 135.0,700.9 137.0,700.9 139.0,700.9 141.0,700.9 143.0,700.9 145.0,700.8 147.1,700.8 149.1,700.8 151.1,700.8 153.1,700.8 155.1,700.8 157.1,700.8 159.1,700.8 161.1,700.8 163.1,700.8 165.1,700.8 167.1,700.8 169.1,700.8 171.1,700.8 173.1,700.8 175.1,700.8 177.1,700.8 179.1,700.8 181.1,700.8 183.1,700.8 185.1,700.8 187.1,700.8 189.1,700.8 191.1,700.8 193.1,700.8 195.1,700.7 197.1,700.7 199.1,700.7 201.1,700.7 203.1,700.7 205.1,700.7 207.1,700.7 209.1,700.7 211.1,700.7 213.1,700.7 215.1,700.7 217.1,700.7 219.1,700.7 221.1,700.7 223.1,700.7 225.1,700.7 227.1,700.7 229.1,700.6 231.1,700.6 233.1,700.6 235.1,700.6 237.2,700.6 239.2,700.6 241.2,700.6 243.2,700.6 245.2,700.6 247.2,700.6 249.2,700.6 251.2,700.6 253.2,700.6 255.2,700.5 257.2,700.5 259.2,700.5 261.2,700.5 263.2,700.5 265.2,700.5 267.2,700.5 269.2,700.5 271.2,700.5 273.2,700.5 275.2,700.5 277.2,700.4 279.2,700.4 281.2,700.4 283.2,700.4 285.2,700.4 287.2,700.4 289.2,700.4 291.2,700.4 293.2,700.4 295.2,700.3 297.2,700.3 299.2,700.3 301.2,700.3 303.2,700.3 305.2,700.3 307.2,700.3 309.2,700.3 311.2,700.2 313.2,700.2 315.2,700.2 317.2,700.2 319.2,700.2 321.2,700.2 323.2,700.2 325.2,700.2 327.2,700.2 329.3,700.1 331.3,700.1 333.3,700.1 335.3,700.1 337.3,700.1 339.3,700.1 341.3,700.1 343.3,700.1 345.3,700.1 347.3,700.1 349.3,700.1 351.3,700.1 353.3,700.1 355.3,700.1 357.3,700.1 359.3,700.1 361.3,700.0 363.3,700.0 365.3,700.0 367.3,700.0 369.3,700.0 371.3,700.0 373.3,700.0 375.3,700.0 377.3,700.0 379.3,699.9 381.3,699.9 383.3,699.9 385.3,699.9 387.3,699.8 389.3,699.8 391.3,699.8 393.3,699.7 395.3,699.7 397.3,699.7 399.3,699.6 401.3,699.6 403.3,699.5 405.3,699.5 407.3,699.4 409.3,699.4 411.3,699.3 413.3,699.3 415.3,699.2 417.3,699.2 419.4,699.1 421.4,699.0 423.4,699.0 425.4,698.9 427.4,698.8 429.4,698.7 431.4,698.7 433.4,698.6 435.4,698.5 437.4,698.4 439.4,698.3 441.4,698.2 443.4,698.1 445.4,698.0 447.4,697.9 449.4,697.8 451.4,697.7 453.4,697.5 455.4,697.4 457.4,697.3 459.4,697.1 461.4,696.9 463.4,696.8 465.4,696.6 467.4,696.4 469.4,696.1 471.4,695.9 473.4,695.6 475.4,695.3 477.4,695.0 479.4,694.6 481.4,694.2 483.4,693.7 485.4,693.2 487.4,692.6 489.4,691.9 491.4,691.2 493.4,690.4 495.4,689.5 497.4,688.5 499.4,687.4 501.4,686.2 503.4,684.9 505.4,683.4 507.4,681.7 509.5,679.9 511.5,677.9 513.5,675.8 515.5,673.4 517.5,670.9 519.5,668.1 521.5,665.1 523.5,662.0 525.5,658.6 527.5,654.9 529.5,651.1 531.5,647.1 533.5,642.8 535.5,638.3 537.5,633.7 539.5,628.9 541.5,623.9 543.5,618.9 545.5,613.7 547.5,608.4 549.5,603.2 551.5,597.9 553.5,592.7 555.5,587.6 557.5,582.6 559.5,577.9 561.5,573.5 563.5,569.4 565.5,565.7 567.5,562.5 569.5,559.9 571.5,557.8 573.5,556.4 575.5,555.7 577.5,555.6 579.5,556.2 581.5,557.4 583.5,559.2 585.5,561.6 587.5,564.5 589.5,568.0 591.5,571.8 593.5,576.2 595.5,580.9 597.5,585.9 599.5,591.2 601.6,596.7 603.6,602.4 605.6,608.2 607.6,614.1 609.6,620.0 611.6,625.9 613.6,631.8 615.6,637.5 617.6,643.1 619.6,648.6 621.6,653.8 623.6,658.9 625.6,663.7 627.6,668.3 629.6,672.6 631.6,676.6 633.6,680.4 635.6,684.0 637.6,687.2 639.6,690.3 641.6,693.0 643.6,695.6 645.6,697.9 647.6,700.0 649.6,701.9 651.6,703.6 653.6,705.1 655.6,706.5 657.6,707.7 659.6,708.8 661.6,709.7 663.6,710.6 665.6,711.3 667.6,712.0 669.6,712.6 671.6,713.1 673.6,713.6 675.6,714.0 677.6,714.4 679.6,714.8 681.6,715.1 683.6,715.4 685.6,715.7 687.6,715.9 689.6,716.2 691.7,716.4 693.7,716.7 695.7,716.9 697.7,717.1 699.7,717.4 701.7,717.6 703.7,717.9 705.7,718.1 707.7,718.4 709.7,718.6 711.7,718.9 713.7,719.2 715.7,719.5 717.7,719.7 719.7,720.0 721.7,720.3 723.7,720.6 725.7,720.9 727.7,721.2 729.7,721.5 731.7,721.8 733.7,722.0 735.7,722.3 737.7,722.6 739.7,722.9 741.7,723.1 743.7,723.4 745.7,723.6 747.7,723.9 749.7,724.1 751.7,724.3 753.7,724.5 755.7,724.7 757.7,724.9 759.7,725.1 761.7,725.2 763.7,725.4 765.7,725.5 767.7,725.7 769.7,725.8 771.7,725.9 773.7,726.0 775.7,726.1 777.7,726.2 779.7,726.3 781.8,726.4 783.8,726.4 785.8,726.5 787.8,726.6 789.8,726.6 791.8,726.7 793.8,726.7 795.8,726.7 797.8,726.8 799.8,726.8 801.8,726.8 803.8,726.8 805.8,726.9 807.8,726.9 809.8,726.9 811.8,726.9 813.8,726.9 815.8,726.9 817.8,727.0 819.8,727.0 821.8,727.0 823.8,727.0 825.8,727.0 827.8,727.0 829.8,727.0 831.8,727.0 833.8,727.0 835.8,727.0 837.8,727.0 839.8,727.0 841.8,727.0 843.8,727.0 845.8,727.1 847.8,727.1 849.8,727.1 851.8,727.1 853.8,727.1 855.8,727.1 857.8,727.1 859.8,727.1 861.8,727.1 863.8,727.1 865.8,727.1 867.8,727.1 869.8,727.1 871.8,727.1 873.9,727.1 875.9,727.1 877.9,727.1 879.9,727.1 881.9,727.1 883.9,727.1 885.9,727.1 887.9,727.1 889.9,727.1 891.9,727.1 893.9,727.1 895.9,727.1 897.9,727.1 899.9,727.1 901.9,727.1 903.9,727.1 905.9,727.1 907.9,727.2 909.9,727.2 911.9,727.2 913.9,727.2 915.9,727.2 917.9,727.2 919.9,727.2 921.9,727.2 923.9,727.2 925.9,727.2 927.9,727.2 929.9,727.2 931.9,727.2 933.9,727.2 935.9,727.2 937.9,727.2 939.9,727.2 941.9,727.2 943.9,727.2 945.9,727.2 947.9,727.2 949.9,727.2 951.9,727.2 953.9,727.2 955.9,727.2 957.9,727.2 959.9,727.2 961.9,727.2 964.0,727.2 966.0,727.2 968.0,727.2 970.0,727.2 972.0,727.2 974.0,727.2 976.0,727.2 978.0,727.2 980.0,727.2 982.0,727.2 984.0,727.2 986.0,727.2 988.0,727.2 990.0,727.2 992.0,727.2 994.0,727.2 996.0,727.2 998.0,727.2 1000.0,727.2 1002.0,727.2 1004.0,727.2 1006.0,727.2 1008.0,727.2"/>
<polyline points="101.0,701.3 103.0,701.3 105.0,701.3 107.0,701.3 109.0,701.3 111.0,701.3 113.0,701.3 115.0,701.3 117.0,701.3 119.0,701.3 121.0,701.3 123.0,701.3 125.0,701.3 127.0,701.3 129.0,701.3 131.0,701.3 133.0,701.3 135.0,701.3 137.0,701.3 139.0,701.3 141.0,701.3 143.0,701.3 145.0,701.3 147.1,701.3 149.1,701.3 151.1,701.3 153.1,701.3 155.1,701.3 157.1,701.3 159.1,701.3 161.1,701.3 163.1,701.3 165.1,701.3 167.1,701.3 169.1,701.3 171.1,701.3 173.1,701.3 175.1,701.3 177.1,701.3 179.1,701.3 181.1,701.3 183.1,701.3 185.1,701.3 187.1,701.3 189.1,701.3 191.1,701.3 193.1,701.3 195.1,701.3 197.1,701.3 199.1,701.4 201.1,701.4 203.1,701.4 205.1,701.4 207.1,701.4 209.1,701.4 211.1,701.4 213.1,701.4 215.1,701.4 217.1,701.4 219.1,701.4 221.1,701.4 223.1,701.4 225.1,701.4 227.1,701.4 229.1,701.4 231.1,701.4 233.1,701.4 235.1,701.4 237.2,701.4 239.2,701.4 241.2,701.4 243.2,701.4 245.2,701.4 247.2,701.4 249.2,701.4 251.2,701.4 253.2,701.4 255.2,701.4 257.2,701.4 259.2,701.4 261.2,701.4 263.2,701.4 265.2,701.4 267.2,701.4 269.2,701.4 271.2,701.4 273.2,701.4 275.2,701.4 277.2,701.4 279.2,701.4 281.2,701.4 283.2,701.4 285.2,701.4 287.2,701.4 289.2,701.4 291.2,701.4 293.2,701.4 295.2,701.4 297.2,701.4 299.2,701.4 301.2,701.4 303.2,701.4 305.2,701.5 307.2,701.5 309.2,701.5 311.2,701.5 313.2,701.5 315.2,701.5 317.2,701.5 319.2,701.5 321.2,701.5 323.2,701.5 325.2,701.5 327.2,701.5 329.3,701.6 331.3,701.6 333.3,701.6 335.3,701.6 337.3,701.6 339.3,701.6 341.3,701.7 343.3,701.7 345.3,701.7 347.3,701.7 349.3,701.7 351.3,701.8 353.3,701.8 355.3,701.8 357.3,701.8 359.3,701.9 361.3,701.9 363.3,701.9 365.3,701.9 367.3,702.0 369.3,702.0 371.3,702.0 373.3,702.0 375.3,702.1 377.3,702.1 379.3,702.1 381.3,702.1 383.3,702.2 385.3,702.2 387.3,702.2 389.3,702.2 391.3,702.2 393.3,702.3 395.3,702.3 397.3,702.3 399.3,702.3 401.3,702.3 403.3,702.3 405.3,702.4 407.3,702.4 409.3,702.4 411.3,702.4 413.3,702.4 415.3,702.4 417.3,702.4 419.4,702.5 421.4,702.5 423.4,702.5 425.4,702.5 427.4,702.5 429.4,702.5 431.4,702.6 433.4,702.6 435.4,702.6 437.4,702.6 439.4,702.7 441.4,702.7 443.4,702.7 445.4,702.7 447.4,702.8 449.4,702.8 451.4,702.8 453.4,702.9 455.4,702.9 457.4,703.0 459.4,703.0 461.4,703.0 463.4,703.1 465.4,703.1 467.4,703.2 469.4,703.2 471.4,703.3 473.4,703.3 475.4,703.4 477.4,703.5 479.4,703.5 481.4,703.6 483.4,703.7 485.4,703.7 487.4,703.8 489.4,703.8 491.4,703.9 493.4,704.0 495.4,704.1 497.4,704.1 499.4,704.2 501.4,704.3 503.4,704.4 505.4,704.4 507.4,704.5 509.5,704.6 511.5,704.7 513.5,704.7 515.5,704.8 517.5,704.9 519.5,705.0 521.5,705.1 523.5,705.1 525.5,705.2 527.5,705.3 529.5,705.3 531.5,705.4 533.5,705.5 535.5,705.5 537.5,705.5 539.5,705.6 541.5,705.6 543.5,705.6 545.5,705.6 547.5,705.5 549.5,705.5 551.5,705.4 553.5,705.3 555.5,705.1 557.5,704.9 559.5,704.7 561.5,704.4 563.5,704.1 565.5,703.7 567.5,703.3 569.5,702.8 571.5,702.2 573.5,701.6 575.5,700.9 577.5,700.2 579.5,699.4 581.5,698.5 583.5,697.5 585.5,696.6 587.5,695.5 589.5,694.4 591.5,693.3 593.5,692.1 595.5,690.9 597.5,689.7 599.5,688.5 601.6,687.3 603.6,686.2 605.6,685.0 607.6,683.9 609.6,682.9 611.6,682.0 613.6,681.1 615.6,680.4 617.6,679.7 619.6,679.2 621.6,678.8 623.6,678.5 625.6,678.4 627.6,678.4 629.6,678.6 631.6,678.9 633.6,679.3 635.6,679.9 637.6,680.6 639.6,681.5 641.6,682.5 643.6,683.5 645.6,684.7 647.6,685.9 649.6,687.3 651.6,688.6 653.6,690.1 655.6,691.5 657.6,693.0 659.6,694.5 661.6,696.0 663.6,697.5 665.6,698.9 667.6,700.3 669.6,701.7 671.6,703.0 673.6,704.3 675.6,705.5 677.6,706.7 679.6,707.8 681.6,708.9 683.6,709.9 685.6,710.8 687.6,711.7 689.6,712.5 691.7,713.2 693.7,713.9 695.7,714.6 697.7,715.2 699.7,715.8 701.7,716.4 703.7,716.9 705.7,717.4 707.7,717.8 709.7,718.3 711.7,718.7 713.7,719.1 715.7,719.5 717.7,719.8 719.7,720.2 721.7,720.5 723.7,720.9 725.7,721.2 727.7,721.5 729.7,721.8 731.7,722.2 733.7,722.4 735.7,722.7 737.7,723.0 739.7,723.3 741.7,723.6 743.7,723.8 745.7,724.0 747.7,724.3 749.7,724.5 751.7,724.7 753.7,724.9 755.7,725.1 757.7,725.3 759.7,725.5 761.7,725.6 763.7,725.8 765.7,725.9 767.7,726.0 769.7,726.2 771.7,726.3 773.7,726.4 775.7,726.5 777.7,726.5 779.7,726.6 781.8,726.7 783.8,726.7 785.8,726.8 787.8,726.8 789.8,726.9 791.8,726.9 793.8,727.0 795.8,727.0 797.8,727.0 799.8,727.1 801.8,727.1 803.8,727.1 805.8,727.1 807.8,727.1 809.8,727.1 811.8,727.2 813.8,727.2 815.8,727.2 817.8,727.2 819.8,727.2 821.8,727.2 823.8,727.2 825.8,727.2 827.8,727.2 829.8,727.2 831.8,727.2 833.8,727.2 835.8,727.2 837.8,727.2 839.8,727.2 841.8,727.2 843.8,727.2 845.8,727.2 847.8,727.2 849.8,727.2 851.8,727.2 853.8,727.2 855.8,727.2 857.8,727.2 859.8,727.2 861.8,727.2 863.8,727.2 865.8,727.2 867.8,727.3 869.8,727.3 871.8,727.3 873.9,727.3 875.9,727.3 877.9,727.3 879.9,727.3 881.9,727.3 883.9,727.3 885.9,727.3 887.9,727.3 889.9,727.3 891.9,727.3 893.9,727.3 895.9,727.3 897.9,727.3 899.9,727.3 901.9,727.3 903.9,727.3 905.9,727.3 907.9,727.3 909.9,727.3 911.9,727.3 913.9,727.3 915.9,727.3 917.9,727.3 919.9,727.3 921.9,727.3 923.9,727.3 925.9,727.3 927.9,727.3 929.9,727.3 931.9,727.3 933.9,727.3 935.9,727.3 937.9,727.3 939.9,727.3 941.9,727.3 943.9,727.3 945.9,727.3 947.9,727.3 949.9,727.3 951.9,727.3 953.9,727.3 955.9,727.3 957.9,727.3 959.9,727.3 961.9,727.3 964.0,727.3 966.0,727.3 968.0,727.3 970.0,727.3 972.0,727.3 974.0,727.3 976.0,727.3 978.0,727.3 980.0,727.3 982.0,727.3 984.0,727.3 986.0,727.3 988.0,727.3 990.0,727.3 992.0,727.3 994.0,727.3 996.0,727.3 998.0,727.3 1000.0,727.3 1002.0,727.3 1004.0,727.3 1006.0,727.3 1008.0,727.3"/>
<polyline points="101.0,701.3 103.0,701.3 105.0,701.3 107.0,701.3 109.0,701.3 111.0,701.3 113.0,701.3 115.0,701.3 117.0,701.3 119.0,701.3 121.0,701.3 123.0,701.3 125.0,701.3 127.0,701.3 129.0,701.3 131.0,701.3 133.0,701.3 135.0,701.3 137.0,701.3 139.0,701.3 141.0,701.3 143.0,701.3 145.0,701.3 147.1,701.3 149.1,701.3 151.1,701.3 153.1,701.3 155.1,701.3 157.1,701.3 159.1,701.3 161.1,701.3 163.1,701.3 165.1,701.3 167.1,701.3 169.1,701.3 171.1,701.3 173.1,701.3 175.1,701.3 177.1,701.3 179.1,701.3 181.1,701.3 183.1,701.3 185.1,701.3 187.1,701.3 189.1,701.3 191.1,701.3 193.1,701.3 195.1,701.3 197.1,701.3 199.1,701.4 201.1,701.4 203.1,701.4 205.1,701.4 207.1,701.4 209.1,701.4 211.1,701.4 213.1,701.4 215.1,701.4 217.1,701.4 219.1,701.4 221.1,701.4 223.1,701.4 225.1,701.4 227.1,701.4 229.1,701.4 231.1,701.4 233.1,701.4 235.1,701.4 237.2,701.4 239.2,701.4 241.2,701.4 243.2,701.4 245.2,701.4 247.2,701.4 249.2,701.4 251.2,701.4 253.2,701.4 255.2,701.4 257.2,701.4 259.2,701.4 261.2,701.4 263.2,701.4 265.2,701.4 267.2,701.4 269.2,701.4 271.2,701.4 273.2,701.4 275.2,701.4 277.2,701.4 279.2,701.4 281.2,701.4 283.2,701.4 285.2,701.4 287.2,701.4 289.2,701.4 291.2,701.4 293.2,701.4 295.2,701.4 297.2,701.4 299.2,701.4 301.2,701.4 303.2,701.4 305.2,701.5 307.2,701.5 309.2,701.5 311.2,701.5 313.2,701.5 315.2,701.5 317.2,701.5 319.2,701.5 321.2,701.5 323.2,701.5 325.2,701.5 327.2,701.5 329.3,701.6 331.3,701.6 333.3,701.6 335.3,701.6 337.3,701.6 339.3,701.6 341.3,701.6 343.3,701.7 345.3,701.7 347.3,701.7 349.3,701.7 351.3,701.7 353.3,701.8 355.3,701.8 357.3,701.8 359.3,701.8 361.3,701.8 363.3,701.9 365.3,701.9 367.3,701.9 369.3,701.9 371.3,701.9 373.3,701.9 375.3,701.9 377.3,701.8 379.3,701.8 381.3,701.8 383.3,701.7 385.3,701.7 387.3,701.6 389.3,701.5 391.3,701.4 393.3,701.3 395.3,701.1 397.3,701.0 399.3,700.8 401.3,700.6 403.3,700.3 405.3,700.0 407.3,699.7 409.3,699.4 411.3,699.0 413.3,698.6 415.3,698.1 417.3,697.7 419.4,697.1 421.4,696.5 423.4,695.9 425.4,695.3 427.4,694.6 429.4,693.8 431.4,693.0 433.4,692.2 435.4,691.4 437.4,690.5 439.4,689.7 441.4,688.8 443.4,687.9 445.4,687.0 447.4,686.1 449.4,685.2 451.4,684.3 453.4,683.4 455.4,682.6 457.4,681.9 459.4,681.1 461.4,680.5 463.4,679.9 465.4,679.3 467.4,678.9 469.4,678.5 471.4,678.3 473.4,678.1 475.4,678.0 477.4,678.0 479.4,678.1 481.4,678.2 483.4,678.5 485.4,678.9 487.4,679.4 489.4,679.9 491.4,680.5 493.4,681.2 495.4,682.0 497.4,682.8 499.4,683.7 501.4,684.6 503.4,685.6 505.4,686.5 507.4,687.5 509.5,688.6 511.5,689.6 513.5,690.6 515.5,691.6 517.5,692.6 519.5,693.6 521.5,694.6 523.5,695.5 525.5,696.4 527.5,697.3 529.5,698.1 531.5,698.9 533.5,699.7 535.5,700.4 537.5,701.1 539.5,701.8 541.5,702.4 543.5,703.0 545.5,703.5 547.5,704.0 549.5,704.5 551.5,705.0 553.5,705.4 555.5,705.9 557.5,706.3 559.5,706.6 561.5,707.0 563.5,707.3 565.5,707.7 567.5,708.0 569.5,708.3 571.5,708.6 573.5,708.9 575.5,709.2 577.5,709.5 579.5,709.7 581.5,710.0 583.5,710.3 585.5,710.5 587.5,710.8 589.5,711.0 591.5,711.2 593.5,711.5 595.5,711.7 597.5,711.9 599.5,712.1 601.6,712.3 603.6,712.5 605.6,712.7 607.6,712.9 609.6,713.1 611.6,713.2 613.6,713.4 615.6,713.6 617.6,713.7 619.6,713.9 621.6,714.0 623.6,714.1 625.6,714.3 627.6,714.4 629.6,714.5 631.6,714.6 633.6,714.8 635.6,714.9 637.6,715.0 639.6,715.1 641.6,715.2 643.6,715.2 645.6,715.3 647.6,715.4 649.6,715.5 651.6,715.6 653.6,715.7 655.6,715.7 657.6,715.8 659.6,715.9 661.6,716.0 663.6,716.1 665.6,716.1 667.6,716.2 669.6,716.3 671.6,716.4 673.6,716.5 675.6,716.6 677.6,716.7 679.6,716.8 681.6,716.9 683.6,717.0 685.6,717.2 687.6,717.3 689.6,717.5 691.7,717.6 693.7,717.8 695.7,717.9 697.7,718.1 699.7,718.3 701.7,718.5 703.7,718.7 705.7,718.9 707.7,719.1 709.7,719.4 711.7,719.6 713.7,719.9 715.7,720.1 717.7,720.4 719.7,720.6 721.7,720.9 723.7,721.2 725.7,721.5 727.7,721.7 729.7,722.0 731.7,722.3 733.7,722.6 735.7,722.8 737.7,723.1 739.7,723.3 741.7,723.6 743.7,723.8 745.7,724.1 747.7,724.3 749.7,724.5 751.7,724.7 753.7,724.9 755.7,725.1 757.7,725.3 759.7,725.5 761.7,725.6 763.7,725.8 765.7,725.9 767.7,726.0 769.7,726.2 771.7,726.3 773.7,726.4 775.7,726.5 777.7,726.5 779.7,726.6 781.8,726.7 783.8,726.7 785.8,726.8 787.8,726.8 789.8,726.9 791.8,726.9 793.8,727.0 795.8,727.0 797.8,727.0 799.8,727.1 801.8,727.1 803.8,727.1 805.8,727.1 807.8,727.1 809.8,727.1 811.8,727.2 813.8,727.2 815.8,727.2 817.8,727.2 819.8,727.2 821.8,727.2 823.8,727.2 825.8,727.2 827.8,727.2 829.8,727.2 831.8,727.2 833.8,727.2 835.8,727.2 837.8,727.2 839.8,727.2 841.8,727.2 843.8,727.2 845.8,727.2 847.8,727.2 849.8,727.2 851.8,727.2 853.8,727.2 855.8,727.2 857.8,727.2 859.8,727.2 861.8,727.2 863.8,727.2 865.8,727.2 867.8,727.3 869.8,727.3 871.8,727.3 873.9,727.3 875.9,727.3 877.9,727.3 879.9,727.3 881.9,727.3 883.9,727.3 885.9,727.3 887.9,727.3 889.9,727.3 891.9,727.3 893.9,727.3 895.9,727.3 897.9,727.3 899.9,727.3 901.9,727.3 903.9,727.3 905.9,727.3 907.9,727.3 909.9,727.3 911.9,727.3 913.9,727.3 915.9,727.3 917.9,727.3 919.9,727.3 921.9,727.3 923.9,727.3 925.9,727.3 927.9,727.3 929.9,727.3 931.9,727.3 933.9,727.3 935.9,727.3 937.9,727.3 939.9,727.3 941.9,727.3 943.9,727.3 945.9,727.3 947.9,727.3 949.9,727.3 951.9,727.3 953.9,727.3 955.9,727.3 957.9,727.3 959.9,727.3 961.9,727.3 964.0,727.3 966.0,727.3 968.0,727.3 970.0,727.3 972.0,727.3 974.0,727.3 976.0,727.3 978.0,727.3 980.0,727.3 982.0,727.3 984.0,727.3 986.0,727.3 988.0,727.3 990.0,727.3 992.0,727.3 994.0,727.3 996.0,727.3 998.0,727.3 1000.0,727.3 1002.0,727.3 1004.0,727.3 1006.0,727.3 1008.0,727.3"/>
<polyline points="101.0,701.3 103.0,701.3 105.0,701.3 107.0,701.3 109.0,701.3 111.0,701.3 113.0,701.3 115.0,701.3 117.0,701.3 119.0,701.3 121.0,701.3 123.0,701.3 125.0,701.3 127.0,701.3 129.0,701.3 131.0,701.3 133.0,701.3 135.0,701.3 137.0,701.3 139.0,701.3 141.0,701.3 143.0,701.3 145.0,701.3 147.1,701.3 149.1,701.3 151.1,701.3 153.1,701.3 155.1,701.3 157.1,701.3 159.1,701.3 161.1,701.3 163.1,701.3 165.1,701.3 167.1,701.3 169.1,701.3 171.1,701.3 173.1,701.3 175.1,701.3 177.1,701.3 179.1,701.3 181.1,701.3 183.1,701.3 185.1,701.3 187.1,701.3 189.1,701.3 191.1,701.3 193.1,701.3 195.1,701.3 197.1,701.3 199.1,701.4 201.1,701.4 203.1,701.4 205.1,701.4 207.1,701.4 209.1,701.4 211.1,701.4 213.1,701.4 215.1,701.4 217.1,701.4 219.1,701.4 221.1,701.4 223.1,701.4 225.1,701.4 227.1,701.4 229.1,701.4 231.1,701.4 233.1,701.4 235.1,701.4 237.2,701.4 239.2,701.4 241.2,701.4 243.2,701.4 245.2,701.4 247.2,701.4 249.2,701.4 251.2,701.4 253.2,701.4 255.2,701.4 257.2,701.4 259.2,701.4 261.2,701.4 263.2,701.4 265.2,701.4 267.2,701.4 269.2,701.4 271.2,701.4 273.2,701.4 275.2,701.4 277.2,701.4 279.2,701.4 281.2,701.4 283.2,701.4 285.2,701.4 287.2,701.4 289.2,701.4 291.2,701.4 293.2,701.4 295.2,701.4 297.2,701.4 299.2,701.4 301.2,701.4 303.2,701.4 305.2,701.5 307.2,701.5 309.2,701.5 311.2,701.5 313.2,701.5 315.2,701.5 317.2,701.5 319.2,701.5 321.2,701.5 323.2,701.5 325.2,701.5 327.2,701.5 329.3,701.6 331.3,701.6 333.3,701.6 335.3,701.6 337.3,701.6 339.3,701.6 341.3,701.7 343.3,701.7 345.3,701.7 347.3,701.7 349.3,701.7 351.3,701.8 353.3,701.8 355.3,701.8 357.3,701.8 359.3,701.9 361.3,701.9 363.3,701.9 365.3,701.9 367.3,702.0 369.3,702.0 371.3,702.0 373.3,702.0 375.3,702.1 377.3,702.1 379.3,702.1 381.3,702.1 383.3,702.2 385.3,702.2 387.3,702.2 389.3,702.2 391.3,702.2 393.3,702.3 395.3,702.3 397.3,702.3 399.3,702.3 401.3,702.3 403.3,702.3 405.3,702.3 407.3,702.3 409.3,702.3 411.3,702.3 413.3,702.3 415.3,702.3 417.3,702.3 419.4,702.3 421.4,702.3 423.4,702.3 425.4,702.3 427.4,702.3 429.4,702.2 431.4,702.2 433.4,702.1 435.4,702.0 437.4,702.0 439.4,701.9 441.4,701.7 443.4,701.6 445.4,701.4 447.4,701.2 449.4,701.0 451.4,700.8 453.4,700.5 455.4,700.2 457.4,699.8 459.4,699.5 461.4,699.0 463.4,698.6 465.4,698.1 467.4,697.5 469.4,697.0 471.4,696.3 473.4,695.7 475.4,695.0 477.4,694.3 479.4,693.5 481.4,692.8 483.4,692.0 485.4,691.2 487.4,690.4 489.4,689.7 491.4,688.9 493.4,688.2 495.4,687.5 497.4,686.8 499.4,686.2 501.4,685.6 503.4,685.1 505.4,684.7 507.4,684.4 509.5,684.1 511.5,683.9 513.5,683.9 515.5,683.9 517.5,684.0 519.5,684.2 521.5,684.5 523.5,684.9 525.5,685.4 527.5,685.9 529.5,686.6 531.5,687.3 533.5,688.1 535.5,688.9 537.5,689.8 539.5,690.7 541.5,691.7 543.5,692.7 545.5,693.7 547.5,694.7 549.5,695.7 551.5,696.7 553.5,697.6 555.5,698.6 557.5,699.6 559.5,700.5 561.5,701.4 563.5,702.2 565.5,703.0 567.5,703.8 569.5,704.6 571.5,705.3 573.5,705.9 575.5,706.6 577.5,707.2 579.5,707.7 581.5,708.3 583.5,708.8 585.5,709.2 587.5,709.6 589.5,710.0 591.5,710.4 593.5,710.8 595.5,711.1 597.5,711.4 599.5,711.7 601.6,712.0 603.6,712.2 605.6,712.5 607.6,712.7 609.6,712.9 611.6,713.1 613.6,713.3 615.6,713.5 617.6,713.7 619.6,713.8 621.6,714.0 623.6,714.1 625.6,714.3 627.6,714.4 629.6,714.5 631.6,714.6 633.6,714.7 635.6,714.8 637.6,715.0 639.6,715.1 641.6,715.1 643.6,715.2 645.6,715.3 647.6,715.4 649.6,715.5 651.6,715.6 653.6,715.7 655.6,715.7 657.6,715.8 659.6,715.9 661.6,716.0 663.6,716.1 665.6,716.1 667.6,716.2 669.6,716.3 671.6,716.4 673.6,716.5 675.6,716.6 677.6,716.7 679.6,716.8 681.6,716.9 683.6,717.0 685.6,717.2 687.6,717.3 689.6,717.5 691.7,717.6 693.7,717.8 695.7,717.9 697.7,718.1 699.7,718.3 701.7,718.5 703.7,718.7 705.7,718.9 707.7,719.1 709.7,719.4 711.7,719.6 713.7,719.9 715.7,720.1 717.7,720.4 719.7,720.6 721.7,720.9 723.7,721.2 725.7,721.5 727.7,721.7 729.7,722.0 731.7,722.3 733.7,722.6 735.7,722.8 737.7,723.1 739.7,723.3 741.7,723.6 743.7,723.8 745.7,724.1 747.7,724.3 749.7,724.5 751.7,724.7 753.7,724.9 755.7,725.1 757.7,725.3 759.7,725.5 761.7,725.6 763.7,725.8 765.7,725.9 767.7,726.0 769.7,726.2 771.7,726.3 773.7,726.4 775.7,726.5 777.7,726.5 779.7,726.6 781.8,726.7 783.8,726.7 785.8,726.8 787.8,726.8 789.8,726.9 791.8,726.9 793.8,727.0 795.8,727.0 797.8,727.0 799.8,727.1 801.8,727.1 803.8,727.1 805.8,727.1 807.8,727.1 809.8,727.1 811.8,727.2 813.8,727.2 815.8,727.2 817.8,727.2 819.8,727.2 821.8,727.2 823.8,727.2 825.8,727.2 827.8,727.2 829.8,727.2 831.8,727.2 833.8,727.2 835.8,727.2 837.8,727.2 839.8,727.2 841.8,727.2 843.8,727.2 845.8,727.2 847.8,727.2 849.8,727.2 851.8,727.2 853.8,727.2 855.8,727.2 857.8,727.2 859.8,727.2 861.8,727.2 863.8,727.2 865.8,727.2 867.8,727.3 869.8,727.3 871.8,727.3 873.9,727.3 875.9,727.3 877.9,727.3 879.9,727.3 881.9,727.3 883.9,727.3 885.9,727.3 887.9,727.3 889.9,727.3 891.9,727.3 893.9,727.3 895.9,727.3 897.9,727.3 899.9,727.3 901.9,727.3 903.9,727.3 905.9,727.3 907.9,727.3 909.9,727.3 911.9,727.3 913.9,727.3 915.9,727.3 917.9,727.3 919.9,727.3 921.9,727.3 923.9,727.3 925.9,727.3 927.9,727.3 929.9,727.3 931.9,727.3 933.9,727.3 935.9,727.3 937.9,727.3 939.9,727.3 941.9,727.3 943.9,727.3 945.9,727.3 947.9,727.3 949.9,727.3 951.9,727.3 953.9,727.3 955.9,727.3 957.9,727.3 959.9,727.3 961.9,727.3 964.0,727.3 966.0,727.3 968.0,727.3 970.0,727.3 972.0,727.3 974.0,727.3 976.0,727.3 978.0,727.3 980.0,727.3 982.0,727.3 984.0,727.3 986.0,727.3 988.0,727.3 990.0,727.3 992.0,727.3 994.0,727.3 996.0,727.3 998.0,727.3 1000.0,727.3 1002.0,727.3 1004.0,727.3 1006.0,727.3 1008.0,727.3"/>
<polyline points="101.0,701.3 103.0,701.3 105.0,701.3 107.0,701.3 109.0,701.3 111.0,701.3 113.0,701.3 115.0,701.3 117.0,701.3 119.0,701.3 121.0,701.3 123.0,701.3 125.0,701.3 127.0,701.3 129.0,701.3 131.0,701.3 133.0,701.3 135.0,701.3 137.0,701.3 139.0,701.3 141.0,701.3 143.0,701.3 145.0,701.3 147.1,701.3 149.1,701.3 151.1,701.3 153.1,701.3 155.1,701.3 157.1,701.3 159.1,701.3 161.1,701.3 163.1,701.3 165.1,701.3 167.1,701.3 169.1,701.3 171.1,701.3 173.1,701.3 175.1,701.3 177.1,701.3 179.1,701.3 181.1,701.3 183.1,701.3 185.1,701.3 187.1,701.3 189.1,701.3 191.1,701.3 193.1,701.3 195.1,701.3 197.1,701.3 199.1,701.4 201.1,701.4 203.1,701.4 205.1,701.4 207.1,701.4 209.1,701.4 211.1,701.4 213.1,701.4 215.1,701.4 217.1,701.4 219.1,701.4 221.1,701.4 223.1,701.4 225.1,701.4 227.1,701.4 229.1,701.4 231.1,701.4 233.1,701.4 235.1,701.4 237.2,701.4 239.2,701.4 241.2,701.4 243.2,701.4 245.2,701.4 247.2,701.4 249.2,701.4 251.2,701.4 253.2,701.4 255.2,701.4 257.2,701.4 259.2,701.4 261.2,701.4 263.2,701.4 265.2,701.4 267.2,701.4 269.2,701.4 271.2,701.4 273.2,701.3 275.2,701.3 277.2,701.3 279.2,701.3 281.2,701.2 283.2,701.2 285.2,701.1 287.2,701.1 289.2,701.0 291.2,700.9 293.2,700.8 295.2,700.7 297.2,700.5 299.2,700.4 301.2,700.2 303.2,699.9 305.2,699.7 307.2,699.4 309.2,699.0 311.2,698.7 313.2,698.3 315.2,697.8 317.2,697.3 319.2,696.8 321.2,696.2 323.2,695.6 325.2,695.0 327.2,694.3 329.3,693.6 331.3,692.9 333.3,692.1 335.3,691.4 337.3,690.6 339.3,689.9 341.3,689.2 343.3,688.5 345.3,687.8 347.3,687.2 349.3,686.7 351.3,686.2 353.3,685.7 355.3,685.4 357.3,685.2 359.3,685.0 361.3,684.9 363.3,684.9 365.3,685.0 367.3,685.2 369.3,685.5 371.3,685.9 373.3,686.4 375.3,686.9 377.3,687.5 379.3,688.1 381.3,688.8 383.3,689.5 385.3,690.3 387.3,691.1 389.3,691.8 391.3,692.6 393.3,693.4 395.3,694.2 397.3,694.9 399.3,695.6 401.3,696.3 403.3,696.9 405.3,697.5 407.3,698.1 409.3,698.6 411.3,699.1 413.3,699.5 415.3,699.9 417.3,700.3 419.4,700.6 421.4,700.9 423.4,701.1 425.4,701.4 427.4,701.6 429.4,701.7 431.4,701.9 433.4,702.0 435.4,702.2 437.4,702.3 439.4,702.4 441.4,702.4 443.4,702.5 445.4,702.6 447.4,702.7 449.4,702.7 451.4,702.8 453.4,702.8 455.4,702.9 457.4,702.9 459.4,703.0 461.4,703.0 463.4,703.1 465.4,703.1 467.4,703.2 469.4,703.2 471.4,703.3 473.4,703.3 475.4,703.4 477.4,703.5 479.4,703.5 481.4,703.6 483.4,703.6 485.4,703.7 487.4,703.8 489.4,703.9 491.4,703.9 493.4,704.0 495.4,704.1 497.4,704.1 499.4,704.2 501.4,704.3 503.4,704.4 505.4,704.4 507.4,704.5 509.5,704.6 511.5,704.7 513.5,704.8 515.5,704.9 517.5,705.0 519.5,705.1 521.5,705.2 523.5,705.3 525.5,705.4 527.5,705.5 529.5,705.6 531.5,705.7 533.5,705.8 535.5,705.9 537.5,706.1 539.5,706.2 541.5,706.3 543.5,706.5 545.5,706.6 547.5,706.8 549.5,706.9 551.5,707.1 553.5,707.3 555.5,707.4 557.5,707.6 559.5,707.8 561.5,708.0 563.5,708.2 565.5,708.4 567.5,708.6 569.5,708.8 571.5,709.1 573.5,709.3 575.5,709.5 577.5,709.7 579.5,710.0 581.5,710.2 583.5,710.4 585.5,710.6 587.5,710.9 589.5,711.1 591.5,711.3 593.5,711.5 595.5,711.7 597.5,711.9 599.5,712.1 601.6,712.3 603.6,712.5 605.6,712.7 607.6,712.9 609.6,713.1 611.6,713.3 613.6,713.4 615.6,713.6 617.6,713.7 619.6,713.9 621.6,714.0 623.6,714.2 625.6,714.3 627.6,714.4 629.6,714.5 631.6,714.6 633.6,714.8 635.6,714.9 637.6,715.0 639.6,715.1 641.6,715.2 643.6,715.2 645.6,715.3 647.6,715.4 649.6,715.5 651.6,715.6 653.6,715.7 655.6,715.7 657.6,715.8 659.6,715.9 661.6,716.0 663.6,716.1 665.6,716.1 667.6,716.2 669.6,716.3 671.6,716.4 673.6,716.5 675.6,716.6 677.6,716.7 679.6,716.8 681.6,716.9 683.6,717.0 685.6,717.2 687.6,717.3 689.6,717.5 691.7,717.6 693.7,717.8 695.7,717.9 697.7,718.1 699.7,718.3 701.7,718.5 703.7,718.7 705.7,718.9 707.7,719.1 709.7,719.4 711.7,719.6 713.7,719.9 715.7,720.1 717.7,720.4 719.7,720.6 721.7,720.9 723.7,721.2 725.7,721.5 727.7,721.7 729.7,722.0 731.7,722.3 733.7,722.6 735.7,722.8 737.7,723.1 739.7,723.3 741.7,723.6 743.7,723.8 745.7,724.1 747.7,724.3 749.7,724.5 751.7,724.7 753.7,724.9 755.7,725.1 757.7,725.3 759.7,725.5 761.7,725.6 763.7,725.8 765.7,725.9 767.7,726.0 769.7,726.2 771.7,726.3 773.7,726.4 775.7,726.5 777.7,726.5 779.7,726.6 781.8,726.7 783.8,726.7 785.8,726.8 787.8,726.8 789.8,726.9 791.8,726.9 793.8,727.0 795.8,727.0 797.8,727.0 799.8,727.1 801.8,727.1 803.8,727.1 805.8,727.1 807.8,727.1 809.8,727.1 811.8,727.2 813.8,727.2 815.8,727.2 817.8,727.2 819.8,727.2 821.8,727.2 823.8,727.2 825.8,727.2 827.8,727.2 829.8,727.2 831.8,727.2 833.8,727.2 835.8,727.2 837.8,727.2 839.8,727.2 841.8,727.2 843.8,727.2 845.8,727.2 847.8,727.2 849.8,727.2 851.8,727.2 853.8,727.2 855.8,727.2 857.8,727.2 859.8,727.2 861.8,727.2 863.8,727.2 865.8,727.2 867.8,727.3 869.8,727.3 871.8,727.3 873.9,727.3 875.9,727.3 877.9,727.3 879.9,727.3 881.9,727.3 883.9,727.3 885.9,727.3 887.9,727.3 889.9,727.3 891.9,727.3 893.9,727.3 895.9,727.3 897.9,727.3 899.9,727.3 901.9,727.3 903.9,727.3 905.9,727.3 907.9,727.3 909.9,727.3 911.9,727.3 913.9,727.3 915.9,727.3 917.9,727.3 919.9,727.3 921.9,727.3 923.9,727.3 925.9,727.3 927.9,727.3 929.9,727.3 931.9,727.3 933.9,727.3 935.9,727.3 937.9,727.3 939.9,727.3 941.9,727.3 943.9,727.3 945.9,727.3 947.9,727.3 949.9,727.3 951.9,727.3 953.9,727.3 955.9,727.3 957.9,727.3 959.9,727.3 961.9,727.3 964.0,727.3 966.0,727.3 968.0,727.3 970.0,727.3 972.0,727.3 974.0,727.3 976.0,727.3 978.0,727.3 980.0,727.3 982.0,727.3 984.0,727.3 986.0,727.3 988.0,727.3 990.0,727.3 992.0,727.3 994.0,727.3 996.0,727.3 998.0,727.3 1000.0,727.3 1002.0,727.3 1004.0,727.3 1006.0,727.3 1008.0,727.3"/>
<polyline points="100.5,696.1 105.9,703.9 113.0,705.0 117.7,696.1 122.3,703.9 127.0,705.0 131.7,701.6 135.9,696.9 140.3,706.2 144.2,705.0 148.9,699.2 153.6,699.2 158.3,703.1 163.0,696.1 167.7,700.8 171.6,705.5 176.2,696.9 180.9,696.9 185.6,699.2 190.3,698.4 195.0,699.7 199.7,697.7 204.4,696.1 208.3,698.1 213.8,694.5 218.4,694.5 222.3,691.4 227.0,685.6 231.7,703.9 236.4,696.1 241.1,692.2 245.0,694.5 249.7,692.2 254.7,690.8 258.6,698.6 262.5,691.6 267.2,693.9 272.7,689.2 276.6,697.8 281.2,693.9 285.9,692.3 290.6,693.9 295.3,689.2 300.0,693.1 305.5,696.2 309.4,697.0 314.0,697.0 318.8,695.5 322.2,687.7 326.6,695.5 331.2,693.1 335.9,693.1 339.8,690.0 344.5,686.1 349.2,680.6 353.9,688.4 357.8,683.0 362.5,681.4 366.4,686.1 368.8,688.4 372.7,684.5 377.3,689.2 382.0,687.7 386.7,692.3 389.8,680.6 394.5,678.3 400.0,679.8 404.7,679.8 408.1,676.2 412.8,684.0 417.5,671.6 422.2,670.8 426.9,673.1 433.1,673.9 437.0,675.5 440.2,678.6 444.8,667.7 449.5,675.5 453.4,666.1 458.1,662.2 462.8,660.6 467.5,664.5 472.2,669.2 475.3,662.2 478.4,657.5 482.3,656.7 486.2,659.8 490.9,652.8 494.8,654.4 499.5,644.2 503.4,646.6 508.9,639.5 513.6,642.7 517.5,638.8 522.2,627.0 526.1,629.4 529.1,621.6 533.1,613.5 538.6,606.7 545.3,597.2 549.4,586.4 553.5,574.2 557.5,564.7 561.6,552.5 565.7,541.6 568.4,538.2 572.5,542.3 576.5,532.1 582.0,524.7 586.7,529.4 590.1,540.3 594.2,539.6 596.9,545.7 599.6,557.9 605.0,564.7 609.1,571.4 611.8,580.9 614.5,591.8 618.6,608.0 622.6,621.6 628.6,632.5 632.0,634.6 636.0,654.2 640.1,642.7 644.2,648.1 649.6,648.1 655.0,651.5 659.1,646.8 663.8,648.1 668.6,643.4 672.0,629.8 677.4,625.8 681.4,617.6 685.5,608.1 689.6,601.4 693.6,592.2 701.7,571.9 708.5,565.1 710.5,550.2 713.2,533.9 718.6,538.6 720.7,527.1 723.4,523.7 726.8,524.4 728.8,517.6 732.9,512.2 736.3,511.5 739.7,523.0 746.4,535.3 747.8,543.4 753.9,566.4 755.9,575.9 761.4,597.6 765.4,616.6 771.9,644.2 780.1,674.3 784.2,686.6 786.9,690.7 791.0,711.2 795.1,705.7 800.6,711.2 804.7,713.9 808.8,724.8 815.6,718.0 822.5,716.6 827.9,720.1 836.1,719.4 844.3,720.1 849.8,714.6 853.2,723.5 860.0,726.6 866.6,725.5 874.0,727.5 883.2,729.0 891.5,726.6 899.8,721.6 904.0,731.5 908.9,725.7 916.4,721.6 921.4,725.0 926.4,731.5 931.3,725.7 938.0,724.9 944.6,729.9 951.3,725.7 957.9,723.2 964.5,725.7 971.2,722.4 976.2,725.7 981.1,729.0 989.4,720.8 994.4,724.9 999.4,724.9 1007.7,727.4"/>
</g>
<g font-family="Liberation Sans, sans-serif" font-size="30.5" fill="#000" text-anchor="middle">
<text x="145.2" y="811.5">84</text>
<text x="236.1" y="811.5">82</text>
<text x="327.1" y="811.5">80</text>
<text x="418.1" y="811.5">78</text>
<text x="509.0" y="811.5">76</text>
<text x="600.0" y="811.5">74</text>
<text x="690.9" y="811.5">72</text>
<text x="781.9" y="811.5">70</text>
<text x="872.9" y="811.5">68</text>
<text x="963.8" y="811.5">66</text>
</g>
<text font-family="Liberation Sans, sans-serif" font-size="38" x="385.2" y="868.5">Binding Energy / eV</text>
<text font-family="Liberation Sans, sans-serif" font-size="38" textLength="330.6" lengthAdjust="spacingAndGlyphs" transform="translate(40.6,557.9) rotate(-90)">Intensity / Arb. Units</text>
<text font-family="Liberation Sans, sans-serif" font-size="36.8" x="459.4" y="50.2">Pt<tspan font-size="21.4" dx="1.2" dy="-18.2">4+</tspan></text>
<text font-family="Liberation Sans, sans-serif" font-size="36.8" x="613.4" y="42.2">Pt<tspan font-size="22.2" dx="1.6" dy="-18.5">2+</tspan></text>
<text font-family="Liberation Sans, sans-serif" font-size="36.8" x="715.6" y="51.8">Pt<tspan font-size="20.6" dx="0.8" dy="-17.9">0</tspan></text>
<text font-family="Liberation Sans, sans-serif" font-size="38" x="905.5" y="196.1">750<tspan font-size="21.8" dx="0.4" dy="-18.5">o</tspan><tspan dx="0.6" dy="18.5">C</tspan></text>
<text font-family="Liberation Sans, sans-serif" font-size="38" x="906.9" y="332.9">650<tspan font-size="21.8" dx="0.4" dy="-18.5">o</tspan><tspan dx="0.6" dy="18.5">C</tspan></text>
<text font-family="Liberation Sans, sans-serif" font-size="38" x="905.9" y="462.2">550<tspan font-size="21.8" dx="0.4" dy="-18.5">o</tspan><tspan dx="0.6" dy="18.5">C</tspan></text>
<text font-family="Liberation Sans, sans-serif" font-size="38" x="911.2" y="706.0">450<tspan font-size="21.8" dx="0.4" dy="-18.5">o</tspan><tspan dx="0.6" dy="18.5">C</tspan></text>
</svg>
</body></html>
